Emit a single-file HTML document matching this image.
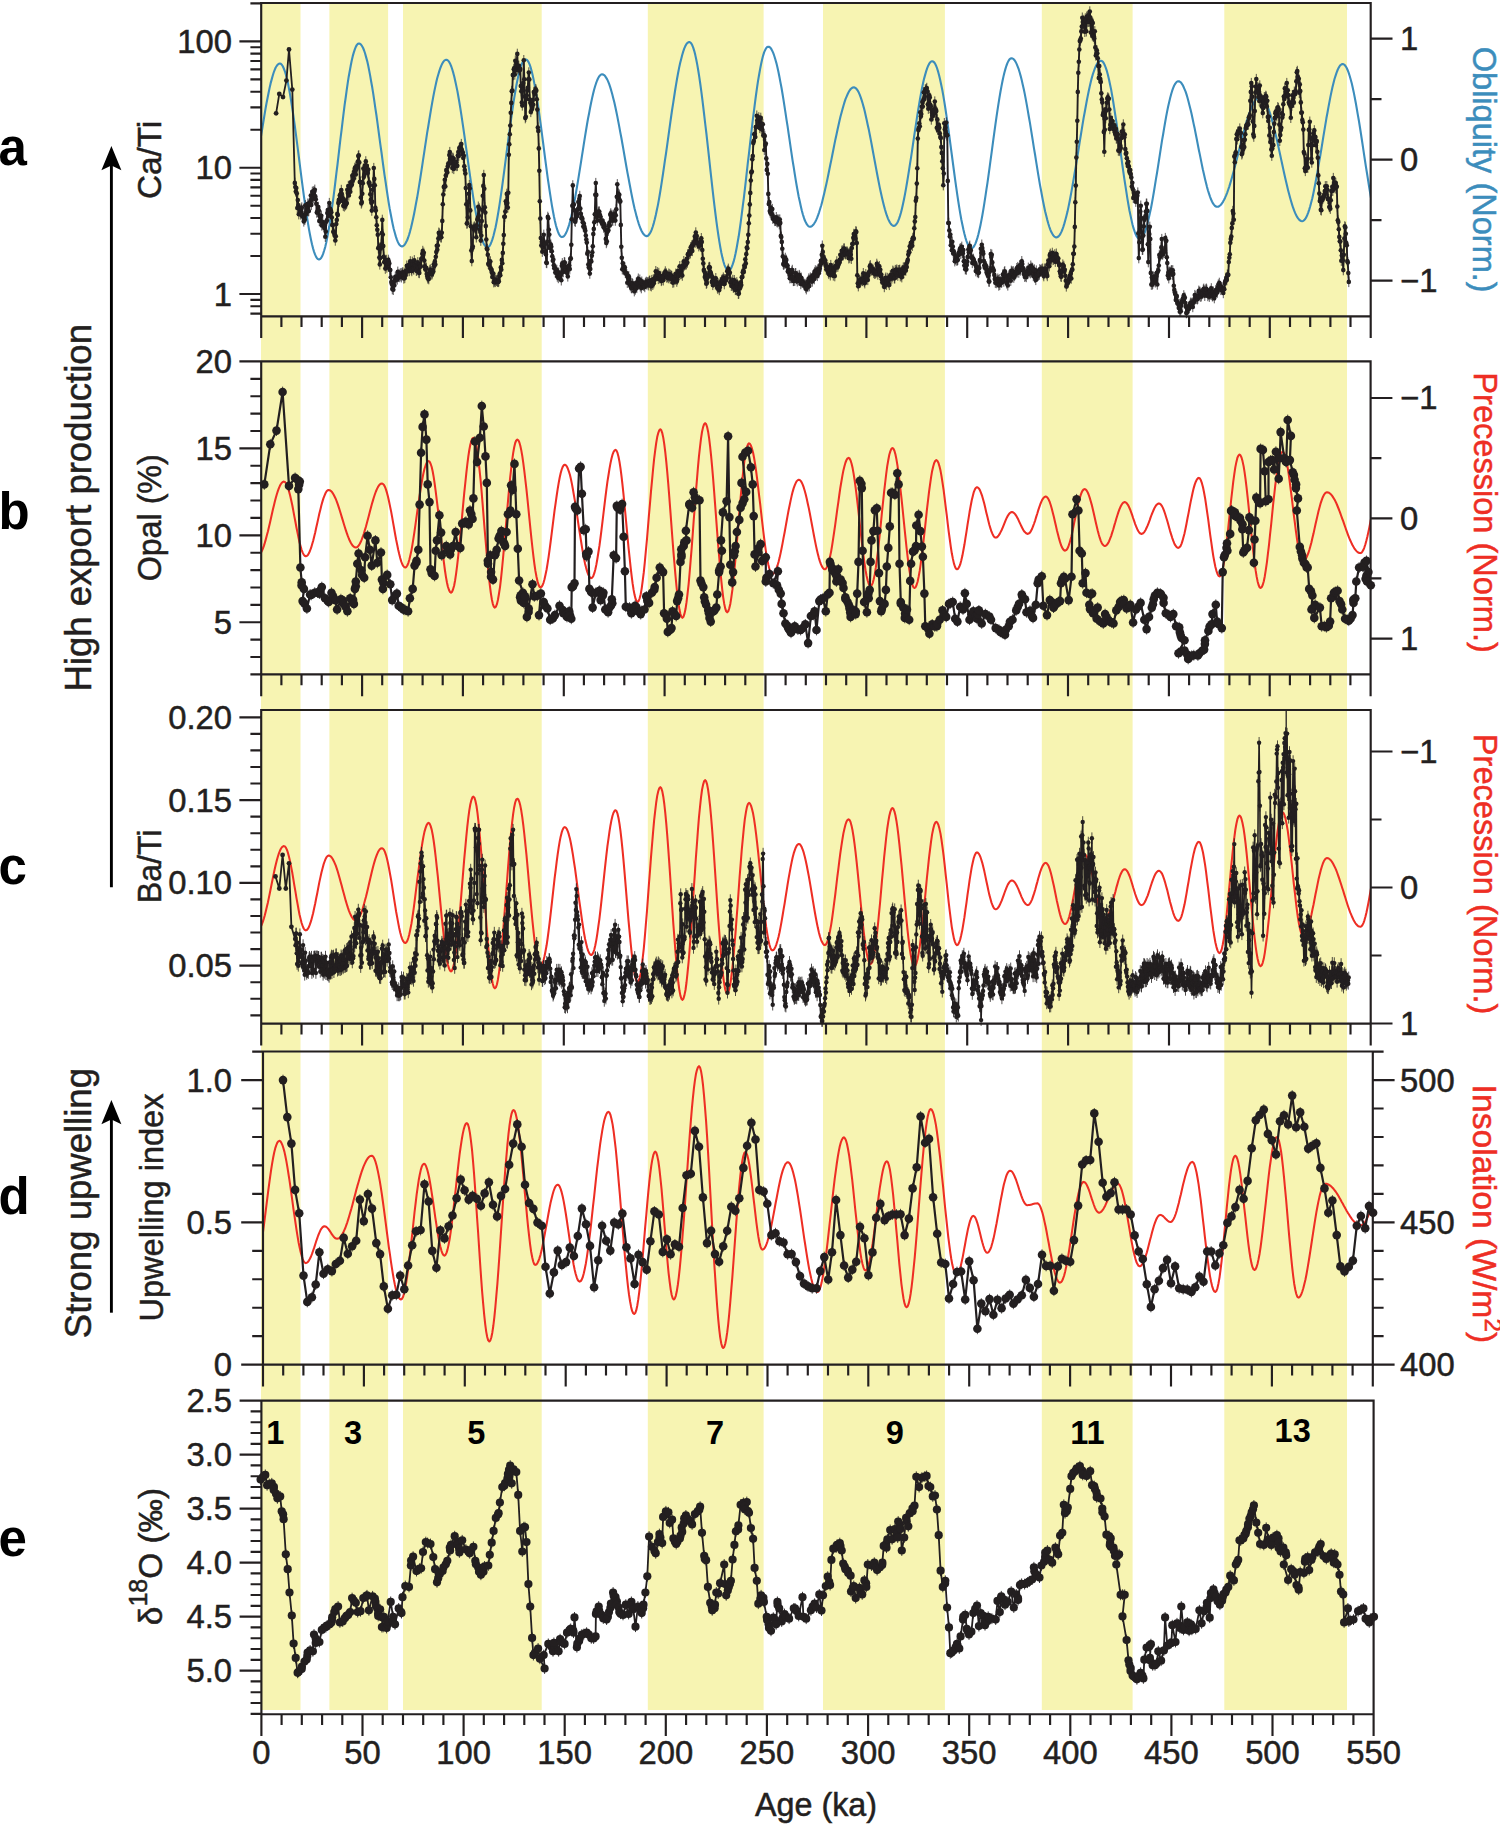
<!DOCTYPE html>
<html lang="en"><head><meta charset="utf-8"><title>Figure</title>
<style>html,body{margin:0;padding:0;background:#fff}body{width:1500px;height:1824px;overflow:hidden}</style></head>
<body>
<svg width="1500" height="1824" viewBox="0 0 1500 1824" style="display:block;font-family:'Liberation Sans',Arial,Helvetica,sans-serif">
<defs>
<clipPath id="cpa"><rect x="261.2" y="2.0" width="1109.5" height="315.3"/></clipPath>
<clipPath id="cpb"><rect x="261.2" y="360.4" width="1109.3999999999999" height="315.0"/></clipPath>
<clipPath id="cpc"><rect x="261.2" y="709.0" width="1109.5" height="315.6"/></clipPath>
<clipPath id="cpd"><rect x="263.0" y="1050.5" width="1109.8" height="315.0999999999999"/></clipPath>
<clipPath id="cpe"><rect x="261.4" y="1399.6" width="1112.1999999999998" height="315.60000000000014"/></clipPath>
<marker id="mBig" markerWidth="12" markerHeight="16" refX="6" refY="8" markerUnits="userSpaceOnUse" overflow="visible"><path d="M6 2.6V13.4" stroke="#231f20" stroke-width="0.8" fill="none"/><circle cx="6" cy="8" r="4.3" fill="#231f20"/></marker>
<marker id="mE" markerWidth="12" markerHeight="16" refX="6" refY="8" markerUnits="userSpaceOnUse" overflow="visible"><path d="M6 2.6V13.4" stroke="#231f20" stroke-width="0.9" fill="none"/><circle cx="6" cy="8" r="4.1" fill="#231f20"/></marker>
<marker id="mSm" markerWidth="8" markerHeight="14" refX="4" refY="7" markerUnits="userSpaceOnUse" overflow="visible"><path d="M4 1.8V12.2" stroke="#231f20" stroke-width="0.75" fill="none"/><circle cx="4" cy="7" r="2.3" fill="#231f20"/></marker>
<marker id="mSc" markerWidth="8" markerHeight="20" refX="4" refY="10" markerUnits="userSpaceOnUse" overflow="visible"><path d="M4 4.2V15.8" stroke="#231f20" stroke-width="0.8" fill="none"/><circle cx="4" cy="10" r="2.2" fill="#231f20"/></marker>
<marker id="mH" markerWidth="8" markerHeight="8" refX="4" refY="4" markerUnits="userSpaceOnUse" overflow="visible"><circle cx="4" cy="4" r="2.4" fill="#231f20"/></marker>
</defs>
<rect width="1500" height="1824" fill="#fff"/>
<rect x="261.0" y="3" width="39.5" height="1707" fill="#f7f4b2"/>
<rect x="329.4" y="3" width="58.7" height="1707" fill="#f7f4b2"/>
<rect x="403.0" y="3" width="138.7" height="1707" fill="#f7f4b2"/>
<rect x="647.8" y="3" width="115.8" height="1707" fill="#f7f4b2"/>
<rect x="823.0" y="3" width="121.9" height="1707" fill="#f7f4b2"/>
<rect x="1041.8" y="3" width="90.8" height="1707" fill="#f7f4b2"/>
<rect x="1224.3" y="3" width="122.7" height="1707" fill="#f7f4b2"/>
<polyline clip-path="url(#cpa)" points="258.4,153.3 259.4,146.7 260.4,140.2 261.4,133.7 262.5,127.3 263.5,121.0 264.5,114.9 265.5,108.9 266.5,103.2 267.6,97.8 268.6,92.7 269.6,87.9 270.6,83.4 271.7,79.4 272.7,75.7 273.7,72.5 274.7,69.8 275.7,67.5 276.8,65.8 277.8,64.5 278.8,63.7 279.8,63.5 280.8,63.8 281.8,64.7 282.8,66.3 283.8,68.5 284.9,71.3 285.9,74.7 286.9,78.6 287.9,83.1 288.9,88.1 289.9,93.6 290.9,99.5 291.9,105.8 292.9,112.5 293.9,119.5 294.9,126.7 295.9,134.2 296.9,141.9 297.9,149.7 298.9,157.5 299.9,165.4 300.9,173.3 301.9,181.1 302.9,188.7 303.9,196.2 305.0,203.5 306.0,210.5 307.0,217.1 308.0,223.4 309.0,229.4 310.0,234.8 311.0,239.8 312.0,244.3 313.0,248.2 314.0,251.6 315.0,254.4 316.0,256.6 317.0,258.2 318.0,259.1 319.0,259.5 320.1,259.1 321.1,258.1 322.1,256.3 323.1,253.9 324.1,250.8 325.2,247.1 326.2,242.7 327.2,237.8 328.2,232.3 329.3,226.3 330.3,219.8 331.3,212.8 332.3,205.5 333.4,197.8 334.4,189.8 335.4,181.5 336.4,173.1 337.5,164.5 338.5,155.8 339.5,147.1 340.5,138.5 341.6,129.9 342.6,121.4 343.6,113.2 344.6,105.2 345.7,97.5 346.7,90.1 347.7,83.2 348.7,76.7 349.8,70.7 350.8,65.2 351.8,60.2 352.8,55.9 353.9,52.1 354.9,49.1 355.9,46.6 356.9,44.9 357.9,43.8 359.0,43.5 360.0,43.8 361.0,44.6 362.0,46.0 363.1,48.0 364.1,50.5 365.1,53.5 366.1,57.1 367.2,61.1 368.2,65.6 369.2,70.6 370.2,75.9 371.2,81.7 372.3,87.8 373.3,94.2 374.3,100.9 375.3,107.9 376.4,115.0 377.4,122.4 378.4,129.8 379.4,137.4 380.4,144.9 381.5,152.5 382.5,160.1 383.5,167.5 384.5,174.9 385.6,182.0 386.6,189.0 387.6,195.7 388.6,202.1 389.6,208.2 390.7,214.0 391.7,219.3 392.7,224.3 393.7,228.8 394.8,232.8 395.8,236.4 396.8,239.4 397.8,241.9 398.8,243.9 399.9,245.3 400.9,246.1 401.9,246.4 402.9,246.2 403.9,245.5 404.9,244.3 405.9,242.6 407.0,240.5 408.0,238.0 409.0,235.0 410.0,231.6 411.0,227.8 412.0,223.6 413.0,219.1 414.0,214.2 415.0,209.0 416.0,203.5 417.1,197.8 418.1,191.8 419.1,185.7 420.1,179.4 421.1,172.9 422.1,166.3 423.1,159.7 424.1,153.1 425.1,146.4 426.1,139.8 427.1,133.2 428.2,126.8 429.2,120.5 430.2,114.3 431.2,108.3 432.2,102.6 433.2,97.1 434.2,91.9 435.2,87.1 436.2,82.5 437.2,78.3 438.3,74.5 439.3,71.1 440.3,68.2 441.3,65.6 442.3,63.5 443.3,61.9 444.3,60.7 445.3,60.0 446.3,59.7 447.3,60.0 448.3,60.8 449.3,62.2 450.3,64.1 451.3,66.5 452.3,69.5 453.3,72.9 454.3,76.8 455.3,81.2 456.3,85.9 457.4,91.1 458.4,96.7 459.4,102.5 460.4,108.7 461.4,115.2 462.4,121.8 463.4,128.7 464.4,135.7 465.4,142.8 466.4,149.9 467.4,157.1 468.4,164.3 469.4,171.4 470.4,178.4 471.4,185.2 472.4,191.9 473.4,198.3 474.4,204.5 475.4,210.4 476.4,215.9 477.4,221.1 478.4,225.9 479.4,230.3 480.4,234.2 481.4,237.6 482.4,240.5 483.4,243.0 484.4,244.9 485.4,246.2 486.4,247.1 487.4,247.3 488.4,247.0 489.4,246.1 490.4,244.5 491.4,242.2 492.4,239.4 493.4,236.0 494.4,232.0 495.5,227.5 496.5,222.5 497.5,217.0 498.5,211.1 499.5,204.8 500.5,198.1 501.5,191.1 502.5,183.9 503.5,176.4 504.5,168.8 505.5,161.1 506.5,153.3 507.5,145.6 508.5,137.9 509.6,130.3 510.6,122.8 511.6,115.6 512.6,108.6 513.6,101.9 514.6,95.6 515.6,89.7 516.6,84.2 517.6,79.2 518.6,74.7 519.6,70.7 520.6,67.3 521.6,64.5 522.6,62.2 523.7,60.6 524.7,59.7 525.7,59.4 526.7,59.7 527.7,60.7 528.7,62.4 529.7,64.7 530.7,67.7 531.7,71.3 532.7,75.4 533.7,80.1 534.7,85.4 535.7,91.1 536.8,97.2 537.8,103.8 538.8,110.7 539.8,117.8 540.8,125.2 541.8,132.8 542.8,140.5 543.8,148.2 544.8,156.0 545.8,163.6 546.8,171.2 547.8,178.6 548.9,185.8 549.9,192.6 550.9,199.2 551.9,205.3 552.9,211.0 553.9,216.3 554.9,221.0 555.9,225.2 556.9,228.7 557.9,231.7 558.9,234.0 559.9,235.7 561.0,236.7 562.0,237.1 563.0,236.8 564.0,236.1 565.0,234.8 566.0,233.1 567.0,230.9 568.0,228.2 569.0,225.1 570.0,221.5 571.0,217.6 572.0,213.2 573.0,208.5 574.0,203.5 575.0,198.2 576.0,192.6 577.0,186.8 578.0,180.8 579.0,174.7 580.0,168.4 581.0,162.1 582.0,155.7 583.0,149.3 584.0,142.9 585.0,136.7 586.0,130.5 587.0,124.5 588.0,118.7 589.1,113.2 590.1,107.8 591.1,102.8 592.1,98.1 593.1,93.8 594.1,89.8 595.1,86.3 596.1,83.2 597.1,80.5 598.1,78.3 599.1,76.5 600.1,75.3 601.1,74.5 602.1,74.3 603.1,74.5 604.1,75.1 605.1,76.1 606.1,77.6 607.2,79.4 608.2,81.6 609.2,84.2 610.2,87.1 611.2,90.4 612.2,94.1 613.2,98.0 614.3,102.2 615.3,106.7 616.3,111.5 617.3,116.4 618.3,121.6 619.3,126.9 620.3,132.4 621.4,138.0 622.4,143.7 623.4,149.4 624.4,155.2 625.4,161.0 626.4,166.7 627.4,172.4 628.5,178.0 629.5,183.5 630.5,188.8 631.5,194.0 632.5,199.0 633.5,203.7 634.5,208.2 635.6,212.4 636.6,216.4 637.6,220.0 638.6,223.3 639.6,226.2 640.6,228.8 641.6,231.0 642.7,232.9 643.7,234.3 644.7,235.3 645.7,235.9 646.7,236.1 647.7,235.9 648.7,235.0 649.7,233.7 650.8,231.8 651.8,229.4 652.8,226.5 653.8,223.1 654.8,219.3 655.8,215.0 656.8,210.2 657.9,205.1 658.9,199.6 659.9,193.7 660.9,187.6 661.9,181.2 662.9,174.5 663.9,167.7 664.9,160.7 666.0,153.5 667.0,146.3 668.0,139.1 669.0,131.8 670.0,124.6 671.0,117.5 672.0,110.5 673.1,103.6 674.1,97.0 675.1,90.5 676.1,84.4 677.1,78.5 678.1,73.0 679.1,67.9 680.1,63.2 681.2,58.9 682.2,55.0 683.2,51.6 684.2,48.7 685.2,46.3 686.2,44.4 687.2,43.1 688.3,42.3 689.3,42.0 690.3,42.4 691.3,43.5 692.3,45.3 693.3,47.9 694.3,51.1 695.3,55.1 696.3,59.7 697.3,64.9 698.3,70.8 699.3,77.1 700.3,84.0 701.3,91.4 702.3,99.2 703.3,107.3 704.3,115.8 705.3,124.5 706.4,133.5 707.4,142.6 708.4,151.7 709.4,160.9 710.4,170.1 711.4,179.2 712.4,188.1 713.4,196.9 714.4,205.3 715.4,213.5 716.4,221.3 717.4,228.6 718.4,235.5 719.4,241.9 720.4,247.7 721.4,253.0 722.4,257.6 723.4,261.5 724.4,264.8 725.5,267.3 726.5,269.2 727.5,270.3 728.5,270.7 729.5,270.3 730.5,269.2 731.5,267.4 732.5,264.9 733.6,261.7 734.6,257.8 735.6,253.3 736.6,248.2 737.6,242.5 738.7,236.3 739.7,229.5 740.7,222.3 741.7,214.7 742.7,206.7 743.8,198.4 744.8,189.8 745.8,181.1 746.8,172.2 747.8,163.2 748.9,154.2 749.9,145.2 750.9,136.3 751.9,127.5 752.9,119.0 754.0,110.7 755.0,102.7 756.0,95.0 757.0,87.8 758.0,81.1 759.1,74.8 760.1,69.1 761.1,64.0 762.1,59.5 763.1,55.6 764.1,52.4 765.2,49.9 766.2,48.1 767.2,47.0 768.2,46.7 769.2,46.9 770.3,47.7 771.3,49.0 772.3,50.9 773.3,53.2 774.3,56.0 775.3,59.3 776.4,63.1 777.4,67.2 778.4,71.8 779.4,76.8 780.4,82.1 781.5,87.8 782.5,93.7 783.5,99.9 784.5,106.3 785.5,112.9 786.5,119.6 787.6,126.4 788.6,133.3 789.6,140.2 790.6,147.1 791.6,153.9 792.6,160.6 793.7,167.2 794.7,173.6 795.7,179.8 796.7,185.7 797.7,191.3 798.7,196.7 799.8,201.6 800.8,206.2 801.8,210.4 802.8,214.2 803.8,217.4 804.8,220.3 805.9,222.6 806.9,224.4 807.9,225.7 808.9,226.5 809.9,226.8 811.0,226.6 812.0,226.1 813.0,225.1 814.0,223.8 815.0,222.2 816.1,220.2 817.1,217.9 818.1,215.2 819.1,212.3 820.1,209.0 821.2,205.5 822.2,201.7 823.2,197.6 824.2,193.4 825.2,189.0 826.3,184.3 827.3,179.6 828.3,174.7 829.3,169.7 830.3,164.7 831.4,159.6 832.4,154.5 833.4,149.5 834.4,144.4 835.4,139.4 836.5,134.6 837.5,129.8 838.5,125.2 839.5,120.8 840.5,116.5 841.6,112.5 842.6,108.7 843.6,105.2 844.6,101.9 845.6,98.9 846.7,96.3 847.7,94.0 848.7,92.0 849.7,90.3 850.7,89.0 851.8,88.1 852.8,87.5 853.8,87.4 854.8,87.6 855.8,88.2 856.8,89.3 857.8,90.7 858.8,92.6 859.8,94.9 860.8,97.6 861.8,100.6 862.8,104.0 863.8,107.6 864.8,111.6 865.8,115.9 866.8,120.4 867.8,125.2 868.9,130.1 869.9,135.2 870.9,140.4 871.9,145.8 872.9,151.2 873.9,156.6 874.9,162.0 875.9,167.4 876.9,172.8 877.9,178.0 878.9,183.1 879.9,188.1 880.9,192.8 881.9,197.3 882.9,201.6 883.9,205.6 884.9,209.3 885.9,212.6 886.9,215.7 887.9,218.3 888.9,220.6 889.9,222.5 890.9,224.0 891.9,225.0 892.9,225.7 893.9,225.9 894.9,225.6 895.9,224.7 897.0,223.3 898.0,221.4 899.0,218.9 900.0,215.9 901.0,212.5 902.0,208.5 903.0,204.1 904.0,199.3 905.0,194.1 906.0,188.6 907.0,182.7 908.0,176.6 909.0,170.3 910.0,163.8 911.1,157.1 912.1,150.3 913.1,143.5 914.1,136.7 915.1,130.0 916.1,123.3 917.1,116.8 918.1,110.5 919.1,104.4 920.1,98.5 921.1,93.0 922.1,87.8 923.1,83.0 924.1,78.6 925.2,74.6 926.2,71.1 927.2,68.2 928.2,65.7 929.2,63.7 930.2,62.3 931.2,61.5 932.2,61.2 933.2,61.5 934.2,62.4 935.2,63.9 936.2,66.0 937.2,68.7 938.2,71.9 939.2,75.7 940.2,80.0 941.2,84.7 942.3,90.0 943.3,95.6 944.3,101.6 945.3,108.0 946.3,114.7 947.3,121.6 948.3,128.7 949.3,136.0 950.3,143.5 951.3,151.0 952.3,158.5 953.3,166.0 954.3,173.5 955.3,180.8 956.3,187.9 957.3,194.8 958.3,201.5 959.3,207.9 960.3,213.9 961.3,219.5 962.4,224.7 963.4,229.5 964.4,233.8 965.4,237.6 966.4,240.8 967.4,243.5 968.4,245.5 969.4,247.1 970.4,248.0 971.4,248.3 972.4,248.0 973.4,247.1 974.4,245.6 975.4,243.6 976.4,241.0 977.4,237.9 978.4,234.3 979.4,230.1 980.4,225.5 981.4,220.4 982.4,215.0 983.4,209.1 984.4,202.9 985.4,196.4 986.4,189.6 987.5,182.6 988.5,175.4 989.5,168.1 990.5,160.7 991.5,153.3 992.5,145.8 993.5,138.4 994.5,131.1 995.5,123.9 996.5,116.9 997.5,110.1 998.5,103.6 999.5,97.4 1000.5,91.5 1001.5,86.1 1002.5,81.0 1003.5,76.4 1004.5,72.2 1005.5,68.6 1006.5,65.5 1007.5,62.9 1008.5,60.9 1009.5,59.4 1010.5,58.5 1011.5,58.2 1012.6,58.5 1013.6,59.2 1014.6,60.3 1015.6,61.9 1016.6,63.9 1017.6,66.3 1018.7,69.2 1019.7,72.5 1020.7,76.1 1021.7,80.1 1022.7,84.5 1023.8,89.2 1024.8,94.1 1025.8,99.4 1026.8,104.9 1027.8,110.6 1028.8,116.5 1029.9,122.6 1030.9,128.8 1031.9,135.1 1032.9,141.4 1033.9,147.8 1035.0,154.2 1036.0,160.6 1037.0,166.9 1038.0,173.1 1039.0,179.2 1040.0,185.1 1041.1,190.8 1042.1,196.3 1043.1,201.5 1044.1,206.5 1045.1,211.2 1046.2,215.6 1047.2,219.6 1048.2,223.2 1049.2,226.5 1050.2,229.3 1051.2,231.8 1052.3,233.8 1053.3,235.4 1054.3,236.5 1055.3,237.2 1056.3,237.4 1057.3,237.2 1058.4,236.5 1059.4,235.4 1060.4,233.9 1061.4,231.9 1062.4,229.5 1063.4,226.6 1064.4,223.4 1065.4,219.8 1066.4,215.9 1067.5,211.6 1068.5,206.9 1069.5,202.0 1070.5,196.8 1071.5,191.4 1072.5,185.8 1073.5,179.9 1074.5,174.0 1075.6,167.8 1076.6,161.6 1077.6,155.4 1078.6,149.1 1079.6,142.7 1080.6,136.5 1081.6,130.3 1082.6,124.2 1083.6,118.2 1084.7,112.3 1085.7,106.7 1086.7,101.3 1087.7,96.1 1088.7,91.2 1089.7,86.6 1090.7,82.3 1091.7,78.3 1092.7,74.7 1093.8,71.5 1094.8,68.7 1095.8,66.2 1096.8,64.2 1097.8,62.7 1098.8,61.6 1099.8,60.9 1100.8,60.7 1101.9,61.0 1102.9,61.9 1103.9,63.4 1104.9,65.5 1105.9,68.2 1107.0,71.4 1108.0,75.2 1109.0,79.5 1110.0,84.2 1111.1,89.4 1112.1,95.1 1113.1,101.0 1114.1,107.4 1115.1,114.0 1116.2,120.9 1117.2,127.9 1118.2,135.1 1119.2,142.4 1120.3,149.8 1121.3,157.2 1122.3,164.5 1123.3,171.7 1124.3,178.7 1125.4,185.6 1126.4,192.2 1127.4,198.6 1128.4,204.5 1129.4,210.2 1130.5,215.4 1131.5,220.1 1132.5,224.4 1133.5,228.2 1134.6,231.4 1135.6,234.1 1136.6,236.2 1137.6,237.7 1138.6,238.6 1139.7,238.9 1140.7,238.7 1141.7,237.9 1142.7,236.5 1143.7,234.7 1144.8,232.3 1145.8,229.4 1146.8,226.1 1147.8,222.3 1148.8,218.1 1149.8,213.5 1150.9,208.5 1151.9,203.2 1152.9,197.6 1153.9,191.7 1154.9,185.7 1155.9,179.4 1157.0,173.0 1158.0,166.6 1159.0,160.1 1160.0,153.6 1161.0,147.1 1162.0,140.7 1163.1,134.5 1164.1,128.4 1165.1,122.5 1166.1,116.9 1167.1,111.6 1168.1,106.7 1169.2,102.0 1170.2,97.8 1171.2,94.0 1172.2,90.7 1173.2,87.8 1174.2,85.5 1175.3,83.6 1176.3,82.3 1177.3,81.5 1178.3,81.2 1179.3,81.4 1180.4,82.1 1181.4,83.1 1182.4,84.6 1183.4,86.5 1184.4,88.8 1185.5,91.4 1186.5,94.4 1187.5,97.8 1188.5,101.5 1189.5,105.4 1190.6,109.7 1191.6,114.1 1192.6,118.8 1193.6,123.6 1194.7,128.6 1195.7,133.7 1196.7,138.8 1197.7,144.0 1198.7,149.2 1199.8,154.4 1200.8,159.4 1201.8,164.4 1202.8,169.2 1203.9,173.9 1204.9,178.4 1205.9,182.6 1206.9,186.6 1207.9,190.2 1209.0,193.6 1210.0,196.6 1211.0,199.3 1212.0,201.5 1213.0,203.4 1214.1,204.9 1215.1,206.0 1216.1,206.6 1217.1,206.8 1218.1,206.7 1219.1,206.2 1220.1,205.5 1221.1,204.5 1222.1,203.2 1223.1,201.6 1224.1,199.8 1225.1,197.7 1226.1,195.4 1227.1,192.8 1228.1,190.0 1229.1,187.1 1230.1,183.9 1231.1,180.5 1232.1,177.0 1233.1,173.4 1234.1,169.7 1235.1,165.8 1236.1,161.9 1237.1,157.9 1238.1,154.0 1239.1,149.9 1240.1,145.9 1241.1,142.0 1242.1,138.1 1243.1,134.2 1244.1,130.5 1245.1,126.9 1246.1,123.4 1247.1,120.0 1248.1,116.8 1249.1,113.9 1250.1,111.1 1251.1,108.5 1252.1,106.2 1253.1,104.1 1254.1,102.3 1255.1,100.7 1256.1,99.4 1257.1,98.4 1258.1,97.7 1259.1,97.2 1260.1,97.1 1261.1,97.2 1262.1,97.8 1263.1,98.6 1264.1,99.8 1265.1,101.4 1266.1,103.2 1267.1,105.4 1268.1,107.9 1269.1,110.6 1270.1,113.6 1271.1,116.9 1272.1,120.4 1273.1,124.2 1274.1,128.1 1275.1,132.2 1276.1,136.5 1277.1,140.8 1278.1,145.3 1279.1,149.9 1280.1,154.5 1281.1,159.1 1282.1,163.8 1283.1,168.4 1284.1,172.9 1285.1,177.4 1286.1,181.8 1287.1,186.1 1288.1,190.2 1289.1,194.1 1290.1,197.8 1291.1,201.3 1292.1,204.6 1293.1,207.7 1294.1,210.4 1295.1,212.9 1296.1,215.1 1297.1,216.9 1298.1,218.4 1299.1,219.6 1300.1,220.5 1301.1,221.0 1302.1,221.2 1303.1,221.0 1304.2,220.2 1305.2,219.0 1306.2,217.4 1307.2,215.2 1308.2,212.6 1309.2,209.6 1310.2,206.2 1311.2,202.4 1312.3,198.2 1313.3,193.7 1314.3,188.8 1315.3,183.7 1316.3,178.3 1317.3,172.7 1318.3,166.9 1319.3,161.0 1320.4,154.9 1321.4,148.8 1322.4,142.6 1323.4,136.4 1324.4,130.3 1325.4,124.3 1326.4,118.3 1327.5,112.5 1328.5,106.9 1329.5,101.6 1330.5,96.4 1331.5,91.6 1332.5,87.0 1333.5,82.9 1334.5,79.0 1335.6,75.6 1336.6,72.6 1337.6,70.0 1338.6,67.9 1339.6,66.2 1340.6,65.0 1341.6,64.3 1342.6,64.0 1343.7,64.3 1344.7,65.0 1345.7,66.3 1346.7,68.0 1347.7,70.2 1348.7,72.9 1349.7,76.0 1350.7,79.5 1351.8,83.5 1352.8,87.9 1353.8,92.6 1354.8,97.7 1355.8,103.0 1356.8,108.7 1357.8,114.6 1358.9,120.7 1359.9,127.0 1360.9,133.5 1361.9,140.0 1362.9,146.7 1363.9,153.3 1364.9,160.0 1365.9,166.7 1367.0,173.2 1368.0,179.7 1369.0,186.0 1370.0,192.1 1371.0,198.0 1372.0,203.7 1373.0,209.0" fill="none" stroke="#3c8dbc" stroke-width="2.1" stroke-linejoin="round"/>
<polyline clip-path="url(#cpb)" points="258.8,555.1 259.8,554.3 260.8,552.9 261.8,551.1 262.8,548.8 263.8,546.1 264.8,542.9 265.8,539.4 266.8,535.6 267.9,531.5 268.9,527.3 269.9,522.9 270.9,518.5 271.9,514.0 272.9,509.6 273.9,505.4 274.9,501.3 275.9,497.5 276.9,494.0 277.9,490.9 278.9,488.1 279.9,485.8 280.9,484.0 281.9,482.7 282.9,481.9 283.9,481.6 285.0,482.0 286.0,483.3 287.1,485.3 288.1,488.1 289.1,491.6 290.2,495.7 291.2,500.3 292.3,505.3 293.3,510.6 294.3,516.1 295.4,521.7 296.4,527.2 297.5,532.6 298.5,537.6 299.5,542.2 300.6,546.3 301.6,549.8 302.7,552.6 303.7,554.6 304.7,555.8 305.8,556.3 306.8,555.9 307.9,554.9 308.9,553.3 309.9,551.0 311.0,548.2 312.0,544.8 313.1,541.0 314.1,536.9 315.2,532.5 316.2,527.8 317.3,523.1 318.3,518.4 319.3,513.8 320.4,509.4 321.4,505.2 322.5,501.4 323.5,498.1 324.6,495.3 325.6,493.0 326.6,491.3 327.7,490.3 328.7,490.0 329.7,490.2 330.7,490.8 331.7,491.7 332.7,493.1 333.7,494.7 334.7,496.7 335.8,499.0 336.8,501.6 337.8,504.4 338.8,507.4 339.8,510.5 340.8,513.8 341.8,517.1 342.8,520.4 343.8,523.7 344.8,527.0 345.8,530.1 346.8,533.1 347.8,535.9 348.8,538.5 349.8,540.8 350.8,542.8 351.8,544.4 352.8,545.8 353.8,546.7 354.8,547.3 355.8,547.5 356.8,547.3 357.8,546.6 358.8,545.4 359.8,543.8 360.8,541.8 361.8,539.4 362.8,536.7 363.8,533.7 364.8,530.4 365.9,526.8 366.9,523.1 367.9,519.3 368.9,515.5 369.9,511.6 370.9,507.8 371.9,504.1 372.9,500.6 373.9,497.3 374.9,494.3 375.9,491.5 376.9,489.1 377.9,487.1 378.9,485.5 379.9,484.4 380.9,483.7 381.9,483.5 382.9,483.9 384.0,485.0 385.0,486.9 386.0,489.6 387.0,492.9 388.0,496.8 389.0,501.2 390.0,506.1 391.1,511.4 392.1,516.9 393.1,522.6 394.1,528.3 395.1,534.0 396.1,539.5 397.2,544.8 398.2,549.7 399.2,554.1 400.2,558.0 401.2,561.4 402.2,564.0 403.2,565.9 404.3,567.1 405.3,567.5 406.3,567.0 407.3,565.5 408.3,563.1 409.3,559.7 410.3,555.5 411.4,550.6 412.4,544.9 413.4,538.7 414.4,532.1 415.4,525.1 416.4,517.9 417.4,510.6 418.5,503.4 419.5,496.5 420.5,489.8 421.5,483.6 422.5,478.0 423.5,473.0 424.5,468.8 425.6,465.5 426.6,463.0 427.6,461.6 428.6,461.1 429.6,461.7 430.6,463.7 431.7,467.0 432.7,471.5 433.7,477.1 434.7,483.8 435.7,491.3 436.7,499.5 437.8,508.3 438.8,517.5 439.8,526.9 440.8,536.2 441.8,545.4 442.9,554.2 443.9,562.4 444.9,570.0 445.9,576.6 446.9,582.2 447.9,586.7 449.0,590.0 450.0,592.0 451.0,592.7 452.0,591.9 453.0,589.5 454.1,585.7 455.1,580.4 456.1,573.7 457.1,565.9 458.1,557.1 459.1,547.4 460.2,537.0 461.2,526.2 462.2,515.2 463.2,504.2 464.2,493.4 465.3,483.0 466.3,473.3 467.3,464.5 468.3,456.7 469.3,450.0 470.3,444.7 471.4,440.9 472.4,438.5 473.4,437.7 474.4,438.7 475.4,441.5 476.5,446.1 477.5,452.5 478.5,460.4 479.5,469.7 480.6,480.2 481.6,491.6 482.6,503.8 483.6,516.3 484.6,529.0 485.7,541.6 486.7,553.7 487.7,565.1 488.7,575.6 489.8,584.9 490.8,592.8 491.8,599.2 492.8,603.8 493.8,606.7 494.9,607.6 495.9,606.7 496.9,604.2 497.9,600.0 498.9,594.3 500.0,587.1 501.0,578.6 502.0,569.0 503.0,558.5 504.0,547.3 505.0,535.6 506.1,523.6 507.1,511.6 508.1,499.9 509.1,488.7 510.1,478.2 511.2,468.6 512.2,460.1 513.2,452.9 514.2,447.2 515.2,443.0 516.2,440.5 517.3,439.6 518.3,440.3 519.3,442.3 520.3,445.7 521.3,450.4 522.3,456.2 523.3,463.1 524.3,470.9 525.3,479.5 526.4,488.8 527.4,498.5 528.4,508.5 529.4,518.6 530.4,528.6 531.4,538.3 532.4,547.5 533.4,556.1 534.4,564.0 535.4,570.9 536.5,576.7 537.5,581.3 538.5,584.7 539.5,586.8 540.5,587.4 541.5,586.9 542.5,585.4 543.5,582.8 544.5,579.2 545.5,574.8 546.6,569.5 547.6,563.4 548.6,556.8 549.6,549.6 550.6,542.0 551.6,534.1 552.6,526.1 553.6,518.1 554.6,510.2 555.7,502.7 556.7,495.5 557.7,488.8 558.7,482.8 559.7,477.5 560.7,473.0 561.7,469.5 562.7,466.9 563.7,465.3 564.8,464.8 565.8,465.2 566.8,466.4 567.8,468.5 568.8,471.3 569.9,474.8 570.9,479.0 571.9,483.9 572.9,489.3 573.9,495.1 575.0,501.4 576.0,507.9 577.0,514.6 578.0,521.5 579.0,528.3 580.1,535.0 581.1,541.5 582.1,547.8 583.1,553.6 584.1,559.0 585.1,563.9 586.2,568.1 587.2,571.6 588.2,574.4 589.2,576.5 590.2,577.7 591.3,578.1 592.3,577.6 593.3,575.9 594.3,573.2 595.3,569.5 596.3,564.9 597.3,559.3 598.3,553.0 599.4,546.0 600.4,538.5 601.4,530.6 602.4,522.4 603.4,514.0 604.4,505.6 605.4,497.4 606.4,489.4 607.4,481.9 608.5,475.0 609.5,468.6 610.5,463.1 611.5,458.5 612.5,454.7 613.5,452.1 614.5,450.4 615.5,449.9 616.5,450.6 617.5,452.9 618.5,456.7 619.5,461.9 620.5,468.4 621.5,476.1 622.5,484.8 623.5,494.3 624.5,504.5 625.5,515.1 626.5,525.9 627.5,536.8 628.5,547.4 629.6,557.5 630.6,567.1 631.6,575.7 632.6,583.4 633.6,589.9 634.6,595.1 635.6,598.9 636.6,601.2 637.6,602.0 638.6,601.1 639.6,598.5 640.7,594.2 641.7,588.3 642.7,580.9 643.8,572.2 644.8,562.3 645.8,551.5 646.9,540.0 647.9,528.0 648.9,515.7 650.0,503.4 651.0,491.3 652.1,479.8 653.1,469.0 654.1,459.1 655.2,450.4 656.2,443.0 657.2,437.1 658.3,432.8 659.3,430.2 660.3,429.3 661.3,430.3 662.3,433.2 663.3,437.9 664.3,444.3 665.3,452.4 666.3,461.9 667.3,472.6 668.3,484.4 669.3,497.0 670.3,510.2 671.3,523.6 672.3,537.0 673.3,550.2 674.4,562.8 675.4,574.6 676.4,585.3 677.4,594.8 678.4,602.9 679.4,609.3 680.4,614.0 681.4,616.9 682.4,617.9 683.4,616.9 684.4,613.9 685.5,609.1 686.5,602.4 687.5,594.1 688.6,584.3 689.6,573.1 690.6,561.0 691.7,547.9 692.7,534.4 693.7,520.5 694.8,506.7 695.8,493.1 696.9,480.1 697.9,467.9 698.9,456.8 700.0,447.0 701.0,438.6 702.0,432.0 703.1,427.1 704.1,424.2 705.1,423.2 706.1,424.1 707.1,427.0 708.1,431.7 709.1,438.2 710.1,446.3 711.1,455.8 712.1,466.6 713.1,478.4 714.1,491.1 715.1,504.3 716.1,517.7 717.1,531.2 718.1,544.4 719.2,557.0 720.2,568.8 721.2,579.6 722.2,589.2 723.2,597.3 724.2,603.7 725.2,608.4 726.2,611.3 727.2,612.3 728.2,611.3 729.2,608.5 730.3,603.9 731.3,597.6 732.4,589.7 733.4,580.5 734.4,570.0 735.5,558.7 736.5,546.6 737.6,534.1 738.6,521.5 739.6,509.0 740.7,496.9 741.7,485.6 742.8,475.1 743.8,465.9 744.8,458.0 745.9,451.7 746.9,447.1 748.0,444.3 749.0,443.3 750.0,443.9 751.0,445.8 752.0,448.7 753.1,452.8 754.1,458.0 755.1,464.1 756.1,471.0 757.1,478.6 758.1,486.8 759.1,495.4 760.2,504.2 761.2,513.1 762.2,522.0 763.2,530.5 764.2,538.7 765.2,546.3 766.2,553.3 767.3,559.3 768.3,564.5 769.3,568.6 770.3,571.6 771.3,573.4 772.3,574.0 773.4,573.7 774.4,572.6 775.4,570.9 776.4,568.6 777.4,565.7 778.5,562.1 779.5,558.1 780.5,553.6 781.5,548.8 782.5,543.6 783.5,538.1 784.6,532.5 785.6,526.9 786.6,521.2 787.6,515.6 788.6,510.2 789.7,505.0 790.7,500.1 791.7,495.6 792.7,491.6 793.7,488.1 794.8,485.1 795.8,482.8 796.8,481.1 797.8,480.1 798.8,479.7 799.8,480.1 800.8,481.0 801.8,482.6 802.8,484.9 803.8,487.7 804.8,491.0 805.8,494.8 806.8,499.1 807.8,503.7 808.9,508.6 809.9,513.8 810.9,519.1 811.9,524.5 812.9,529.9 813.9,535.3 814.9,540.4 815.9,545.4 816.9,550.0 817.9,554.2 818.9,558.1 819.9,561.4 820.9,564.2 821.9,566.4 822.9,568.0 823.9,569.0 824.9,569.3 825.9,568.8 826.9,567.3 828.0,564.7 829.0,561.2 830.0,556.8 831.1,551.6 832.1,545.7 833.1,539.2 834.1,532.3 835.2,524.9 836.2,517.4 837.2,509.8 838.3,502.3 839.3,495.0 840.3,488.0 841.4,481.5 842.4,475.6 843.4,470.4 844.5,466.0 845.5,462.5 846.5,460.0 847.5,458.4 848.6,457.9 849.6,458.5 850.6,460.5 851.6,463.7 852.6,468.1 853.6,473.6 854.6,480.0 855.6,487.3 856.6,495.4 857.6,503.9 858.6,512.9 859.6,522.0 860.6,531.1 861.6,540.1 862.6,548.6 863.6,556.7 864.6,564.0 865.6,570.5 866.6,576.0 867.6,580.3 868.6,583.5 869.6,585.5 870.6,586.1 871.6,585.4 872.7,583.1 873.7,579.3 874.8,574.1 875.8,567.7 876.8,560.1 877.9,551.6 878.9,542.3 880.0,532.4 881.0,522.2 882.0,511.9 883.1,501.7 884.1,491.8 885.2,482.5 886.2,474.0 887.2,466.4 888.3,460.0 889.3,454.8 890.4,451.1 891.4,448.8 892.4,448.0 893.4,448.7 894.4,450.8 895.4,454.3 896.4,459.1 897.4,465.1 898.4,472.2 899.4,480.2 900.4,488.9 901.5,498.3 902.5,508.0 903.5,518.0 904.5,528.0 905.5,537.7 906.5,547.1 907.5,555.8 908.5,563.8 909.5,570.9 910.5,576.9 911.5,581.7 912.5,585.2 913.5,587.3 914.5,588.0 915.5,587.3 916.5,585.2 917.6,581.7 918.6,576.9 919.7,570.9 920.7,563.9 921.7,556.0 922.8,547.4 923.8,538.3 924.9,528.8 925.9,519.3 926.9,509.8 928.0,500.7 929.0,492.1 930.1,484.2 931.1,477.2 932.1,471.2 933.2,466.5 934.2,463.0 935.3,460.8 936.3,460.1 937.3,460.8 938.4,462.8 939.4,466.1 940.5,470.6 941.5,476.1 942.5,482.6 943.6,489.9 944.6,497.9 945.6,506.2 946.7,514.7 947.7,523.3 948.7,531.6 949.8,539.5 950.8,546.8 951.8,553.3 952.9,558.9 953.9,563.4 955.0,566.7 956.0,568.7 957.0,569.3 958.1,568.8 959.1,567.1 960.2,564.4 961.2,560.7 962.3,556.1 963.3,550.7 964.4,544.8 965.4,538.3 966.5,531.7 967.5,524.9 968.6,518.2 969.6,511.8 970.7,505.8 971.7,500.5 972.8,495.9 973.8,492.1 974.9,489.4 975.9,487.8 977.0,487.2 978.0,487.6 979.1,488.7 980.1,490.6 981.1,493.1 982.2,496.2 983.2,499.8 984.3,503.8 985.3,508.0 986.3,512.4 987.4,516.8 988.4,521.0 989.4,525.0 990.5,528.6 991.5,531.7 992.6,534.2 993.6,536.1 994.6,537.2 995.7,537.6 996.7,537.4 997.7,536.6 998.7,535.4 999.7,533.9 1000.7,531.9 1001.8,529.7 1002.8,527.3 1003.8,524.8 1004.8,522.3 1005.8,519.9 1006.8,517.7 1007.8,515.8 1008.9,514.2 1009.9,513.0 1010.9,512.3 1011.9,512.0 1013.0,512.3 1014.0,513.0 1015.1,514.1 1016.1,515.6 1017.2,517.5 1018.3,519.6 1019.3,521.8 1020.4,524.1 1021.4,526.3 1022.5,528.4 1023.5,530.3 1024.6,531.8 1025.7,532.9 1026.7,533.6 1027.8,533.9 1028.8,533.5 1029.9,532.6 1030.9,531.1 1032.0,529.0 1033.0,526.4 1034.1,523.5 1035.2,520.3 1036.2,516.9 1037.3,513.5 1038.3,510.1 1039.4,506.9 1040.4,504.0 1041.5,501.4 1042.5,499.3 1043.6,497.8 1044.6,496.9 1045.7,496.5 1046.7,496.9 1047.7,498.0 1048.8,499.8 1049.8,502.2 1050.8,505.3 1051.8,508.8 1052.8,512.7 1053.9,517.0 1054.9,521.4 1055.9,525.8 1056.9,530.2 1058.0,534.5 1059.0,538.4 1060.0,541.9 1061.0,545.0 1062.0,547.4 1063.1,549.2 1064.1,550.3 1065.1,550.7 1066.1,550.2 1067.2,549.0 1068.2,547.0 1069.2,544.2 1070.2,540.7 1071.3,536.7 1072.3,532.2 1073.3,527.4 1074.3,522.4 1075.4,517.3 1076.4,512.3 1077.4,507.5 1078.4,503.0 1079.5,499.0 1080.5,495.6 1081.5,492.8 1082.5,490.7 1083.6,489.5 1084.6,489.1 1085.6,489.4 1086.6,490.5 1087.6,492.2 1088.6,494.5 1089.6,497.4 1090.6,500.8 1091.7,504.6 1092.7,508.7 1093.7,513.1 1094.7,517.5 1095.7,522.0 1096.7,526.3 1097.7,530.5 1098.7,534.3 1099.7,537.7 1100.7,540.6 1101.7,542.9 1102.7,544.6 1103.8,545.6 1104.8,546.0 1105.8,545.7 1106.9,544.8 1107.9,543.4 1109.0,541.4 1110.0,538.9 1111.1,536.1 1112.1,532.9 1113.2,529.5 1114.2,525.9 1115.3,522.3 1116.3,518.7 1117.4,515.3 1118.4,512.1 1119.5,509.2 1120.5,506.8 1121.6,504.8 1122.6,503.3 1123.7,502.4 1124.7,502.1 1125.8,502.4 1126.8,503.3 1127.9,504.8 1128.9,506.8 1130.0,509.2 1131.0,511.9 1132.1,514.9 1133.1,518.0 1134.2,521.1 1135.2,524.1 1136.3,526.8 1137.3,529.2 1138.4,531.2 1139.4,532.7 1140.5,533.6 1141.5,533.9 1142.6,533.6 1143.6,532.8 1144.6,531.6 1145.6,529.9 1146.6,527.8 1147.7,525.4 1148.7,522.8 1149.7,520.1 1150.7,517.2 1151.7,514.5 1152.8,511.9 1153.8,509.5 1154.8,507.4 1155.8,505.7 1156.9,504.5 1157.9,503.7 1158.9,503.4 1159.9,503.7 1160.9,504.6 1162.0,506.1 1163.0,508.1 1164.0,510.6 1165.0,513.5 1166.0,516.7 1167.1,520.2 1168.1,523.8 1169.1,527.5 1170.1,531.1 1171.2,534.6 1172.2,537.8 1173.2,540.7 1174.2,543.2 1175.2,545.2 1176.3,546.7 1177.3,547.6 1178.3,547.9 1179.3,547.4 1180.4,546.2 1181.4,544.1 1182.4,541.2 1183.4,537.6 1184.5,533.4 1185.5,528.8 1186.5,523.7 1187.5,518.3 1188.6,512.9 1189.6,507.4 1190.6,502.1 1191.7,497.0 1192.7,492.3 1193.7,488.1 1194.7,484.6 1195.8,481.7 1196.8,479.6 1197.8,478.3 1198.8,477.9 1199.9,478.5 1200.9,480.3 1201.9,483.2 1203.0,487.3 1204.0,492.3 1205.1,498.2 1206.1,504.8 1207.1,511.9 1208.2,519.4 1209.2,527.1 1210.2,534.9 1211.3,542.4 1212.3,549.5 1213.3,556.1 1214.4,562.0 1215.4,567.0 1216.5,571.1 1217.5,574.0 1218.5,575.8 1219.6,576.4 1220.6,575.6 1221.7,573.1 1222.7,569.1 1223.8,563.6 1224.8,556.8 1225.9,548.8 1226.9,540.0 1228.0,530.4 1229.0,520.5 1230.1,510.4 1231.1,500.5 1232.2,491.0 1233.2,482.1 1234.3,474.2 1235.3,467.4 1236.4,461.9 1237.4,457.8 1238.5,455.4 1239.5,454.5 1240.5,455.3 1241.5,457.5 1242.5,461.1 1243.6,466.1 1244.6,472.3 1245.6,479.7 1246.6,487.9 1247.6,496.9 1248.6,506.4 1249.6,516.3 1250.6,526.3 1251.6,536.1 1252.6,545.6 1253.6,554.6 1254.6,562.9 1255.6,570.2 1256.6,576.4 1257.6,581.4 1258.6,585.0 1259.6,587.3 1260.6,588.0 1261.7,587.2 1262.7,585.0 1263.8,581.3 1264.8,576.2 1265.8,569.8 1266.9,562.3 1267.9,553.9 1269.0,544.8 1270.0,535.0 1271.1,525.0 1272.1,514.8 1273.1,504.7 1274.2,495.0 1275.2,485.8 1276.3,477.4 1277.3,469.9 1278.4,463.6 1279.4,458.5 1280.4,454.8 1281.5,452.5 1282.5,451.7 1283.6,452.4 1284.6,454.4 1285.6,457.7 1286.6,462.2 1287.7,467.7 1288.7,474.2 1289.7,481.5 1290.7,489.5 1291.8,497.8 1292.8,506.3 1293.8,514.9 1294.9,523.2 1295.9,531.1 1296.9,538.4 1297.9,544.9 1299.0,550.5 1300.0,555.0 1301.0,558.3 1302.0,560.3 1303.1,560.9 1304.1,560.6 1305.1,559.7 1306.2,558.1 1307.2,555.9 1308.3,553.2 1309.3,550.0 1310.3,546.4 1311.4,542.4 1312.4,538.1 1313.5,533.6 1314.5,528.9 1315.5,524.2 1316.6,519.6 1317.6,515.1 1318.6,510.8 1319.7,506.8 1320.7,503.1 1321.8,499.9 1322.8,497.2 1323.8,495.1 1324.9,493.5 1325.9,492.6 1327.0,492.2 1328.0,492.4 1329.0,492.8 1330.0,493.5 1331.0,494.4 1332.0,495.6 1333.0,497.1 1334.0,498.7 1335.1,500.6 1336.1,502.7 1337.1,505.0 1338.1,507.5 1339.1,510.0 1340.1,512.7 1341.1,515.5 1342.1,518.3 1343.2,521.2 1344.2,524.1 1345.2,527.0 1346.2,529.8 1347.2,532.6 1348.2,535.3 1349.2,537.9 1350.2,540.3 1351.3,542.6 1352.3,544.7 1353.3,546.6 1354.3,548.3 1355.3,549.7 1356.3,550.9 1357.3,551.9 1358.3,552.5 1359.4,553.0 1360.4,553.1 1361.4,552.7 1362.4,551.6 1363.4,549.8 1364.4,547.3 1365.4,544.2 1366.4,540.6 1367.4,536.5 1368.4,531.9 1369.4,527.1 1370.4,522.0 1371.4,516.9 1372.4,511.7 1373.4,506.7" fill="none" stroke="#ee2e24" stroke-width="2.05" stroke-linejoin="round"/>
<polyline clip-path="url(#cpc)" points="258.8,929.0 259.8,928.1 260.8,926.6 261.8,924.5 262.8,921.9 263.8,918.8 264.8,915.3 265.8,911.3 266.8,907.0 267.9,902.4 268.9,897.6 269.9,892.7 270.9,887.7 271.9,882.7 272.9,877.7 273.9,872.9 274.9,868.3 275.9,864.0 276.9,860.1 277.9,856.5 278.9,853.4 279.9,850.8 280.9,848.8 281.9,847.3 282.9,846.4 283.9,846.1 285.0,846.5 286.0,847.9 287.1,850.2 288.1,853.4 289.1,857.3 290.2,861.9 291.2,867.1 292.3,872.8 293.3,878.8 294.3,885.1 295.4,891.4 296.4,897.6 297.5,903.6 298.5,909.3 299.5,914.5 300.6,919.1 301.6,923.0 302.7,926.2 303.7,928.5 304.7,929.9 305.8,930.4 306.8,930.0 307.9,928.8 308.9,927.0 309.9,924.4 311.0,921.2 312.0,917.4 313.1,913.2 314.1,908.5 315.2,903.5 316.2,898.3 317.3,893.0 318.3,887.6 319.3,882.4 320.4,877.4 321.4,872.7 322.5,868.5 323.5,864.7 324.6,861.5 325.6,858.9 326.6,857.1 327.7,855.9 328.7,855.6 329.7,855.8 330.7,856.4 331.7,857.5 332.7,859.0 333.7,860.9 334.7,863.1 335.8,865.7 336.8,868.6 337.8,871.8 338.8,875.2 339.8,878.7 340.8,882.4 341.8,886.1 342.8,889.9 343.8,893.6 344.8,897.3 345.8,900.9 346.8,904.2 347.8,907.4 348.8,910.3 349.8,912.9 350.8,915.1 351.8,917.0 352.8,918.5 353.8,919.6 354.8,920.2 355.8,920.5 356.8,920.2 357.8,919.4 358.8,918.1 359.8,916.3 360.8,914.1 361.8,911.4 362.8,908.3 363.8,904.8 364.8,901.1 365.9,897.1 366.9,893.0 367.9,888.7 368.9,884.3 369.9,880.0 370.9,875.7 371.9,871.5 372.9,867.5 373.9,863.8 374.9,860.4 375.9,857.3 376.9,854.6 377.9,852.3 378.9,850.5 379.9,849.2 380.9,848.4 381.9,848.2 382.9,848.6 384.0,849.9 385.0,852.1 386.0,855.1 387.0,858.8 388.0,863.2 389.0,868.2 390.0,873.8 391.1,879.7 392.1,885.9 393.1,892.4 394.1,898.8 395.1,905.2 396.1,911.5 397.2,917.4 398.2,922.9 399.2,928.0 400.2,932.4 401.2,936.1 402.2,939.1 403.2,941.2 404.3,942.6 405.3,943.0 406.3,942.4 407.3,940.8 408.3,938.0 409.3,934.3 410.3,929.5 411.4,923.9 412.4,917.6 413.4,910.6 414.4,903.1 415.4,895.2 416.4,887.0 417.4,878.8 418.5,870.7 419.5,862.8 420.5,855.3 421.5,848.3 422.5,842.0 423.5,836.4 424.5,831.6 425.6,827.9 426.6,825.1 427.6,823.5 428.6,822.9 429.6,823.6 430.6,825.9 431.7,829.6 432.7,834.7 433.7,841.0 434.7,848.5 435.7,857.0 436.7,866.3 437.8,876.2 438.8,886.6 439.8,897.2 440.8,907.7 441.8,918.1 442.9,928.0 443.9,937.3 444.9,945.8 445.9,953.3 446.9,959.7 447.9,964.7 449.0,968.4 450.0,970.7 451.0,971.4 452.0,970.6 453.0,967.9 454.1,963.5 455.1,957.6 456.1,950.1 457.1,941.3 458.1,931.3 459.1,920.3 460.2,908.6 461.2,896.4 462.2,884.0 463.2,871.6 464.2,859.4 465.3,847.7 466.3,836.7 467.3,826.7 468.3,817.9 469.3,810.4 470.3,804.5 471.4,800.1 472.4,797.4 473.4,796.6 474.4,797.6 475.4,800.8 476.5,806.0 477.5,813.2 478.5,822.1 479.5,832.7 480.6,844.5 481.6,857.4 482.6,871.1 483.6,885.3 484.6,899.6 485.7,913.8 486.7,927.5 487.7,940.4 488.7,952.2 489.8,962.7 490.8,971.6 491.8,978.8 492.8,984.0 493.8,987.2 494.9,988.3 495.9,987.3 496.9,984.5 497.9,979.7 498.9,973.3 500.0,965.1 501.0,955.6 502.0,944.7 503.0,932.9 504.0,920.2 505.0,907.0 506.1,893.5 507.1,880.0 508.1,866.8 509.1,854.1 510.1,842.2 511.2,831.4 512.2,821.8 513.2,813.7 514.2,807.2 515.2,802.5 516.2,799.6 517.3,798.7 518.3,799.4 519.3,801.8 520.3,805.6 521.3,810.8 522.3,817.4 523.3,825.1 524.3,834.0 525.3,843.7 526.4,854.2 527.4,865.1 528.4,876.4 529.4,887.8 530.4,899.1 531.4,910.0 532.4,920.5 533.4,930.2 534.4,939.1 535.4,946.8 536.5,953.4 537.5,958.6 538.5,962.5 539.5,964.8 540.5,965.5 541.5,965.0 542.5,963.2 543.5,960.3 544.5,956.3 545.5,951.2 546.6,945.3 547.6,938.5 548.6,930.9 549.6,922.8 550.6,914.2 551.6,905.4 552.6,896.3 553.6,887.3 554.6,878.4 555.7,869.8 556.7,861.7 557.7,854.2 558.7,847.4 559.7,841.4 560.7,836.4 561.7,832.4 562.7,829.5 563.7,827.7 564.8,827.1 565.8,827.6 566.8,829.0 567.8,831.3 568.8,834.4 569.9,838.4 570.9,843.2 571.9,848.7 572.9,854.7 573.9,861.3 575.0,868.4 576.0,875.8 577.0,883.4 578.0,891.1 579.0,898.8 580.1,906.4 581.1,913.7 582.1,920.8 583.1,927.4 584.1,933.5 585.1,938.9 586.2,943.7 587.2,947.7 588.2,950.9 589.2,953.2 590.2,954.5 591.3,955.0 592.3,954.4 593.3,952.5 594.3,949.5 595.3,945.3 596.3,940.1 597.3,933.8 598.3,926.7 599.4,918.8 600.4,910.3 601.4,901.4 602.4,892.1 603.4,882.6 604.4,873.2 605.4,863.9 606.4,854.9 607.4,846.4 608.5,838.6 609.5,831.4 610.5,825.2 611.5,819.9 612.5,815.8 613.5,812.7 614.5,810.9 615.5,810.2 616.5,811.1 617.5,813.7 618.5,818.0 619.5,823.9 620.5,831.2 621.5,839.9 622.5,849.7 623.5,860.4 624.5,871.9 625.5,883.9 626.5,896.1 627.5,908.3 628.5,920.3 629.6,931.8 630.6,942.5 631.6,952.3 632.6,961.0 633.6,968.4 634.6,974.2 635.6,978.5 636.6,981.1 637.6,982.0 638.6,981.0 639.6,978.0 640.7,973.2 641.7,966.5 642.7,958.2 643.8,948.3 644.8,937.2 645.8,925.0 646.9,912.0 647.9,898.4 648.9,884.5 650.0,870.7 651.0,857.1 652.1,844.0 653.1,831.8 654.1,820.7 655.2,810.9 656.2,802.5 657.2,795.9 658.3,791.0 659.3,788.1 660.3,787.1 661.3,788.2 662.3,791.4 663.3,796.7 664.3,804.0 665.3,813.1 666.3,823.8 667.3,836.0 668.3,849.3 669.3,863.5 670.3,878.3 671.3,893.5 672.3,908.6 673.3,923.5 674.4,937.7 675.4,951.0 676.4,963.2 677.4,973.9 678.4,983.0 679.4,990.3 680.4,995.6 681.4,998.8 682.4,999.9 683.4,998.8 684.4,995.4 685.5,990.0 686.5,982.5 687.5,973.1 688.6,962.0 689.6,949.4 690.6,935.7 691.7,921.0 692.7,905.6 693.7,890.0 694.8,874.4 695.8,859.0 696.9,844.4 697.9,830.6 698.9,818.0 700.0,807.0 701.0,797.6 702.0,790.0 703.1,784.6 704.1,781.2 705.1,780.1 706.1,781.2 707.1,784.4 708.1,789.8 709.1,797.1 710.1,806.2 711.1,817.0 712.1,829.1 713.1,842.5 714.1,856.8 715.1,871.7 716.1,886.8 717.1,902.0 718.1,916.9 719.2,931.2 720.2,944.5 721.2,956.7 722.2,967.5 723.2,976.6 724.2,983.9 725.2,989.3 726.2,992.5 727.2,993.6 728.2,992.5 729.2,989.3 730.3,984.1 731.3,977.0 732.4,968.1 733.4,957.7 734.4,945.9 735.5,933.1 736.5,919.4 737.6,905.3 738.6,891.1 739.6,877.0 740.7,863.4 741.7,850.5 742.8,838.8 743.8,828.3 744.8,819.4 745.9,812.3 746.9,807.1 748.0,803.9 749.0,802.9 750.0,803.6 751.0,805.6 752.0,809.0 753.1,813.6 754.1,819.4 755.1,826.3 756.1,834.1 757.1,842.7 758.1,851.9 759.1,861.6 760.2,871.6 761.2,881.7 762.2,891.6 763.2,901.3 764.2,910.6 765.2,919.2 766.2,927.0 767.3,933.8 768.3,939.6 769.3,944.3 770.3,947.6 771.3,949.7 772.3,950.4 773.4,950.0 774.4,948.8 775.4,946.9 776.4,944.3 777.4,941.0 778.5,937.0 779.5,932.5 780.5,927.4 781.5,921.9 782.5,916.0 783.5,909.9 784.6,903.6 785.6,897.2 786.6,890.8 787.6,884.4 788.6,878.3 789.7,872.4 790.7,866.9 791.7,861.9 792.7,857.3 793.7,853.4 794.8,850.1 795.8,847.4 796.8,845.5 797.8,844.4 798.8,844.0 799.8,844.3 800.8,845.4 801.8,847.3 802.8,849.8 803.8,852.9 804.8,856.7 805.8,861.0 806.8,865.8 807.8,871.0 808.9,876.6 809.9,882.4 810.9,888.4 811.9,894.5 812.9,900.6 813.9,906.6 814.9,912.5 815.9,918.0 816.9,923.3 817.9,928.1 818.9,932.4 819.9,936.2 820.9,939.3 821.9,941.8 822.9,943.6 823.9,944.7 824.9,945.1 825.9,944.5 826.9,942.8 828.0,939.9 829.0,936.0 830.0,931.0 831.1,925.1 832.1,918.5 833.1,911.1 834.1,903.3 835.2,895.0 836.2,886.5 837.2,877.9 838.3,869.4 839.3,861.1 840.3,853.3 841.4,845.9 842.4,839.3 843.4,833.4 844.5,828.5 845.5,824.5 846.5,821.6 847.5,819.9 848.6,819.3 849.6,820.0 850.6,822.2 851.6,825.9 852.6,830.8 853.6,837.0 854.6,844.3 855.6,852.6 856.6,861.6 857.6,871.3 858.6,881.4 859.6,891.7 860.6,902.0 861.6,912.1 862.6,921.8 863.6,930.8 864.6,939.1 865.6,946.4 866.6,952.6 867.6,957.5 868.6,961.1 869.6,963.3 870.6,964.1 871.6,963.2 872.7,960.6 873.7,956.4 874.8,950.5 875.8,943.3 876.8,934.7 877.9,925.1 878.9,914.6 880.0,903.5 881.0,891.9 882.0,880.3 883.1,868.8 884.1,857.6 885.2,847.1 886.2,837.5 887.2,829.0 888.3,821.7 889.3,815.9 890.4,811.6 891.4,809.0 892.4,808.1 893.4,808.9 894.4,811.3 895.4,815.3 896.4,820.7 897.4,827.4 898.4,835.4 899.4,844.4 900.4,854.3 901.5,864.9 902.5,875.9 903.5,887.2 904.5,898.4 905.5,909.4 906.5,920.0 907.5,929.9 908.5,938.9 909.5,946.9 910.5,953.6 911.5,959.0 912.5,963.0 913.5,965.4 914.5,966.2 915.5,965.4 916.5,963.0 917.6,959.0 918.6,953.6 919.7,946.9 920.7,939.0 921.7,930.1 922.8,920.4 923.8,910.1 924.9,899.4 925.9,888.6 926.9,878.0 928.0,867.6 929.0,857.9 930.1,849.0 931.1,841.1 932.1,834.4 933.2,829.0 934.2,825.0 935.3,822.6 936.3,821.8 937.3,822.6 938.4,824.9 939.4,828.6 940.5,833.6 941.5,839.9 942.5,847.2 943.6,855.5 944.6,864.4 945.6,873.8 946.7,883.5 947.7,893.1 948.7,902.5 949.8,911.5 950.8,919.7 951.8,927.1 952.9,933.3 953.9,938.4 955.0,942.1 956.0,944.3 957.0,945.1 958.1,944.5 959.1,942.6 960.2,939.5 961.2,935.3 962.3,930.1 963.3,924.1 964.4,917.4 965.4,910.1 966.5,902.6 967.5,894.9 968.6,887.4 969.6,880.1 970.7,873.4 971.7,867.4 972.8,862.2 973.8,858.0 974.9,854.9 975.9,853.0 977.0,852.4 978.0,852.8 979.1,854.1 980.1,856.2 981.1,859.0 982.2,862.6 983.2,866.6 984.3,871.1 985.3,875.9 986.3,880.8 987.4,885.8 988.4,890.6 989.4,895.1 990.5,899.1 991.5,902.6 992.6,905.5 993.6,907.6 994.6,908.9 995.7,909.3 996.7,909.0 997.7,908.2 998.7,906.9 999.7,905.1 1000.7,902.9 1001.8,900.4 1002.8,897.7 1003.8,894.9 1004.8,892.0 1005.8,889.3 1006.8,886.8 1007.8,884.6 1008.9,882.9 1009.9,881.5 1010.9,880.7 1011.9,880.4 1013.0,880.7 1014.0,881.5 1015.1,882.8 1016.1,884.5 1017.2,886.6 1018.3,888.9 1019.3,891.5 1020.4,894.0 1021.4,896.6 1022.5,898.9 1023.5,901.0 1024.6,902.7 1025.7,904.0 1026.7,904.8 1027.8,905.1 1028.8,904.7 1029.9,903.6 1030.9,901.9 1032.0,899.6 1033.0,896.7 1034.1,893.4 1035.2,889.8 1036.2,885.9 1037.3,882.1 1038.3,878.2 1039.4,874.6 1040.4,871.3 1041.5,868.4 1042.5,866.1 1043.6,864.4 1044.6,863.3 1045.7,862.9 1046.7,863.3 1047.7,864.6 1048.8,866.6 1049.8,869.4 1050.8,872.8 1051.8,876.8 1052.8,881.2 1053.9,886.0 1054.9,891.0 1055.9,896.0 1056.9,901.0 1058.0,905.8 1059.0,910.2 1060.0,914.2 1061.0,917.6 1062.0,920.4 1063.1,922.4 1064.1,923.6 1065.1,924.0 1066.1,923.6 1067.2,922.2 1068.2,919.8 1069.2,916.7 1070.2,912.8 1071.3,908.3 1072.3,903.2 1073.3,897.8 1074.3,892.1 1075.4,886.4 1076.4,880.7 1077.4,875.3 1078.4,870.3 1079.5,865.7 1080.5,861.8 1081.5,858.7 1082.5,856.4 1083.6,855.0 1084.6,854.5 1085.6,854.9 1086.6,856.1 1087.6,858.0 1088.6,860.6 1089.6,863.9 1090.6,867.7 1091.7,872.0 1092.7,876.7 1093.7,881.6 1094.7,886.6 1095.7,891.7 1096.7,896.6 1097.7,901.2 1098.7,905.5 1099.7,909.4 1100.7,912.6 1101.7,915.3 1102.7,917.2 1103.8,918.4 1104.8,918.8 1105.8,918.4 1106.9,917.4 1107.9,915.8 1109.0,913.5 1110.0,910.8 1111.1,907.6 1112.1,904.0 1113.2,900.1 1114.2,896.1 1115.3,892.0 1116.3,887.9 1117.4,884.1 1118.4,880.5 1119.5,877.2 1120.5,874.5 1121.6,872.2 1122.6,870.6 1123.7,869.6 1124.7,869.3 1125.8,869.6 1126.8,870.6 1127.9,872.3 1128.9,874.5 1130.0,877.2 1131.0,880.3 1132.1,883.7 1133.1,887.2 1134.2,890.7 1135.2,894.0 1136.3,897.1 1137.3,899.8 1138.4,902.1 1139.4,903.7 1140.5,904.7 1141.5,905.1 1142.6,904.8 1143.6,903.9 1144.6,902.5 1145.6,900.6 1146.6,898.2 1147.7,895.6 1148.7,892.6 1149.7,889.5 1150.7,886.3 1151.7,883.2 1152.8,880.2 1153.8,877.5 1154.8,875.2 1155.8,873.3 1156.9,871.9 1157.9,871.0 1158.9,870.7 1159.9,871.1 1160.9,872.1 1162.0,873.7 1163.0,876.0 1164.0,878.8 1165.0,882.1 1166.0,885.7 1167.1,889.6 1168.1,893.7 1169.1,897.9 1170.1,902.0 1171.2,905.9 1172.2,909.5 1173.2,912.8 1174.2,915.6 1175.2,917.9 1176.3,919.5 1177.3,920.5 1178.3,920.9 1179.3,920.4 1180.4,918.9 1181.4,916.6 1182.4,913.3 1183.4,909.3 1184.5,904.6 1185.5,899.3 1186.5,893.6 1187.5,887.5 1188.6,881.4 1189.6,875.2 1190.6,869.2 1191.7,863.4 1192.7,858.1 1193.7,853.4 1194.7,849.4 1195.8,846.2 1196.8,843.8 1197.8,842.3 1198.8,841.9 1199.9,842.5 1200.9,844.6 1201.9,847.9 1203.0,852.5 1204.0,858.2 1205.1,864.8 1206.1,872.2 1207.1,880.3 1208.2,888.8 1209.2,897.5 1210.2,906.2 1211.3,914.7 1212.3,922.7 1213.3,930.2 1214.4,936.8 1215.4,942.5 1216.5,947.1 1217.5,950.4 1218.5,952.4 1219.6,953.1 1220.6,952.2 1221.7,949.4 1222.7,944.8 1223.8,938.6 1224.8,930.9 1225.9,921.9 1226.9,912.0 1228.0,901.2 1229.0,890.0 1230.1,878.6 1231.1,867.4 1232.2,856.7 1233.2,846.7 1234.3,837.7 1235.3,830.0 1236.4,823.8 1237.4,819.2 1238.5,816.5 1239.5,815.5 1240.5,816.4 1241.5,818.9 1242.5,823.0 1243.6,828.6 1244.6,835.6 1245.6,843.9 1246.6,853.2 1247.6,863.3 1248.6,874.1 1249.6,885.2 1250.6,896.5 1251.6,907.6 1252.6,918.4 1253.6,928.5 1254.6,937.8 1255.6,946.1 1256.6,953.1 1257.6,958.7 1258.6,962.8 1259.6,965.3 1260.6,966.2 1261.7,965.3 1262.7,962.8 1263.8,958.6 1264.8,952.8 1265.8,945.6 1266.9,937.2 1267.9,927.7 1269.0,917.4 1270.0,906.4 1271.1,895.0 1272.1,883.5 1273.1,872.2 1274.2,861.2 1275.2,850.8 1276.3,841.3 1277.3,832.9 1278.4,825.7 1279.4,820.0 1280.4,815.8 1281.5,813.2 1282.5,812.4 1283.6,813.1 1284.6,815.4 1285.6,819.1 1286.6,824.1 1287.7,830.4 1288.7,837.8 1289.7,846.0 1290.7,854.9 1291.8,864.3 1292.8,874.0 1293.8,883.6 1294.9,893.0 1295.9,902.0 1296.9,910.2 1297.9,917.6 1299.0,923.9 1300.0,928.9 1301.0,932.6 1302.0,934.9 1303.1,935.6 1304.1,935.3 1305.1,934.2 1306.2,932.4 1307.2,930.0 1308.3,926.9 1309.3,923.3 1310.3,919.2 1311.4,914.7 1312.4,909.8 1313.5,904.7 1314.5,899.5 1315.5,894.2 1316.6,889.0 1317.6,883.9 1318.6,879.0 1319.7,874.5 1320.7,870.4 1321.8,866.8 1322.8,863.7 1323.8,861.3 1324.9,859.5 1325.9,858.4 1327.0,858.1 1328.0,858.2 1329.0,858.7 1330.0,859.5 1331.0,860.5 1332.0,861.9 1333.0,863.5 1334.0,865.4 1335.1,867.6 1336.1,869.9 1337.1,872.5 1338.1,875.3 1339.1,878.2 1340.1,881.2 1341.1,884.3 1342.1,887.5 1343.2,890.8 1344.2,894.1 1345.2,897.3 1346.2,900.5 1347.2,903.7 1348.2,906.7 1349.2,909.6 1350.2,912.4 1351.3,914.9 1352.3,917.3 1353.3,919.4 1354.3,921.3 1355.3,923.0 1356.3,924.3 1357.3,925.4 1358.3,926.2 1359.4,926.6 1360.4,926.8 1361.4,926.4 1362.4,925.1 1363.4,923.1 1364.4,920.3 1365.4,916.8 1366.4,912.7 1367.4,908.0 1368.4,902.9 1369.4,897.4 1370.4,891.7 1371.4,885.9 1372.4,880.1 1373.4,874.4" fill="none" stroke="#ee2e24" stroke-width="2.05" stroke-linejoin="round"/>
<polyline clip-path="url(#cpd)" points="260.2,1251.0 261.2,1244.7 262.2,1237.9 263.2,1230.6 264.2,1222.9 265.2,1215.1 266.2,1207.1 267.2,1199.1 268.2,1191.2 269.2,1183.6 270.2,1176.3 271.2,1169.4 272.2,1163.1 273.2,1157.5 274.2,1152.5 275.2,1148.4 276.3,1145.1 277.3,1142.7 278.3,1141.3 279.3,1140.8 280.3,1141.2 281.3,1142.6 282.3,1144.8 283.3,1147.8 284.4,1151.6 285.4,1156.2 286.4,1161.4 287.4,1167.2 288.4,1173.5 289.5,1180.3 290.5,1187.3 291.5,1194.6 292.5,1201.9 293.5,1209.3 294.6,1216.6 295.6,1223.6 296.6,1230.3 297.6,1236.7 298.6,1242.5 299.7,1247.7 300.7,1252.2 301.7,1256.1 302.7,1259.1 303.7,1261.3 304.8,1262.6 305.8,1263.1 306.8,1262.8 307.8,1262.0 308.9,1260.6 309.9,1258.8 311.0,1256.5 312.0,1253.9 313.0,1251.0 314.1,1247.9 315.1,1244.7 316.1,1241.5 317.2,1238.4 318.2,1235.5 319.3,1232.9 320.3,1230.6 321.3,1228.8 322.4,1227.4 323.4,1226.6 324.4,1226.3 325.5,1226.5 326.6,1227.1 327.6,1228.1 328.7,1229.4 329.7,1230.9 330.8,1232.5 331.8,1234.2 332.9,1235.7 334.0,1237.0 335.0,1238.0 336.1,1238.6 337.1,1238.8 338.1,1238.6 339.2,1238.1 340.2,1237.2 341.2,1236.0 342.2,1234.4 343.2,1232.6 344.2,1230.4 345.3,1228.0 346.3,1225.2 347.3,1222.3 348.3,1219.1 349.3,1215.8 350.3,1212.3 351.4,1208.6 352.4,1204.9 353.4,1201.1 354.4,1197.3 355.4,1193.4 356.4,1189.6 357.4,1185.9 358.5,1182.3 359.5,1178.8 360.5,1175.4 361.5,1172.2 362.5,1169.3 363.5,1166.6 364.6,1164.1 365.6,1162.0 366.6,1160.1 367.6,1158.5 368.6,1157.3 369.6,1156.4 370.7,1155.9 371.7,1155.7 372.7,1156.2 373.7,1157.4 374.7,1159.5 375.7,1162.4 376.7,1166.0 377.7,1170.4 378.7,1175.4 379.8,1181.1 380.8,1187.3 381.8,1193.9 382.8,1201.0 383.8,1208.4 384.8,1216.0 385.8,1223.7 386.8,1231.5 387.8,1239.2 388.8,1246.8 389.9,1254.2 390.9,1261.3 391.9,1267.9 392.9,1274.1 393.9,1279.8 394.9,1284.8 395.9,1289.2 396.9,1292.8 397.9,1295.7 399.0,1297.8 400.0,1299.0 401.0,1299.5 402.0,1298.8 403.1,1296.7 404.1,1293.3 405.1,1288.7 406.2,1282.9 407.2,1276.0 408.3,1268.3 409.3,1259.8 410.4,1250.7 411.4,1241.3 412.5,1231.6 413.5,1222.0 414.5,1212.5 415.6,1203.4 416.6,1194.9 417.7,1187.2 418.7,1180.3 419.8,1174.5 420.8,1169.9 421.8,1166.5 422.9,1164.5 423.9,1163.8 425.0,1164.3 426.0,1166.0 427.0,1168.8 428.0,1172.5 429.1,1177.2 430.1,1182.7 431.1,1188.8 432.1,1195.5 433.2,1202.5 434.2,1209.7 435.2,1216.9 436.3,1223.9 437.3,1230.5 438.3,1236.7 439.3,1242.2 440.4,1246.8 441.4,1250.6 442.4,1253.4 443.4,1255.0 444.5,1255.6 445.5,1254.9 446.5,1252.9 447.5,1249.6 448.5,1245.1 449.6,1239.4 450.6,1232.7 451.6,1225.2 452.6,1216.9 453.6,1208.0 454.6,1198.8 455.7,1189.3 456.7,1179.9 457.7,1170.7 458.7,1161.8 459.7,1153.5 460.8,1145.9 461.8,1139.3 462.8,1133.6 463.8,1129.1 464.8,1125.8 465.8,1123.7 466.9,1123.1 467.9,1124.2 468.9,1127.5 469.9,1132.9 470.9,1140.4 472.0,1149.7 473.0,1160.8 474.0,1173.2 475.0,1186.9 476.0,1201.5 477.0,1216.7 478.1,1232.3 479.1,1247.8 480.1,1263.0 481.1,1277.6 482.1,1291.3 483.2,1303.8 484.2,1314.8 485.2,1324.1 486.2,1331.6 487.2,1337.0 488.2,1340.4 489.3,1341.5 490.3,1340.5 491.3,1337.5 492.3,1332.7 493.3,1326.0 494.3,1317.6 495.3,1307.6 496.3,1296.2 497.4,1283.6 498.4,1270.0 499.4,1255.7 500.4,1240.8 501.4,1225.7 502.4,1210.6 503.4,1195.8 504.4,1181.4 505.4,1167.9 506.5,1155.3 507.5,1143.9 508.5,1133.9 509.5,1125.5 510.5,1118.8 511.5,1113.9 512.5,1111.0 513.5,1110.0 514.6,1110.9 515.6,1113.4 516.6,1117.7 517.7,1123.5 518.7,1130.7 519.7,1139.2 520.8,1148.7 521.8,1159.2 522.8,1170.2 523.9,1181.7 524.9,1193.3 526.0,1204.7 527.0,1215.8 528.0,1226.2 529.1,1235.8 530.1,1244.3 531.1,1251.5 532.2,1257.3 533.2,1261.5 534.2,1264.1 535.3,1264.9 536.3,1264.5 537.3,1263.3 538.3,1261.3 539.3,1258.6 540.4,1255.1 541.4,1251.1 542.4,1246.5 543.4,1241.5 544.4,1236.1 545.4,1230.5 546.5,1224.8 547.5,1219.1 548.5,1213.5 549.5,1208.1 550.5,1203.1 551.6,1198.5 552.6,1194.5 553.6,1191.0 554.6,1188.3 555.6,1186.3 556.6,1185.1 557.7,1184.7 558.7,1185.2 559.7,1186.6 560.7,1189.1 561.7,1192.4 562.7,1196.5 563.7,1201.4 564.7,1207.0 565.7,1213.0 566.7,1219.5 567.7,1226.3 568.7,1233.2 569.7,1240.1 570.7,1246.9 571.7,1253.4 572.7,1259.4 573.7,1265.0 574.7,1269.9 575.7,1274.0 576.7,1277.3 577.7,1279.8 578.7,1281.2 579.7,1281.7 580.7,1281.2 581.7,1279.6 582.8,1277.0 583.8,1273.3 584.8,1268.7 585.9,1263.2 586.9,1256.9 587.9,1249.8 588.9,1242.0 590.0,1233.7 591.0,1224.9 592.0,1215.7 593.0,1206.3 594.1,1196.8 595.1,1187.3 596.1,1177.9 597.1,1168.7 598.2,1159.9 599.2,1151.6 600.2,1143.8 601.3,1136.7 602.3,1130.4 603.3,1124.9 604.3,1120.3 605.4,1116.6 606.4,1114.0 607.4,1112.4 608.4,1111.9 609.5,1112.7 610.5,1115.0 611.5,1119.0 612.6,1124.4 613.6,1131.2 614.6,1139.3 615.7,1148.5 616.7,1158.8 617.7,1169.9 618.7,1181.7 619.8,1194.0 620.8,1206.6 621.8,1219.3 622.9,1231.9 623.9,1244.2 624.9,1256.0 626.0,1267.1 627.0,1277.4 628.0,1286.6 629.0,1294.7 630.1,1301.5 631.1,1306.9 632.1,1310.9 633.2,1313.2 634.2,1314.0 635.2,1313.1 636.2,1310.4 637.2,1306.0 638.2,1299.9 639.2,1292.4 640.2,1283.5 641.2,1273.4 642.2,1262.5 643.2,1250.9 644.2,1238.9 645.2,1226.8 646.3,1214.8 647.3,1203.2 648.3,1192.2 649.3,1182.2 650.3,1173.3 651.3,1165.7 652.3,1159.7 653.3,1155.2 654.3,1152.5 655.3,1151.6 656.3,1152.7 657.3,1156.1 658.4,1161.5 659.4,1168.9 660.4,1178.0 661.5,1188.6 662.5,1200.3 663.5,1212.7 664.5,1225.5 665.6,1238.4 666.6,1250.8 667.6,1262.5 668.6,1273.1 669.7,1282.2 670.7,1289.6 671.7,1295.0 672.7,1298.3 673.8,1299.5 674.8,1298.5 675.8,1295.8 676.8,1291.3 677.8,1285.0 678.8,1277.2 679.8,1267.8 680.8,1257.2 681.8,1245.3 682.8,1232.5 683.9,1218.9 684.9,1204.7 685.9,1190.1 686.9,1175.5 687.9,1160.9 688.9,1146.7 689.9,1133.1 690.9,1120.3 691.9,1108.4 692.9,1097.8 693.9,1088.4 694.9,1080.6 695.9,1074.3 697.0,1069.8 698.0,1067.1 699.0,1066.1 700.0,1067.3 701.0,1070.9 702.0,1076.9 703.0,1085.0 704.0,1095.3 705.0,1107.4 706.1,1121.3 707.1,1136.6 708.1,1153.1 709.1,1170.6 710.1,1188.7 711.1,1207.1 712.1,1225.5 713.1,1243.5 714.1,1261.0 715.2,1277.5 716.2,1292.9 717.2,1306.7 718.2,1318.9 719.2,1329.1 720.2,1337.3 721.2,1343.2 722.2,1346.8 723.2,1348.0 724.2,1347.0 725.2,1344.0 726.2,1339.1 727.2,1332.4 728.2,1324.1 729.2,1314.2 730.2,1303.0 731.2,1290.7 732.3,1277.6 733.3,1263.9 734.3,1250.0 735.3,1236.1 736.3,1222.4 737.3,1209.3 738.3,1197.0 739.3,1185.8 740.3,1175.9 741.3,1167.6 742.3,1160.9 743.3,1156.0 744.3,1153.0 745.3,1152.0 746.3,1152.8 747.3,1155.3 748.3,1159.3 749.3,1164.7 750.3,1171.4 751.3,1179.1 752.3,1187.5 753.3,1196.3 754.4,1205.3 755.4,1214.2 756.4,1222.6 757.4,1230.2 758.4,1236.9 759.4,1242.3 760.4,1246.3 761.4,1248.8 762.4,1249.6 763.5,1249.3 764.5,1248.3 765.5,1246.6 766.5,1244.2 767.5,1241.3 768.5,1237.8 769.5,1233.8 770.6,1229.4 771.6,1224.5 772.6,1219.4 773.6,1214.1 774.6,1208.7 775.6,1203.2 776.7,1197.8 777.7,1192.4 778.7,1187.3 779.7,1182.5 780.7,1178.1 781.7,1174.1 782.7,1170.6 783.8,1167.7 784.8,1165.3 785.8,1163.6 786.8,1162.6 787.8,1162.3 788.8,1162.6 789.9,1163.8 790.9,1165.7 791.9,1168.3 792.9,1171.6 793.9,1175.5 795.0,1180.0 796.0,1185.1 797.0,1190.7 798.0,1196.7 799.0,1203.1 800.1,1209.8 801.1,1216.6 802.1,1223.6 803.1,1230.6 804.1,1237.6 805.2,1244.5 806.2,1251.1 807.2,1257.5 808.2,1263.5 809.2,1269.1 810.3,1274.2 811.3,1278.8 812.3,1282.7 813.3,1286.0 814.3,1288.6 815.4,1290.5 816.4,1291.6 817.4,1292.0 818.4,1291.4 819.4,1289.8 820.5,1287.0 821.5,1283.1 822.5,1278.3 823.5,1272.6 824.5,1266.0 825.6,1258.6 826.6,1250.6 827.6,1242.1 828.6,1233.2 829.6,1224.0 830.7,1214.7 831.7,1205.4 832.7,1196.2 833.7,1187.3 834.7,1178.8 835.8,1170.8 836.8,1163.5 837.8,1156.9 838.8,1151.1 839.8,1146.3 840.8,1142.5 841.9,1139.7 842.9,1138.0 843.9,1137.4 844.9,1138.2 846.0,1140.4 847.0,1144.0 848.0,1149.0 849.1,1155.2 850.1,1162.5 851.1,1170.7 852.2,1179.7 853.2,1189.2 854.2,1199.0 855.2,1209.0 856.3,1218.8 857.3,1228.3 858.3,1237.3 859.4,1245.5 860.4,1252.8 861.4,1259.0 862.5,1263.9 863.5,1267.6 864.5,1269.8 865.6,1270.5 866.6,1269.9 867.6,1268.1 868.6,1265.1 869.6,1261.0 870.6,1256.0 871.6,1250.0 872.7,1243.2 873.7,1235.9 874.7,1228.1 875.7,1220.0 876.7,1211.9 877.7,1203.8 878.7,1196.0 879.7,1188.6 880.8,1181.9 881.8,1175.9 882.8,1170.8 883.8,1166.7 884.8,1163.8 885.8,1161.9 886.8,1161.3 887.9,1162.3 888.9,1165.3 890.0,1170.1 891.0,1176.7 892.0,1184.9 893.1,1194.4 894.1,1205.0 895.2,1216.4 896.2,1228.3 897.3,1240.3 898.3,1252.2 899.3,1263.6 900.4,1274.2 901.4,1283.8 902.5,1291.9 903.5,1298.5 904.5,1303.4 905.6,1306.3 906.6,1307.3 907.6,1306.5 908.6,1303.9 909.6,1299.8 910.6,1294.0 911.6,1286.8 912.6,1278.3 913.6,1268.5 914.7,1257.7 915.7,1246.1 916.7,1233.8 917.7,1221.1 918.7,1208.2 919.7,1195.2 920.7,1182.5 921.7,1170.3 922.7,1158.6 923.7,1147.8 924.7,1138.1 925.7,1129.5 926.7,1122.3 927.7,1116.6 928.7,1112.4 929.7,1109.9 930.7,1109.1 931.7,1109.7 932.8,1111.7 933.8,1114.9 934.8,1119.3 935.9,1124.9 936.9,1131.5 937.9,1139.1 938.9,1147.5 940.0,1156.7 941.0,1166.3 942.0,1176.4 943.1,1186.7 944.1,1197.2 945.1,1207.5 946.2,1217.6 947.2,1227.2 948.2,1236.4 949.3,1244.8 950.3,1252.4 951.3,1259.0 952.3,1264.6 953.4,1269.0 954.4,1272.2 955.4,1274.2 956.5,1274.8 957.5,1274.3 958.6,1272.6 959.6,1269.9 960.7,1266.2 961.7,1261.7 962.8,1256.6 963.8,1251.1 964.9,1245.3 965.9,1239.6 967.0,1234.0 968.0,1228.9 969.1,1224.5 970.1,1220.8 971.2,1218.1 972.2,1216.4 973.3,1215.8 974.3,1216.3 975.3,1217.7 976.3,1219.9 977.3,1222.8 978.3,1226.3 979.3,1230.2 980.3,1234.3 981.3,1238.4 982.3,1242.3 983.3,1245.8 984.3,1248.8 985.3,1251.0 986.3,1252.3 987.3,1252.8 988.3,1252.4 989.3,1251.1 990.4,1249.1 991.4,1246.3 992.4,1242.8 993.5,1238.6 994.5,1233.9 995.5,1228.8 996.6,1223.3 997.6,1217.6 998.7,1211.7 999.7,1205.9 1000.7,1200.2 1001.8,1194.7 1002.8,1189.5 1003.8,1184.8 1004.9,1180.7 1005.9,1177.2 1006.9,1174.4 1008.0,1172.3 1009.0,1171.1 1010.0,1170.7 1011.1,1171.0 1012.1,1171.8 1013.1,1173.3 1014.1,1175.2 1015.1,1177.5 1016.2,1180.2 1017.2,1183.2 1018.2,1186.3 1019.2,1189.5 1020.3,1192.7 1021.3,1195.6 1022.3,1198.3 1023.3,1200.7 1024.3,1202.6 1025.4,1204.0 1026.4,1204.9 1027.4,1205.2 1028.5,1205.1 1029.6,1205.0 1030.7,1204.7 1031.8,1204.4 1032.9,1204.1 1034.0,1203.8 1035.1,1203.6 1036.2,1203.4 1037.3,1203.3 1038.3,1203.7 1039.4,1204.9 1040.4,1206.9 1041.4,1209.6 1042.5,1213.0 1043.5,1217.0 1044.5,1221.6 1045.6,1226.5 1046.6,1231.8 1047.6,1237.4 1048.7,1243.0 1049.7,1248.6 1050.8,1254.2 1051.8,1259.5 1052.8,1264.4 1053.9,1269.0 1054.9,1273.0 1055.9,1276.4 1057.0,1279.1 1058.0,1281.1 1059.0,1282.3 1060.1,1282.7 1061.1,1282.2 1062.1,1280.8 1063.1,1278.5 1064.2,1275.3 1065.2,1271.4 1066.2,1266.7 1067.2,1261.3 1068.3,1255.5 1069.3,1249.1 1070.3,1242.5 1071.4,1235.7 1072.4,1228.8 1073.4,1222.0 1074.4,1215.4 1075.5,1209.1 1076.5,1203.2 1077.5,1197.9 1078.5,1193.2 1079.6,1189.2 1080.6,1186.0 1081.6,1183.7 1082.6,1182.3 1083.7,1181.9 1084.7,1182.2 1085.7,1183.2 1086.7,1184.8 1087.7,1187.0 1088.8,1189.6 1089.8,1192.5 1090.8,1195.7 1091.8,1198.9 1092.9,1202.0 1093.9,1205.0 1094.9,1207.6 1095.9,1209.7 1096.9,1211.3 1098.0,1212.3 1099.0,1212.7 1100.0,1212.4 1101.1,1211.8 1102.1,1210.7 1103.2,1209.3 1104.2,1207.5 1105.3,1205.4 1106.3,1203.1 1107.4,1200.7 1108.4,1198.2 1109.4,1195.7 1110.5,1193.3 1111.5,1191.0 1112.6,1188.9 1113.6,1187.1 1114.7,1185.7 1115.7,1184.6 1116.8,1184.0 1117.8,1183.7 1118.9,1184.2 1119.9,1185.6 1120.9,1187.8 1122.0,1190.9 1123.0,1194.7 1124.1,1199.3 1125.1,1204.4 1126.1,1209.9 1127.2,1215.8 1128.2,1221.9 1129.3,1228.1 1130.3,1234.2 1131.3,1240.1 1132.4,1245.6 1133.4,1250.7 1134.5,1255.2 1135.5,1259.1 1136.5,1262.2 1137.6,1264.4 1138.6,1265.8 1139.7,1266.2 1140.7,1265.9 1141.7,1265.0 1142.7,1263.4 1143.8,1261.3 1144.8,1258.7 1145.8,1255.7 1146.9,1252.2 1147.9,1248.5 1148.9,1244.6 1149.9,1240.6 1151.0,1236.6 1152.0,1232.6 1153.0,1228.9 1154.0,1225.5 1155.1,1222.4 1156.1,1219.8 1157.1,1217.7 1158.1,1216.2 1159.2,1215.2 1160.2,1214.9 1161.2,1215.1 1162.3,1215.6 1163.3,1216.4 1164.3,1217.4 1165.3,1218.5 1166.4,1219.5 1167.4,1220.5 1168.4,1221.3 1169.4,1221.8 1170.5,1222.0 1171.5,1221.7 1172.5,1220.7 1173.6,1219.0 1174.6,1216.8 1175.7,1214.0 1176.7,1210.7 1177.7,1207.0 1178.8,1202.9 1179.8,1198.6 1180.9,1194.2 1181.9,1189.7 1182.9,1185.3 1184.0,1181.0 1185.0,1176.9 1186.1,1173.2 1187.1,1169.9 1188.1,1167.1 1189.2,1164.9 1190.2,1163.2 1191.3,1162.2 1192.3,1161.9 1193.4,1162.6 1194.4,1164.5 1195.4,1167.8 1196.5,1172.2 1197.5,1177.8 1198.6,1184.3 1199.6,1191.8 1200.7,1199.9 1201.7,1208.6 1202.7,1217.7 1203.8,1226.9 1204.8,1236.2 1205.9,1245.3 1206.9,1254.0 1208.0,1262.1 1209.0,1269.5 1210.0,1276.1 1211.1,1281.7 1212.1,1286.1 1213.2,1289.4 1214.2,1291.3 1215.3,1292.0 1216.3,1291.1 1217.4,1288.3 1218.4,1283.8 1219.5,1277.6 1220.5,1270.0 1221.6,1261.1 1222.6,1251.2 1223.7,1240.6 1224.7,1229.5 1225.8,1218.2 1226.8,1207.1 1227.9,1196.5 1228.9,1186.6 1230.0,1177.7 1231.0,1170.1 1232.1,1163.9 1233.1,1159.4 1234.2,1156.7 1235.2,1155.7 1236.3,1156.5 1237.3,1158.8 1238.3,1162.6 1239.3,1167.8 1240.3,1174.2 1241.3,1181.6 1242.3,1189.9 1243.3,1198.8 1244.3,1208.1 1245.4,1217.6 1246.4,1226.9 1247.4,1235.8 1248.4,1244.1 1249.4,1251.5 1250.4,1257.9 1251.4,1263.1 1252.4,1266.9 1253.5,1269.2 1254.5,1270.0 1255.5,1269.3 1256.5,1267.3 1257.5,1264.0 1258.5,1259.4 1259.6,1253.7 1260.6,1247.0 1261.6,1239.4 1262.6,1231.1 1263.6,1222.2 1264.6,1213.0 1265.7,1203.5 1266.7,1194.1 1267.7,1184.8 1268.7,1175.9 1269.7,1167.6 1270.8,1160.0 1271.8,1153.3 1272.8,1147.6 1273.8,1143.1 1274.8,1139.8 1275.8,1137.7 1276.9,1137.1 1277.9,1138.0 1278.9,1140.6 1279.9,1145.0 1281.0,1151.0 1282.0,1158.5 1283.0,1167.3 1284.0,1177.2 1285.0,1188.0 1286.1,1199.5 1287.1,1211.3 1288.1,1223.3 1289.1,1235.2 1290.2,1246.7 1291.2,1257.5 1292.2,1267.4 1293.2,1276.2 1294.2,1283.7 1295.3,1289.7 1296.3,1294.0 1297.3,1296.7 1298.3,1297.6 1299.3,1297.2 1300.3,1296.1 1301.3,1294.2 1302.3,1291.5 1303.3,1288.2 1304.3,1284.3 1305.4,1279.7 1306.4,1274.7 1307.4,1269.1 1308.4,1263.2 1309.4,1257.0 1310.4,1250.6 1311.4,1244.0 1312.4,1237.4 1313.4,1230.8 1314.4,1224.3 1315.4,1218.1 1316.4,1212.2 1317.4,1206.7 1318.4,1201.6 1319.4,1197.1 1320.4,1193.1 1321.4,1189.8 1322.4,1187.2 1323.4,1185.3 1324.4,1184.1 1325.4,1183.7 1326.4,1183.8 1327.4,1184.1 1328.4,1184.5 1329.5,1185.1 1330.5,1185.8 1331.5,1186.7 1332.5,1187.7 1333.5,1188.8 1334.5,1190.1 1335.6,1191.5 1336.6,1193.0 1337.6,1194.6 1338.6,1196.3 1339.6,1198.1 1340.6,1199.8 1341.6,1201.7 1342.7,1203.5 1343.7,1205.4 1344.7,1207.2 1345.7,1209.1 1346.7,1210.9 1347.7,1212.6 1348.8,1214.3 1349.8,1215.9 1350.8,1217.4 1351.8,1218.8 1352.8,1220.1 1353.8,1221.2 1354.8,1222.2 1355.9,1223.1 1356.9,1223.9 1357.9,1224.4 1358.9,1224.8 1359.9,1225.1 1360.9,1225.2 1362.0,1225.0 1363.0,1224.4 1364.0,1223.4 1365.0,1222.1 1366.0,1220.4 1367.1,1218.4 1368.1,1216.2 1369.1,1213.8 1370.1,1211.2 1371.2,1208.6 1372.2,1205.9 1373.2,1203.3 1374.2,1200.7 1375.2,1198.3" fill="none" stroke="#ee2e24" stroke-width="2.05" stroke-linejoin="round"/>
<polyline clip-path="url(#cpa)" points="276.1,113.3 279.3,93.9 283.0,97.1 286.4,80.6 289.0,49.5 292.3,89.6 294.8,182.9" fill="none" stroke="#231f20" stroke-width="1.8" stroke-linejoin="round" marker-start="url(#mH)" marker-mid="url(#mH)"/>
<polyline points="294.8,182.9 295.3,187.0 295.8,191.5 296.3,188.0 296.8,193.4 297.3,208.0 297.8,200.1 298.3,205.7 298.8,214.2 299.3,208.3 299.8,208.4 300.3,211.2 300.8,214.5 301.3,208.9 301.8,207.5 302.3,216.4 302.8,214.9 303.3,216.2 303.8,221.4 304.3,217.7 304.8,219.8 305.3,205.3 305.8,214.2 306.3,212.3 306.8,208.7 307.3,210.7 307.8,203.7 308.3,211.2 308.8,211.0 309.3,203.3 309.8,203.7 310.3,201.4 310.8,195.6 311.3,204.9 311.8,199.2 312.3,191.9 312.8,197.5 313.3,191.4 313.8,198.2 314.3,191.8 314.8,189.8 315.3,196.4 315.8,199.2 316.3,203.8 316.8,212.6 317.3,211.9 317.8,210.1 318.3,207.0 318.8,210.2 319.3,220.9 319.8,215.9 320.3,221.3 320.8,216.1 321.3,215.8 321.8,225.4 322.3,222.5 322.8,222.3 323.3,225.0 323.8,225.5 324.3,227.9 324.8,227.0 325.3,236.7 325.8,231.5 326.3,221.8 326.8,220.4 327.3,213.0 327.8,210.0 328.3,213.3 328.8,215.7 329.3,203.1 329.8,212.9 330.3,209.1 330.8,210.5 331.3,212.2 331.8,217.5 332.3,224.9 332.8,225.2 333.3,231.8 333.8,232.1 334.3,233.8 334.8,235.8 335.3,240.5 335.8,236.2 336.3,224.0 336.8,220.0 337.3,213.9 337.8,215.0 338.3,202.9 338.8,199.9 339.3,201.7 339.8,195.4 340.3,198.0 340.8,193.6 341.3,190.0 341.8,193.9 342.3,197.3 342.8,201.1 343.3,205.7 343.8,199.5 344.3,206.4 344.8,202.4 345.3,205.2 345.8,204.5 346.3,203.7 346.8,203.1 347.3,189.8 347.8,192.9 348.3,186.0 348.8,195.4 349.3,186.6 349.8,187.3 350.3,191.7 350.8,182.3 351.3,185.4 351.8,184.6 352.3,175.7 352.8,180.7 353.3,174.6 353.8,178.4 354.3,171.2 354.8,168.4 355.3,167.3 355.8,174.4 356.3,169.5 356.8,166.0 357.3,167.4 357.8,161.6 358.3,156.0 358.8,155.4 359.3,162.4 359.8,182.1 360.3,181.7 360.8,197.5 361.3,203.4 361.8,202.1 362.3,193.7 362.8,183.2 363.3,168.6 363.8,177.0 364.3,174.9 364.8,165.7 365.3,168.7 365.8,161.4 366.3,166.4 366.8,165.9 367.3,171.7 367.8,173.1 368.3,169.6 368.8,182.8 369.3,182.6 369.8,185.1 370.3,194.3 370.8,199.8 371.3,202.8 371.8,210.6 372.3,201.7 372.8,189.8 373.3,185.7 373.8,168.1 374.3,178.9 374.8,185.2 375.3,207.7 375.8,210.4 376.3,217.2 376.8,225.3 377.3,229.8 377.8,234.7 378.3,248.3 378.8,247.3 379.3,257.6 379.8,264.4 380.3,257.9 380.8,248.5 381.3,244.6 381.8,233.0 382.3,219.9 382.8,234.5 383.3,246.1 383.8,256.9 384.3,262.3 384.8,261.3 385.3,268.6 385.8,260.9 386.3,260.0 386.8,267.5 387.3,264.5 387.8,263.8 388.3,259.9 388.8,261.9 389.3,263.4 389.8,269.8 390.3,270.0 390.8,277.3 391.3,282.1 391.8,284.0 392.3,289.1 392.8,286.0 393.3,289.8 393.8,281.5 394.3,285.5 394.8,280.0 395.3,276.8 395.8,279.7 396.3,278.1 396.8,276.7 397.3,279.4 397.8,271.8 398.3,276.8 398.8,274.6 399.3,277.0 399.8,274.8 400.3,273.4 400.8,276.1 401.3,277.3 401.8,273.1 402.3,273.8 402.8,272.3 403.3,274.9 403.8,278.4 404.3,272.8 404.8,277.9 405.3,275.0 405.8,271.1 406.3,271.0 406.8,265.7 407.3,271.5 407.8,271.0 408.3,266.8 408.8,265.0 409.3,271.0 409.8,264.9 410.3,261.4 410.8,264.7 411.3,269.5 411.8,271.0 412.3,261.8 412.8,264.3 413.3,268.4 413.8,269.5 414.3,260.3 414.8,264.6 415.3,266.1 415.8,268.0 416.3,270.6 416.8,270.5 417.3,266.1 417.8,262.3 418.3,267.8 418.8,272.6 419.3,273.0 419.8,264.2 420.3,266.6 420.8,266.4 421.3,259.1 421.8,258.2 422.3,253.8 422.8,251.0 423.3,255.1 423.8,252.8 424.3,260.5 424.8,266.3 425.3,269.4 425.8,268.4 426.3,267.7 426.8,274.1 427.3,276.6 427.8,278.4 428.3,277.9 428.8,279.1 429.3,274.1 429.8,270.4 430.3,269.5 430.8,273.5 431.3,271.1 431.8,274.5 432.3,273.3 432.8,270.4 433.3,271.5 433.8,264.2 434.3,266.0 434.8,261.5 435.3,264.4 435.8,256.8 436.3,252.0 436.8,245.8 437.3,249.8 437.8,245.5 438.3,238.6 438.8,232.7 439.3,233.5 439.8,236.1 440.3,234.8 440.8,237.2 441.3,237.3 441.8,232.8 442.3,220.9 442.8,204.2 443.3,194.5 443.8,186.9 444.3,186.5 444.8,179.8 445.3,186.4 445.8,175.4 446.3,170.0 446.8,171.6 447.3,172.6 447.8,166.5 448.3,163.5 448.8,164.2 449.3,155.1 449.8,152.1 450.3,158.3 450.8,157.6 451.3,162.8 451.8,158.2 452.3,168.0 452.8,157.7 453.3,158.7 453.8,168.9 454.3,163.3 454.8,162.4 455.3,162.5 455.8,164.9 456.3,162.3 456.8,166.0 457.3,165.7 457.8,155.5 458.3,152.1 458.8,155.9 459.3,148.1 459.8,149.7 460.3,146.9 460.8,147.9 461.3,144.1 461.8,149.9 462.3,153.9 462.8,152.6 463.3,158.0 463.8,155.8 464.3,166.2 464.8,170.0 465.3,173.4 465.8,188.1 466.3,204.2 466.8,223.5 467.3,223.2 467.8,217.4 468.3,201.7 468.8,193.7 469.3,185.1 469.8,188.3 470.3,210.4 470.8,226.3 471.3,250.5 471.8,261.1 472.3,248.2 472.8,246.5 473.3,227.7 473.8,229.4 474.3,226.5 474.8,227.7 475.3,227.6 475.8,228.5 476.3,237.3 476.8,225.7 477.3,219.7 477.8,217.9 478.3,206.7 478.8,215.7 479.3,208.5 479.8,229.6 480.3,232.1 480.8,240.6 481.3,235.6 481.8,221.0 482.3,210.1 482.8,195.8 483.3,185.9 483.8,175.0 484.3,188.7 484.8,207.3 485.3,212.6 485.8,226.1 486.3,239.5 486.8,248.6 487.3,249.2 487.8,254.7 488.3,263.8 488.8,264.8 489.3,263.9 489.8,261.3 490.3,261.6 490.8,268.4 491.3,270.0 491.8,272.4 492.3,277.0 492.8,273.8 493.3,273.6 493.8,282.2 494.3,281.4 494.8,280.0 495.3,281.9 495.8,279.8 496.3,280.7 496.8,280.5 497.3,281.3 497.8,281.8 498.3,281.9 498.8,281.2 499.3,275.8 499.8,273.5 500.3,275.3 500.8,267.4 501.3,269.7 501.8,259.9 502.3,263.2 502.8,252.9 503.3,243.7 503.8,235.1 504.3,216.8 504.8,216.8 505.3,211.6 505.8,201.3 506.3,203.7 506.8,193.9 507.3,203.0 507.8,207.6 508.3,192.7 508.8,154.8 509.3,144.3 509.8,134.2 510.3,125.5 510.8,112.7 511.3,102.9 511.8,91.3 512.3,90.6 512.8,75.0 513.3,74.9 513.8,69.3 514.3,68.0 514.8,74.5 515.3,60.8 515.8,70.5 516.3,61.8 516.8,66.3 517.3,53.9 517.8,69.1 518.3,67.9 518.8,65.8 519.3,69.9 519.8,70.3 520.3,69.0 520.8,86.0 521.3,91.2 521.8,102.6 522.3,105.4 522.8,89.7 523.3,83.0 523.8,60.2 524.3,79.3 524.8,96.6 525.3,118.1 525.8,116.8 526.3,98.9 526.8,95.5 527.3,90.6 527.8,87.8 528.3,79.3 528.8,72.5 529.3,79.4 529.8,99.5 530.3,102.8 530.8,111.9 531.3,104.8 531.8,109.5 532.3,107.7 532.8,100.1 533.3,104.7 533.8,92.0 534.3,93.7 534.8,92.0 535.3,91.2 535.8,89.2 536.3,90.8 536.8,99.2 537.3,109.6 537.8,127.5 538.3,130.9 538.8,148.4 539.3,170.8 539.8,201.3 540.3,218.6 540.8,238.1 541.3,245.4 541.8,241.7 542.3,251.7 542.8,247.6 543.3,241.4 543.8,234.8 544.3,244.0 544.8,244.3 545.3,251.5 545.8,254.2 546.3,262.6 546.8,263.0 547.3,241.7 547.8,216.9 548.3,218.2 548.8,229.8 549.3,234.6 549.8,247.9 550.3,245.2 550.8,244.6 551.3,246.8 551.8,251.2 552.3,256.3 552.8,260.8 553.3,259.4 553.8,265.3 554.3,268.3 554.8,267.8 555.3,272.6 555.8,269.5 556.3,272.8 556.8,270.0 557.3,276.5 557.8,272.6 558.3,278.0 558.8,272.7 559.3,275.3 559.8,276.0 560.3,275.6 560.8,274.7 561.3,280.3 561.8,265.8 562.3,263.3 562.8,268.0 563.3,272.0 563.8,267.3 564.3,262.3 564.8,262.7 565.3,266.6 565.8,267.5 566.3,270.3 566.8,272.8 567.3,271.8 567.8,276.4 568.3,266.6 568.8,266.1 569.3,265.4 569.8,269.1 570.3,258.9 570.8,258.4 571.3,244.7 571.8,219.2 572.3,205.8 572.8,185.4 573.3,204.9 573.8,204.4 574.3,210.2 574.8,220.9 575.3,221.7 575.8,218.0 576.3,213.4 576.8,214.1 577.3,216.0 577.8,209.4 578.3,202.0 578.8,207.5 579.3,199.0 579.8,196.0 580.3,208.6 580.8,213.8 581.3,218.1 581.8,217.6 582.3,218.7 582.8,222.3 583.3,226.6 583.8,223.5 584.3,226.5 584.8,228.8 585.3,230.7 585.8,235.6 586.3,239.5 586.8,242.6 587.3,253.8 587.8,251.9 588.3,264.6 588.8,267.6 589.3,267.5 589.8,273.6 590.3,269.0 590.8,260.9 591.3,261.4 591.8,255.8 592.3,252.3 592.8,246.2 593.3,234.1 593.8,228.9 594.3,222.2 594.8,214.3 595.3,194.8 595.8,183.1 596.3,194.9 596.8,217.0 597.3,220.6 597.8,214.8 598.3,212.6 598.8,211.6 599.3,211.7 599.8,214.7 600.3,216.4 600.8,220.7 601.3,221.6 601.8,223.0 602.3,221.1 602.8,223.5 603.3,223.4 603.8,227.6 604.3,224.3 604.8,226.8 605.3,229.8 605.8,238.9 606.3,243.0 606.8,241.3 607.3,231.9 607.8,230.4 608.3,230.6 608.8,225.5 609.3,223.1 609.8,225.5 610.3,214.8 610.8,213.4 611.3,217.8 611.8,215.0 612.3,219.7 612.8,220.8 613.3,214.9 613.8,215.9 614.3,216.0 614.8,214.0 615.3,220.6 615.8,215.3 616.3,209.2 616.8,196.8 617.3,184.3 617.8,197.7 618.3,193.6 618.8,198.5 619.3,194.7 619.8,200.2 620.3,201.6 620.8,224.9 621.3,246.8 621.8,257.8 622.3,269.2 622.8,263.2 623.3,269.6 623.8,266.5 624.3,270.5 624.8,267.2 625.3,272.8 625.8,273.0 626.3,273.3 626.8,274.4 627.3,282.7 627.8,276.7 628.3,277.0 628.8,276.3 629.3,279.0 629.8,284.2 630.3,286.1 630.8,282.5 631.3,287.9 631.8,288.1 632.3,283.4 632.8,284.2 633.3,288.0 633.8,286.0 634.3,291.2 634.8,286.3 635.3,289.5 635.8,286.9 636.3,282.8 636.8,287.9 637.3,283.7 637.8,281.0 638.3,278.7 638.8,283.4 639.3,284.0 639.8,279.7 640.3,286.4 640.8,282.8 641.3,288.1 641.8,281.7 642.3,284.3 642.8,284.0 643.3,285.6 643.8,284.7 644.3,285.4 644.8,287.0 645.3,283.5 645.8,282.8 646.3,281.9 646.8,284.4 647.3,282.3 647.8,283.1 648.3,285.2 648.8,282.1 649.3,281.0 649.8,280.8 650.3,285.5 650.8,283.5 651.3,286.2 651.8,280.1 652.3,282.5 652.8,284.8 653.3,279.4 653.8,283.2 654.3,280.4 654.8,278.4 655.3,277.4 655.8,271.2 656.3,275.7 656.8,276.0 657.3,272.3 657.8,274.4 658.3,278.9 658.8,273.0 659.3,276.4 659.8,278.3 660.3,278.0 660.8,276.0 661.3,280.9 661.8,279.9 662.3,277.4 662.8,276.4 663.3,280.3 663.8,277.0 664.3,275.1 664.8,273.6 665.3,271.5 665.8,274.4 666.3,273.5 666.8,277.6 667.3,276.8 667.8,275.6 668.3,278.1 668.8,273.7 669.3,277.1 669.8,274.4 670.3,278.8 670.8,275.2 671.3,276.1 671.8,276.1 672.3,278.9 672.8,282.6 673.3,278.0 673.8,282.2 674.3,277.0 674.8,277.4 675.3,279.5 675.8,273.7 676.3,275.4 676.8,281.6 677.3,279.6 677.8,271.0 678.3,276.1 678.8,275.0 679.3,272.0 679.8,266.2 680.3,274.1 680.8,270.5 681.3,273.9 681.8,267.5 682.3,275.6 682.8,265.9 683.3,267.3 683.8,261.2 684.3,265.4 684.8,264.6 685.3,263.1 685.8,264.5 686.3,264.1 686.8,258.8 687.3,262.6 687.8,254.4 688.3,254.1 688.8,254.3 689.3,252.0 689.8,253.9 690.3,253.0 690.8,247.2 691.3,250.5 691.8,245.5 692.3,250.9 692.8,245.5 693.3,243.7 693.8,243.2 694.3,241.5 694.8,236.4 695.3,242.5 695.8,232.5 696.3,238.1 696.8,236.1 697.3,243.7 697.8,242.9 698.3,243.3 698.8,246.2 699.3,244.2 699.8,244.5 700.3,245.0 700.8,241.3 701.3,238.2 701.8,241.9 702.3,250.0 702.8,258.8 703.3,263.4 703.8,270.1 704.3,271.2 704.8,276.9 705.3,273.3 705.8,279.6 706.3,283.7 706.8,282.9 707.3,278.0 707.8,276.1 708.3,276.6 708.8,267.7 709.3,267.0 709.8,267.5 710.3,271.9 710.8,273.0 711.3,274.7 711.8,281.9 712.3,277.0 712.8,284.9 713.3,282.8 713.8,280.7 714.3,281.8 714.8,281.6 715.3,284.3 715.8,278.2 716.3,281.5 716.8,283.9 717.3,287.3 717.8,288.7 718.3,287.5 718.8,283.8 719.3,290.0 719.8,287.3 720.3,282.2 720.8,283.9 721.3,282.0 721.8,280.3 722.3,279.3 722.8,280.7 723.3,277.6 723.8,279.1 724.3,284.1 724.8,279.2 725.3,279.8 725.8,279.4 726.3,280.0 726.8,277.9 727.3,271.3 727.8,270.5 728.3,268.8 728.8,271.0 729.3,273.8 729.8,272.6 730.3,282.6 730.8,281.9 731.3,285.8 731.8,281.9 732.3,285.7 732.8,280.0 733.3,287.5 733.8,287.3 734.3,280.2 734.8,282.7 735.3,289.9 735.8,289.6 736.3,286.7 736.8,282.4 737.3,284.4 737.8,287.4 738.3,293.8 738.8,293.5 739.3,287.6 739.8,288.2 740.3,287.2 740.8,282.4 741.3,285.1 741.8,277.3 742.3,277.1 742.8,272.2 743.3,270.6 743.8,272.0 744.3,265.5 744.8,266.9 745.3,259.3 745.8,263.4 746.3,254.1 746.8,247.5 747.3,248.2 747.8,242.1 748.3,234.7 748.8,223.2 749.3,215.6 749.8,204.4 750.3,192.9 750.8,180.5 751.3,172.4 751.8,171.6 752.3,159.2 752.8,156.1 753.3,142.9 753.8,141.1 754.3,134.2 754.8,133.7 755.3,137.1 755.8,127.1 756.3,127.2 756.8,115.7 757.3,120.6 757.8,120.5 758.3,121.4 758.8,117.4 759.3,125.1 759.8,127.9 760.3,125.5 760.8,117.9 761.3,128.7 761.8,123.7 762.3,129.8 762.8,124.2 763.3,135.6 763.8,134.7 764.3,150.0 764.8,136.0 765.3,145.0 765.8,143.6 766.3,158.4 766.8,169.9 767.3,163.9 767.8,173.8 768.3,193.9 768.8,204.1 769.3,202.1 769.8,211.0 770.3,212.8 770.8,207.7 771.3,210.2 771.8,214.5 772.3,209.1 772.8,218.7 773.3,217.5 773.8,217.6 774.3,219.0 774.8,220.9 775.3,220.8 775.8,220.4 776.3,217.2 776.8,221.5 777.3,222.3 777.8,219.4 778.3,221.6 778.8,219.9 779.3,224.2 779.8,219.6 780.3,222.9 780.8,235.9 781.3,237.0 781.8,241.9 782.3,248.8 782.8,256.4 783.3,264.1 783.8,264.8 784.3,262.6 784.8,263.7 785.3,257.9 785.8,263.4 786.3,259.9 786.8,265.9 787.3,265.3 787.8,271.4 788.3,270.7 788.8,272.4 789.3,270.0 789.8,278.2 790.3,275.6 790.8,277.8 791.3,278.1 791.8,271.5 792.3,270.0 792.8,277.2 793.3,280.9 793.8,280.8 794.3,277.8 794.8,280.7 795.3,273.3 795.8,273.3 796.3,278.9 796.8,279.1 797.3,281.3 797.8,275.8 798.3,277.7 798.8,280.3 799.3,275.1 799.8,276.6 800.3,279.9 800.8,284.0 801.3,277.8 801.8,282.2 802.3,281.3 802.8,282.8 803.3,282.8 803.8,284.3 804.3,285.3 804.8,283.9 805.3,284.7 805.8,287.7 806.3,289.2 806.8,285.2 807.3,282.2 807.8,286.9 808.3,280.5 808.8,278.6 809.3,286.1 809.8,279.8 810.3,277.6 810.8,279.1 811.3,278.5 811.8,279.2 812.3,281.5 812.8,275.6 813.3,275.5 813.8,275.1 814.3,279.1 814.8,272.2 815.3,270.5 815.8,272.8 816.3,274.2 816.8,271.0 817.3,275.9 817.8,269.6 818.3,268.9 818.8,273.2 819.3,271.0 819.8,268.8 820.3,265.4 820.8,260.9 821.3,263.3 821.8,254.7 822.3,245.7 822.8,251.9 823.3,257.0 823.8,260.9 824.3,259.1 824.8,262.7 825.3,260.5 825.8,265.9 826.3,269.6 826.8,268.0 827.3,267.9 827.8,267.1 828.3,272.3 828.8,273.9 829.3,268.4 829.8,270.9 830.3,275.3 830.8,265.1 831.3,269.3 831.8,268.4 832.3,272.9 832.8,272.9 833.3,275.4 833.8,267.7 834.3,269.3 834.8,276.1 835.3,266.3 835.8,266.4 836.3,267.2 836.8,261.5 837.3,264.8 837.8,266.7 838.3,264.9 838.8,263.8 839.3,262.2 839.8,259.7 840.3,254.7 840.8,259.0 841.3,258.3 841.8,250.8 842.3,252.1 842.8,250.5 843.3,255.2 843.8,248.7 844.3,248.6 844.8,253.4 845.3,253.6 845.8,254.3 846.3,252.6 846.8,251.6 847.3,251.9 847.8,253.2 848.3,253.9 848.8,258.3 849.3,252.8 849.8,257.6 850.3,251.4 850.8,254.8 851.3,258.8 851.8,248.1 852.3,244.0 852.8,243.8 853.3,237.7 853.8,234.0 854.3,235.7 854.8,237.7 855.3,238.4 855.8,231.4 856.3,231.9 856.8,243.1 857.3,275.2 857.8,283.3 858.3,286.2 858.8,280.9 859.3,280.6 859.8,280.7 860.3,282.5 860.8,281.1 861.3,279.1 861.8,280.1 862.3,280.9 862.8,280.4 863.3,273.2 863.8,279.0 864.3,281.7 864.8,283.2 865.3,278.9 865.8,274.3 866.3,278.2 866.8,277.6 867.3,276.1 867.8,279.9 868.3,275.6 868.8,273.1 869.3,271.5 869.8,266.5 870.3,265.3 870.8,267.9 871.3,270.4 871.8,269.7 872.3,270.2 872.8,268.9 873.3,270.4 873.8,272.9 874.3,271.7 874.8,273.8 875.3,273.2 875.8,271.4 876.3,272.4 876.8,263.9 877.3,265.8 877.8,274.5 878.3,268.9 878.8,267.2 879.3,266.2 879.8,271.7 880.3,269.8 880.8,276.3 881.3,274.6 881.8,279.3 882.3,282.5 882.8,281.5 883.3,281.0 883.8,282.8 884.3,287.0 884.8,281.3 885.3,279.0 885.8,277.7 886.3,284.8 886.8,282.0 887.3,278.0 887.8,281.0 888.3,283.0 888.8,279.7 889.3,284.9 889.8,277.9 890.3,275.4 890.8,276.1 891.3,275.6 891.8,278.5 892.3,276.4 892.8,270.8 893.3,275.2 893.8,271.8 894.3,278.2 894.8,278.3 895.3,270.1 895.8,272.5 896.3,270.7 896.8,269.6 897.3,273.7 897.8,275.6 898.3,270.2 898.8,272.8 899.3,270.2 899.8,269.8 900.3,276.2 900.8,272.1 901.3,275.3 901.8,277.2 902.3,270.1 902.8,271.5 903.3,267.6 903.8,273.2 904.3,267.8 904.8,269.9 905.3,269.7 905.8,270.6 906.3,263.9 906.8,267.1 907.3,261.9 907.8,259.9 908.3,254.5 908.8,251.6 909.3,252.3 909.8,246.2 910.3,247.6 910.8,243.0 911.3,244.5 911.8,241.8 912.3,245.8 912.8,238.4 913.3,237.5 913.8,238.7 914.3,228.3 914.8,221.4 915.3,217.0 915.8,200.8 916.3,197.9 916.8,183.6 917.3,168.2 917.8,138.6 918.3,129.9 918.8,128.0 919.3,123.2 919.8,126.3 920.3,112.2 920.8,116.4 921.3,114.1 921.8,106.5 922.3,102.0 922.8,106.6 923.3,100.1 923.8,92.2 924.3,99.0 924.8,96.7 925.3,89.4 925.8,90.5 926.3,89.1 926.8,88.0 927.3,91.4 927.8,104.3 928.3,108.7 928.8,106.2 929.3,95.4 929.8,97.6 930.3,104.7 930.8,106.2 931.3,119.5 931.8,112.4 932.3,115.6 932.8,116.1 933.3,109.5 933.8,113.0 934.3,111.2 934.8,101.6 935.3,112.6 935.8,109.4 936.3,111.0 936.8,127.7 937.3,119.4 937.8,129.9 938.3,128.4 938.8,124.9 939.3,127.7 939.8,133.4 940.3,137.0 940.8,138.1 941.3,147.1 941.8,153.1 942.3,161.2 942.8,168.2 943.3,185.2 943.8,173.5 944.3,123.2 944.8,129.4 945.3,127.7 945.8,133.4 946.3,122.5 946.8,135.3 947.3,135.2 947.8,180.9 948.3,223.0 948.8,223.0 949.3,230.4 949.8,236.5 950.3,234.5 950.8,245.2 951.3,242.1 951.8,250.2 952.3,241.7 952.8,246.6 953.3,253.2 953.8,251.2 954.3,254.3 954.8,261.2 955.3,259.5 955.8,258.6 956.3,257.3 956.8,260.5 957.3,260.3 957.8,259.8 958.3,255.2 958.8,252.9 959.3,252.1 959.8,249.4 960.3,248.4 960.8,253.8 961.3,248.6 961.8,246.8 962.3,252.7 962.8,253.2 963.3,250.1 963.8,261.3 964.3,265.6 964.8,261.0 965.3,269.2 965.8,268.6 966.3,269.6 966.8,265.1 967.3,261.8 967.8,256.9 968.3,249.6 968.8,252.6 969.3,247.0 969.8,245.8 970.3,249.5 970.8,250.5 971.3,257.5 971.8,257.2 972.3,262.9 972.8,259.3 973.3,258.9 973.8,260.7 974.3,261.9 974.8,263.8 975.3,263.5 975.8,271.1 976.3,266.5 976.8,266.6 977.3,272.1 977.8,271.6 978.3,273.0 978.8,272.4 979.3,268.1 979.8,260.1 980.3,261.6 980.8,248.8 981.3,252.9 981.8,244.7 982.3,248.1 982.8,251.3 983.3,253.7 983.8,261.0 984.3,265.4 984.8,267.8 985.3,264.6 985.8,267.1 986.3,266.3 986.8,273.1 987.3,270.3 987.8,275.4 988.3,275.6 988.8,281.4 989.3,281.6 989.8,271.6 990.3,268.6 990.8,254.1 991.3,256.9 991.8,254.7 992.3,262.4 992.8,268.4 993.3,269.4 993.8,270.7 994.3,274.9 994.8,278.9 995.3,282.7 995.8,280.5 996.3,283.0 996.8,281.4 997.3,280.7 997.8,278.7 998.3,280.2 998.8,285.5 999.3,279.4 999.8,284.8 1000.3,281.9 1000.8,281.4 1001.3,282.6 1001.8,282.2 1002.3,279.7 1002.8,274.5 1003.3,279.0 1003.8,281.5 1004.3,272.3 1004.8,271.3 1005.3,275.7 1005.8,275.8 1006.3,275.7 1006.8,283.4 1007.3,277.7 1007.8,285.4 1008.3,279.4 1008.8,275.6 1009.3,278.1 1009.8,274.6 1010.3,276.3 1010.8,280.7 1011.3,270.9 1011.8,271.9 1012.3,271.7 1012.8,273.3 1013.3,271.4 1013.8,277.6 1014.3,275.6 1014.8,275.1 1015.3,273.0 1015.8,273.9 1016.3,272.5 1016.8,268.2 1017.3,272.3 1017.8,267.1 1018.3,269.8 1018.8,272.6 1019.3,268.2 1019.8,265.3 1020.3,270.5 1020.8,265.9 1021.3,264.1 1021.8,261.2 1022.3,264.0 1022.8,269.6 1023.3,268.4 1023.8,274.0 1024.3,271.8 1024.8,276.8 1025.3,276.0 1025.8,273.0 1026.3,277.0 1026.8,274.2 1027.3,270.8 1027.8,274.0 1028.3,267.8 1028.8,271.4 1029.3,270.5 1029.8,272.1 1030.3,273.2 1030.8,265.7 1031.3,270.9 1031.8,267.7 1032.3,268.1 1032.8,268.7 1033.3,276.0 1033.8,270.3 1034.3,269.5 1034.8,277.6 1035.3,277.6 1035.8,279.9 1036.3,270.6 1036.8,274.7 1037.3,276.1 1037.8,275.5 1038.3,275.4 1038.8,274.6 1039.3,274.5 1039.8,269.3 1040.3,270.5 1040.8,270.1 1041.3,271.4 1041.8,269.5 1042.3,268.7 1042.8,271.7 1043.3,274.4 1043.8,276.1 1044.3,268.7 1044.8,273.5 1045.3,269.7 1045.8,268.6 1046.3,272.4 1046.8,274.2 1047.3,276.0 1047.8,264.4 1048.3,260.5 1048.8,262.9 1049.3,266.2 1049.8,255.1 1050.3,253.8 1050.8,258.0 1051.3,258.6 1051.8,260.2 1052.3,252.9 1052.8,257.2 1053.3,259.8 1053.8,255.9 1054.3,258.8 1054.8,254.4 1055.3,261.7 1055.8,256.5 1056.3,253.7 1056.8,257.3 1057.3,257.6 1057.8,261.7 1058.3,258.6 1058.8,263.6 1059.3,265.3 1059.8,271.3 1060.3,273.5 1060.8,276.2 1061.3,276.8 1061.8,271.4 1062.3,270.8 1062.8,264.6 1063.3,268.1 1063.8,266.0 1064.3,271.8 1064.8,269.7 1065.3,275.8 1065.8,280.8 1066.3,286.4 1066.8,283.9 1067.3,281.5 1067.8,283.0 1068.3,282.2 1068.8,280.3 1069.3,278.2 1069.8,275.8 1070.3,277.8 1070.8,273.1 1071.3,278.5 1071.8,270.3 1072.3,269.4 1072.8,264.3 1073.3,253.8 1073.8,253.8 1074.3,246.6 1074.8,226.9 1075.3,202.2 1075.8,185.6 1076.3,157.6 1076.8,141.8 1077.3,120.8 1077.8,91.9 1078.3,72.7 1078.8,61.8 1079.3,49.5 1079.8,41.1 1080.3,40.4 1080.8,38.6 1081.3,31.4 1081.8,26.6 1082.3,17.7 1082.8,22.0 1083.3,26.5 1083.8,20.0 1084.3,22.7 1084.8,31.8 1085.3,18.5 1085.8,20.2 1086.3,31.3 1086.8,16.8 1087.3,16.8 1087.8,21.7 1088.3,15.4 1088.8,21.8 1089.3,21.5 1089.8,11.5 1090.3,17.9 1090.8,32.6 1091.3,20.5 1091.8,21.4 1092.3,35.4 1092.8,23.0 1093.3,36.8 1093.8,36.2 1094.3,38.4 1094.8,31.3 1095.3,47.4 1095.8,55.5 1096.3,53.9 1096.8,50.2 1097.3,53.3 1097.8,58.2 1098.3,66.0 1098.8,77.9 1099.3,66.0 1099.8,74.6 1100.3,79.1 1100.8,81.9 1101.3,93.3 1101.8,99.5 1102.3,102.4 1102.8,115.0 1103.3,113.1 1103.8,131.9 1104.3,151.7 1104.8,129.8 1105.3,109.4 1105.8,118.2 1106.3,110.6 1106.8,102.7 1107.3,98.8 1107.8,97.4 1108.3,98.6 1108.8,98.8 1109.3,109.5 1109.8,129.0 1110.3,124.9 1110.8,117.9 1111.3,124.1 1111.8,125.5 1112.3,121.0 1112.8,126.0 1113.3,125.7 1113.8,129.6 1114.3,125.2 1114.8,132.2 1115.3,134.6 1115.8,128.5 1116.3,138.5 1116.8,138.1 1117.3,133.9 1117.8,134.6 1118.3,150.5 1118.8,139.3 1119.3,150.9 1119.8,149.4 1120.3,145.5 1120.8,148.1 1121.3,137.9 1121.8,131.5 1122.3,134.7 1122.8,132.1 1123.3,124.5 1123.8,134.0 1124.3,137.2 1124.8,134.5 1125.3,149.1 1125.8,153.8 1126.3,152.9 1126.8,158.3 1127.3,163.2 1127.8,165.9 1128.3,161.7 1128.8,166.3 1129.3,171.0 1129.8,172.7 1130.3,170.1 1130.8,174.0 1131.3,177.4 1131.8,186.6 1132.3,182.7 1132.8,189.0 1133.3,197.9 1133.8,192.8 1134.3,195.4 1134.8,195.7 1135.3,194.3 1135.8,201.7 1136.3,197.8 1136.8,199.0 1137.3,195.7 1137.8,192.6 1138.3,233.3 1138.8,258.1 1139.3,242.3 1139.8,231.1 1140.3,211.6 1140.8,205.7 1141.3,218.1 1141.8,237.4 1142.3,249.8 1142.8,249.6 1143.3,235.6 1143.8,226.2 1144.3,219.7 1144.8,218.5 1145.3,216.4 1145.8,211.6 1146.3,203.8 1146.8,203.8 1147.3,210.9 1147.8,244.2 1148.3,262.1 1148.8,244.2 1149.3,234.1 1149.8,226.8 1150.3,239.0 1150.8,272.9 1151.3,284.6 1151.8,277.6 1152.3,284.5 1152.8,283.6 1153.3,276.6 1153.8,281.6 1154.3,277.1 1154.8,279.1 1155.3,282.3 1155.8,279.8 1156.3,276.6 1156.8,272.9 1157.3,284.5 1157.8,271.8 1158.3,270.3 1158.8,265.5 1159.3,255.0 1159.8,257.6 1160.3,256.1 1160.8,253.3 1161.3,247.4 1161.8,239.1 1162.3,254.3 1162.8,254.2 1163.3,251.0 1163.8,252.7 1164.3,251.2 1164.8,250.5 1165.3,238.1 1165.8,240.7 1166.3,240.7 1166.8,257.2 1167.3,263.0 1167.8,275.6 1168.3,272.7 1168.8,278.2 1169.3,271.8 1169.8,272.5 1170.3,272.7 1170.8,271.8 1171.3,270.4 1171.8,270.5 1172.3,274.8 1172.8,270.4 1173.3,273.9 1173.8,285.8 1174.3,289.9 1174.8,292.5 1175.3,294.3 1175.8,299.9 1176.3,297.2 1176.8,296.1 1177.3,302.1 1177.8,303.5 1178.3,304.1 1178.8,307.9 1179.3,304.1 1179.8,311.7 1180.3,309.1 1180.8,311.2 1181.3,305.7 1181.8,301.7 1182.3,300.3 1182.8,298.7 1183.3,298.2 1183.8,295.4 1184.3,298.6 1184.8,297.5 1185.3,303.0 1185.8,306.8 1186.3,313.1 1186.8,312.6 1187.3,309.3 1187.8,309.4 1188.3,306.6 1188.8,309.1 1189.3,307.9 1189.8,305.8 1190.3,303.9 1190.8,302.7 1191.3,303.5 1191.8,304.0 1192.3,302.8 1192.8,307.0 1193.3,302.1 1193.8,302.4 1194.3,300.2 1194.8,295.1 1195.3,298.2 1195.8,296.0 1196.3,298.8 1196.8,297.0 1197.3,299.3 1197.8,298.7 1198.3,295.9 1198.8,290.8 1199.3,292.3 1199.8,291.7 1200.3,296.6 1200.8,292.8 1201.3,296.3 1201.8,294.2 1202.3,293.3 1202.8,293.6 1203.3,289.8 1203.8,288.8 1204.3,290.6 1204.8,295.8 1205.3,291.8 1205.8,289.6 1206.3,288.7 1206.8,289.8 1207.3,293.1 1207.8,296.0 1208.3,293.2 1208.8,294.7 1209.3,296.7 1209.8,292.2 1210.3,290.9 1210.8,294.6 1211.3,288.4 1211.8,294.7 1212.3,296.2 1212.8,296.0 1213.3,291.7 1213.8,295.2 1214.3,298.1 1214.8,294.4 1215.3,295.3 1215.8,290.1 1216.3,291.3 1216.8,290.5 1217.3,292.6 1217.8,287.6 1218.3,284.6 1218.8,287.5 1219.3,282.9 1219.8,286.3 1220.3,286.2 1220.8,289.9 1221.3,287.3 1221.8,288.0 1222.3,289.5 1222.8,289.9 1223.3,293.0 1223.8,288.8 1224.3,289.2 1224.8,282.9 1225.3,281.2 1225.8,280.4 1226.3,277.8 1226.8,280.1 1227.3,274.6 1227.8,275.2 1228.3,274.7 1228.8,262.0 1229.3,257.8 1229.8,254.3 1230.3,242.7 1230.8,238.9 1231.3,236.6 1231.8,227.9 1232.3,223.4 1232.8,211.1 1233.3,213.5 1233.8,219.8 1234.3,156.4 1234.8,162.2 1235.3,154.6 1235.8,152.3 1236.3,139.0 1236.8,134.3 1237.3,139.3 1237.8,131.9 1238.3,131.6 1238.8,132.2 1239.3,132.9 1239.8,128.6 1240.3,132.4 1240.8,133.1 1241.3,146.9 1241.8,154.3 1242.3,153.1 1242.8,144.8 1243.3,148.9 1243.8,140.0 1244.3,147.0 1244.8,139.8 1245.3,134.3 1245.8,127.9 1246.3,125.5 1246.8,124.9 1247.3,124.8 1247.8,124.2 1248.3,124.5 1248.8,117.5 1249.3,117.7 1249.8,115.4 1250.3,100.8 1250.8,91.9 1251.3,83.1 1251.8,86.2 1252.3,96.7 1252.8,121.4 1253.3,134.3 1253.8,136.6 1254.3,125.9 1254.8,111.1 1255.3,92.5 1255.8,86.6 1256.3,79.1 1256.8,90.1 1257.3,87.5 1257.8,92.4 1258.3,97.0 1258.8,87.7 1259.3,101.0 1259.8,85.5 1260.3,97.3 1260.8,96.2 1261.3,98.5 1261.8,106.6 1262.3,104.8 1262.8,113.1 1263.3,108.0 1263.8,101.6 1264.3,97.2 1264.8,103.3 1265.3,97.3 1265.8,95.9 1266.3,96.8 1266.8,106.4 1267.3,100.7 1267.8,117.0 1268.3,121.0 1268.8,116.5 1269.3,135.5 1269.8,127.7 1270.3,142.1 1270.8,138.7 1271.3,149.4 1271.8,155.7 1272.3,148.4 1272.8,145.2 1273.3,145.1 1273.8,132.0 1274.3,123.8 1274.8,117.9 1275.3,113.3 1275.8,111.5 1276.3,114.4 1276.8,116.2 1277.3,111.0 1277.8,107.2 1278.3,108.2 1278.8,110.1 1279.3,124.6 1279.8,140.8 1280.3,135.1 1280.8,130.1 1281.3,127.8 1281.8,113.4 1282.3,117.4 1282.8,114.7 1283.3,104.2 1283.8,96.5 1284.3,99.0 1284.8,88.4 1285.3,95.5 1285.8,91.4 1286.3,91.6 1286.8,83.1 1287.3,96.5 1287.8,90.2 1288.3,95.0 1288.8,102.5 1289.3,104.1 1289.8,103.1 1290.3,105.3 1290.8,117.8 1291.3,106.1 1291.8,105.8 1292.3,95.2 1292.8,100.4 1293.3,101.5 1293.8,102.8 1294.3,91.7 1294.8,92.7 1295.3,94.0 1295.8,91.2 1296.3,81.3 1296.8,72.2 1297.3,71.0 1297.8,76.8 1298.3,81.8 1298.8,78.8 1299.3,92.8 1299.8,84.4 1300.3,91.1 1300.8,102.4 1301.3,112.7 1301.8,112.6 1302.3,120.1 1302.8,122.3 1303.3,129.6 1303.8,152.1 1304.3,153.5 1304.8,168.2 1305.3,170.9 1305.8,166.9 1306.3,159.3 1306.8,159.5 1307.3,167.0 1307.8,167.8 1308.3,145.1 1308.8,129.8 1309.3,129.5 1309.8,121.7 1310.3,137.2 1310.8,145.0 1311.3,158.7 1311.8,162.5 1312.3,145.3 1312.8,138.9 1313.3,133.2 1313.8,136.3 1314.3,130.4 1314.8,140.9 1315.3,136.9 1315.8,145.2 1316.3,142.5 1316.8,141.1 1317.3,151.8 1317.8,157.8 1318.3,175.4 1318.8,183.2 1319.3,193.6 1319.8,201.1 1320.3,198.6 1320.8,209.7 1321.3,210.3 1321.8,200.3 1322.3,198.2 1322.8,198.8 1323.3,197.1 1323.8,197.0 1324.3,195.2 1324.8,191.0 1325.3,186.3 1325.8,191.9 1326.3,192.5 1326.8,186.2 1327.3,189.8 1327.8,199.1 1328.3,198.8 1328.8,198.9 1329.3,207.0 1329.8,206.8 1330.3,208.7 1330.8,200.2 1331.3,191.0 1331.8,190.6 1332.3,186.7 1332.8,190.8 1333.3,178.1 1333.8,185.6 1334.3,183.8 1334.8,182.5 1335.3,188.3 1335.8,183.0 1336.3,186.0 1336.8,186.7 1337.3,206.6 1337.8,220.2 1338.3,222.1 1338.8,229.2 1339.3,236.9 1339.8,241.2 1340.3,241.6 1340.8,250.3 1341.3,260.7 1341.8,255.5 1342.3,255.1 1342.8,260.6 1343.3,270.1 1343.8,254.7 1344.3,238.5 1344.8,226.4 1345.3,227.4 1345.8,233.8 1346.3,243.0 1346.8,245.3 1347.3,261.0 1347.8,262.4 1348.3,273.1 1348.8,281.9" fill="none" stroke="#231f20" stroke-width="1.9" stroke-linejoin="round" marker-start="url(#mSm)" marker-mid="url(#mSm)" marker-end="url(#mSm)"/>
<polyline points="275.5,876.4 279.3,888.5 282.6,854.9 285.8,888.5 289.0,863.3 291.4,926.8 295.1,938.9" fill="none" stroke="#231f20" stroke-width="1.8" stroke-linejoin="round" marker-start="url(#mH)" marker-mid="url(#mH)"/>
<polyline points="295.1,938.9 295.5,945.3 295.9,933.6 296.3,933.4 296.7,953.2 297.1,964.0 297.5,942.6 297.9,948.3 298.3,965.8 298.7,961.5 299.1,957.3 299.5,949.7 299.9,934.3 300.3,951.8 300.7,949.5 301.1,950.0 301.5,956.1 301.9,963.7 302.3,962.5 302.7,966.5 303.1,945.1 303.5,966.6 303.9,962.5 304.3,970.3 304.7,974.8 305.1,952.8 305.5,970.0 305.9,960.7 306.3,972.0 306.7,973.9 307.1,971.6 307.5,972.2 307.9,971.6 308.3,973.1 308.7,966.0 309.1,958.1 309.5,956.8 309.9,959.8 310.3,966.0 310.7,958.4 311.1,965.3 311.5,956.7 311.9,973.0 312.3,960.3 312.7,969.8 313.1,969.5 313.5,971.7 313.9,956.9 314.3,956.4 314.7,957.2 315.1,956.4 315.5,958.8 315.9,973.0 316.3,956.5 316.7,963.7 317.1,956.2 317.5,962.0 317.9,956.8 318.3,956.9 318.7,957.0 319.1,966.8 319.5,961.1 319.9,962.1 320.3,971.8 320.7,962.9 321.1,957.6 321.5,957.6 321.9,969.4 322.3,965.4 322.7,959.6 323.1,974.8 323.5,960.5 323.9,972.5 324.3,961.4 324.7,972.8 325.1,967.7 325.5,956.6 325.9,974.2 326.3,962.7 326.7,965.8 327.1,974.4 327.5,974.7 327.9,969.5 328.3,975.5 328.7,972.4 329.1,976.9 329.5,962.7 329.9,974.1 330.3,962.0 330.7,973.6 331.1,957.3 331.5,955.5 331.9,973.3 332.3,970.3 332.7,955.9 333.1,957.1 333.5,955.5 333.9,972.2 334.3,968.7 334.7,968.3 335.1,966.7 335.5,965.6 335.9,954.4 336.3,954.2 336.7,957.7 337.1,965.0 337.5,970.7 337.9,963.1 338.3,958.0 338.7,969.6 339.1,970.0 339.5,965.5 339.9,967.8 340.3,960.6 340.7,970.1 341.1,955.3 341.5,969.1 341.9,956.5 342.3,966.8 342.7,963.8 343.1,968.4 343.5,959.5 343.9,967.1 344.3,953.5 344.7,950.5 345.1,967.2 345.5,964.7 345.9,966.2 346.3,966.3 346.7,949.0 347.1,965.7 347.5,948.2 347.9,951.1 348.3,947.6 348.7,958.0 349.1,946.5 349.5,946.8 349.9,959.0 350.3,942.3 350.7,949.4 351.1,959.0 351.5,936.5 351.9,959.1 352.3,962.5 352.7,957.5 353.1,958.2 353.5,956.1 353.9,934.8 354.3,928.0 354.7,946.4 355.1,916.8 355.5,932.6 355.9,930.2 356.3,943.2 356.7,918.3 357.1,918.4 357.5,933.8 357.9,915.7 358.3,909.6 358.7,915.4 359.1,913.2 359.5,937.9 359.9,925.0 360.3,955.4 360.7,967.1 361.1,947.7 361.5,954.9 361.9,962.8 362.3,925.8 362.7,942.2 363.1,941.4 363.5,932.2 363.9,920.2 364.3,909.9 364.7,916.5 365.1,923.0 365.5,939.5 365.9,911.4 366.3,938.4 366.7,937.9 367.1,927.0 367.5,950.4 367.9,941.9 368.3,958.9 368.7,956.3 369.1,939.9 369.5,963.4 369.9,964.1 370.3,959.4 370.7,963.7 371.1,942.8 371.5,951.1 371.9,954.3 372.3,963.1 372.7,949.2 373.1,953.0 373.5,936.1 373.9,937.8 374.3,951.9 374.7,943.7 375.1,952.7 375.5,970.8 375.9,957.8 376.3,952.3 376.7,971.4 377.1,969.5 377.5,972.4 377.9,951.8 378.3,974.0 378.7,958.1 379.1,970.9 379.5,977.4 379.9,978.3 380.3,962.1 380.7,978.1 381.1,963.0 381.5,972.5 381.9,948.6 382.3,948.8 382.7,945.5 383.1,957.4 383.5,972.1 383.9,954.2 384.3,971.2 384.7,958.1 385.1,971.9 385.5,960.0 385.9,949.5 386.3,951.3 386.7,957.1 387.1,960.9 387.5,953.8 387.9,949.5 388.3,956.9 388.7,944.4 389.1,958.8 389.5,953.0 389.9,971.2 390.3,967.5 390.7,971.6 391.1,970.4 391.5,972.6 391.9,982.2 392.3,984.2 392.7,966.2 393.1,977.2 393.5,985.5 393.9,983.4 394.3,971.4 394.7,983.2 395.1,985.1 395.5,989.6 395.9,986.8 396.3,988.5 396.7,987.7 397.1,995.4 397.5,990.2 397.9,990.5 398.3,995.3 398.7,988.1 399.1,995.6 399.5,991.8 399.9,995.0 400.3,989.1 400.7,994.4 401.1,987.9 401.5,977.1 401.9,981.0 402.3,983.1 402.7,980.2 403.1,985.5 403.5,977.5 403.9,985.3 404.3,993.7 404.7,991.3 405.1,993.7 405.5,985.9 405.9,983.9 406.3,982.4 406.7,978.8 407.1,988.1 407.5,989.2 407.9,979.1 408.3,992.4 408.7,978.6 409.1,975.6 409.5,982.4 409.9,967.6 410.3,976.4 410.7,977.9 411.1,975.4 411.5,967.4 411.9,979.3 412.3,974.0 412.7,978.1 413.1,970.7 413.5,980.9 413.9,958.7 414.3,961.5 414.7,972.8 415.1,953.1 415.5,965.8 415.9,959.5 416.3,935.2 416.7,954.4 417.1,935.0 417.5,930.8 417.9,916.4 418.3,915.3 418.7,926.6 419.1,918.6 419.5,881.8 419.9,901.9 420.3,871.4 420.7,863.5 421.1,858.4 421.5,852.6 421.9,856.1 422.3,897.2 422.7,893.8 423.1,866.3 423.5,879.1 423.9,887.7 424.3,920.8 424.7,899.2 425.1,910.5 425.5,936.3 425.9,936.0 426.3,918.2 426.7,928.2 427.1,955.2 427.5,970.5 427.9,958.3 428.3,981.8 428.7,977.9 429.1,981.5 429.5,960.6 429.9,980.4 430.3,956.6 430.7,983.4 431.1,968.0 431.5,981.4 431.9,984.5 432.3,987.4 432.7,983.2 433.1,971.5 433.5,949.6 433.9,959.3 434.3,941.3 434.7,935.8 435.1,943.5 435.5,937.9 435.9,924.0 436.3,924.2 436.7,915.9 437.1,917.7 437.5,940.6 437.9,950.7 438.3,946.5 438.7,960.8 439.1,955.6 439.5,958.9 439.9,963.8 440.3,951.5 440.7,957.4 441.1,949.3 441.5,944.4 441.9,941.7 442.3,949.6 442.7,943.6 443.1,960.8 443.5,957.9 443.9,957.3 444.3,943.8 444.7,965.5 445.1,947.9 445.5,923.7 445.9,943.2 446.3,915.6 446.7,915.5 447.1,956.6 447.5,934.3 447.9,949.9 448.3,957.8 448.7,933.6 449.1,949.1 449.5,937.5 449.9,913.8 450.3,922.9 450.7,935.2 451.1,944.7 451.5,923.1 451.9,939.6 452.3,923.4 452.7,915.3 453.1,933.6 453.5,942.5 453.9,959.9 454.3,952.6 454.7,968.0 455.1,946.5 455.5,935.6 455.9,929.2 456.3,916.8 456.7,917.4 457.1,924.0 457.5,957.1 457.9,942.8 458.3,934.4 458.7,927.7 459.1,943.7 459.5,942.0 459.9,945.2 460.3,912.9 460.7,912.0 461.1,913.2 461.5,912.1 461.9,916.1 462.3,955.0 462.7,938.9 463.1,954.0 463.5,959.5 463.9,962.9 464.3,962.8 464.7,942.4 465.1,921.6 465.5,929.1 465.9,904.6 466.3,911.2 466.7,935.3 467.1,919.0 467.5,912.5 467.9,936.2 468.3,932.1 468.7,910.6 469.1,901.0 469.5,907.0 469.9,883.8 470.3,887.8 470.7,869.6 471.1,907.7 471.5,878.7 471.9,913.0 472.3,907.0 472.7,919.1 473.1,919.4 473.5,910.5 473.9,900.5 474.3,882.9 474.7,828.7 475.1,830.5 475.5,828.8 475.9,847.4 476.3,849.5 476.7,894.1 477.1,873.5 477.5,903.2 477.9,838.0 478.3,829.8 478.7,843.8 479.1,829.7 479.5,865.6 479.9,869.8 480.3,917.5 480.7,940.3 481.1,932.5 481.5,933.2 481.9,869.6 482.3,859.6 482.7,888.5 483.1,894.0 483.5,902.3 483.9,907.1 484.3,885.4 484.7,876.0 485.1,865.5 485.5,898.7 485.9,899.7 486.3,947.0 486.7,938.9 487.1,945.2 487.5,952.8 487.9,968.1 488.3,956.5 488.7,966.9 489.1,977.4 489.5,967.9 489.9,978.2 490.3,970.4 490.7,960.9 491.1,970.3 491.5,977.0 491.9,967.1 492.3,953.9 492.7,942.9 493.1,952.7 493.5,939.4 493.9,948.6 494.3,932.6 494.7,963.0 495.1,962.2 495.5,960.3 495.9,960.0 496.3,959.9 496.7,939.4 497.1,945.8 497.5,944.3 497.9,935.7 498.3,935.5 498.7,946.6 499.1,932.9 499.5,936.5 499.9,945.6 500.3,965.3 500.7,946.3 501.1,956.7 501.5,962.1 501.9,946.0 502.3,954.2 502.7,966.0 503.1,948.2 503.5,950.3 503.9,930.5 504.3,950.2 504.7,920.5 505.1,918.3 505.5,939.4 505.9,930.2 506.3,942.4 506.7,904.9 507.1,897.8 507.5,942.8 507.9,937.1 508.3,907.6 508.7,888.5 509.1,915.5 509.5,899.5 509.9,885.2 510.3,848.7 510.7,838.2 511.1,844.0 511.5,838.8 511.9,864.6 512.3,835.0 512.7,861.1 513.1,829.7 513.5,864.7 513.9,895.9 514.3,864.0 514.7,918.3 515.1,918.3 515.5,924.1 515.9,917.6 516.3,903.3 516.7,955.2 517.1,956.5 517.5,914.7 517.9,942.2 518.3,932.9 518.7,964.5 519.1,940.3 519.5,951.2 519.9,968.2 520.3,957.5 520.7,953.4 521.1,961.0 521.5,944.0 521.9,913.6 522.3,923.1 522.7,917.1 523.1,928.5 523.5,951.8 523.9,950.3 524.3,969.6 524.7,980.0 525.1,975.3 525.5,965.4 525.9,980.4 526.3,973.8 526.7,970.9 527.1,968.4 527.5,974.2 527.9,964.2 528.3,961.1 528.7,959.5 529.1,954.8 529.5,972.0 529.9,956.7 530.3,957.9 530.7,972.2 531.1,974.9 531.5,984.4 531.9,967.9 532.3,980.0 532.7,982.7 533.1,980.7 533.5,969.1 533.9,965.8 534.3,973.7 534.7,954.3 535.1,959.4 535.5,947.0 535.9,952.2 536.3,945.6 536.7,942.8 537.1,952.8 537.5,956.5 537.9,967.4 538.3,962.7 538.7,959.0 539.1,979.8 539.5,964.5 539.9,967.3 540.3,966.6 540.7,968.7 541.1,968.4 541.5,967.4 541.9,971.0 542.3,981.0 542.7,981.0 543.1,968.5 543.5,965.9 543.9,965.7 544.3,975.8 544.7,979.3 545.1,972.1 545.5,978.1 545.9,965.9 546.3,973.2 546.7,961.9 547.1,967.1 547.5,964.2 547.9,966.5 548.3,962.5 548.7,965.5 549.1,958.9 549.5,959.3 549.9,962.0 550.3,968.7 550.7,981.9 551.1,977.7 551.5,976.7 551.9,990.8 552.3,989.6 552.7,992.7 553.1,995.7 553.5,994.3 553.9,993.2 554.3,989.8 554.7,979.9 555.1,982.6 555.5,988.1 555.9,988.2 556.3,973.8 556.7,969.7 557.1,974.3 557.5,976.2 557.9,979.5 558.3,969.6 558.7,978.5 559.1,979.4 559.5,980.5 559.9,969.7 560.3,977.2 560.7,974.7 561.1,981.7 561.5,972.2 561.9,983.1 562.3,975.7 562.7,977.6 563.1,980.7 563.5,984.8 563.9,991.3 564.3,994.5 564.7,1007.3 565.1,1003.7 565.5,1007.8 565.9,998.5 566.3,1000.2 566.7,1005.6 567.1,996.2 567.5,1007.4 567.9,992.7 568.3,998.7 568.7,1001.1 569.1,988.7 569.5,987.6 569.9,987.5 570.3,990.7 570.7,995.3 571.1,974.3 571.5,986.3 571.9,987.7 572.3,961.1 572.7,958.6 573.1,953.8 573.5,968.1 573.9,935.5 574.3,938.2 574.7,935.7 575.1,919.8 575.5,902.8 575.9,910.0 576.3,889.1 576.7,895.9 577.1,912.1 577.5,916.0 577.9,919.6 578.3,927.5 578.7,944.8 579.1,924.6 579.5,948.4 579.9,947.5 580.3,947.4 580.7,967.6 581.1,959.8 581.5,942.1 581.9,971.2 582.3,973.0 582.7,954.4 583.1,962.8 583.5,960.4 583.9,968.1 584.3,976.9 584.7,968.0 585.1,961.1 585.5,963.0 585.9,981.3 586.3,981.2 586.7,973.9 587.1,984.7 587.5,966.7 587.9,985.8 588.3,988.9 588.7,985.6 589.1,980.5 589.5,986.9 589.9,986.3 590.3,983.9 590.7,984.4 591.1,988.5 591.5,986.0 591.9,973.1 592.3,985.8 592.7,981.9 593.1,972.7 593.5,976.3 593.9,971.2 594.3,965.6 594.7,961.6 595.1,957.7 595.5,957.1 595.9,963.0 596.3,971.1 596.7,960.7 597.1,963.7 597.5,957.5 597.9,971.1 598.3,959.3 598.7,961.5 599.1,967.0 599.5,968.2 599.9,967.9 600.3,960.2 600.7,965.8 601.1,964.4 601.5,967.1 601.9,977.3 602.3,984.3 602.7,975.2 603.1,972.9 603.5,993.2 603.9,992.2 604.3,1000.9 604.7,996.0 605.1,993.3 605.5,993.8 605.9,998.6 606.3,975.7 606.7,975.2 607.1,970.4 607.5,958.2 607.9,964.8 608.3,950.0 608.7,959.0 609.1,944.2 609.5,962.5 609.9,946.1 610.3,939.7 610.7,940.8 611.1,935.0 611.5,943.2 611.9,960.0 612.3,940.1 612.7,959.7 613.1,950.5 613.5,939.4 613.9,929.8 614.3,948.0 614.7,930.7 615.1,924.7 615.5,952.0 615.9,952.4 616.3,946.8 616.7,936.1 617.1,942.0 617.5,953.8 617.9,940.7 618.3,929.7 618.7,936.7 619.1,936.6 619.5,942.0 619.9,957.1 620.3,955.7 620.7,967.1 621.1,978.3 621.5,978.5 621.9,992.9 622.3,987.3 622.7,1001.2 623.1,997.0 623.5,996.8 623.9,991.1 624.3,988.3 624.7,977.0 625.1,985.1 625.5,972.7 625.9,968.7 626.3,969.2 626.7,975.4 627.1,961.2 627.5,968.0 627.9,966.3 628.3,961.3 628.7,974.8 629.1,976.7 629.5,976.7 629.9,977.0 630.3,967.6 630.7,982.6 631.1,969.6 631.5,969.8 631.9,980.2 632.3,964.7 632.7,961.0 633.1,959.7 633.5,966.3 633.9,961.1 634.3,969.5 634.7,956.9 635.1,959.9 635.5,969.7 635.9,974.8 636.3,976.3 636.7,984.6 637.1,989.8 637.5,986.1 637.9,992.5 638.3,993.0 638.7,986.9 639.1,996.8 639.5,997.0 639.9,983.9 640.3,990.3 640.7,984.6 641.1,982.9 641.5,981.5 641.9,971.1 642.3,983.4 642.7,964.4 643.1,979.5 643.5,971.2 643.9,969.6 644.3,974.0 644.7,973.7 645.1,975.3 645.5,982.7 645.9,970.8 646.3,973.2 646.7,976.9 647.1,982.7 647.5,982.0 647.9,979.9 648.3,990.4 648.7,996.0 649.1,996.1 649.5,991.1 649.9,999.1 650.3,997.3 650.7,998.7 651.1,984.9 651.5,998.1 651.9,987.6 652.3,996.3 652.7,979.6 653.1,974.1 653.5,978.9 653.9,967.2 654.3,972.4 654.7,968.6 655.1,970.8 655.5,964.3 655.9,970.9 656.3,962.4 656.7,972.7 657.1,964.6 657.5,967.8 657.9,974.6 658.3,962.2 658.7,966.9 659.1,963.5 659.5,970.8 659.9,977.9 660.3,964.9 660.7,974.7 661.1,965.2 661.5,979.9 661.9,981.5 662.3,968.0 662.7,966.2 663.1,978.8 663.5,982.4 663.9,982.7 664.3,979.6 664.7,976.9 665.1,974.7 665.5,986.2 665.9,988.3 666.3,993.9 666.7,995.0 667.1,994.3 667.5,994.9 667.9,995.9 668.3,995.5 668.7,985.5 669.1,985.5 669.5,993.9 669.9,988.4 670.3,984.7 670.7,982.5 671.1,980.0 671.5,978.8 671.9,992.5 672.3,975.2 672.7,982.5 673.1,990.5 673.5,972.3 673.9,968.8 674.3,968.5 674.7,968.0 675.1,966.9 675.5,971.2 675.9,976.5 676.3,966.4 676.7,974.8 677.1,963.1 677.5,951.8 677.9,939.6 678.3,962.0 678.7,943.2 679.1,947.5 679.5,936.6 679.9,946.7 680.3,903.3 680.7,894.2 681.1,910.1 681.5,909.3 681.9,951.2 682.3,957.5 682.7,924.2 683.1,953.2 683.5,952.4 683.9,939.4 684.3,939.3 684.7,937.0 685.1,908.8 685.5,899.3 685.9,893.9 686.3,895.8 686.7,926.7 687.1,896.0 687.5,918.5 687.9,896.1 688.3,899.3 688.7,909.5 689.1,911.4 689.5,931.3 689.9,932.7 690.3,920.4 690.7,909.6 691.1,917.8 691.5,914.2 691.9,888.9 692.3,906.1 692.7,902.3 693.1,902.0 693.5,947.9 693.9,941.8 694.3,936.5 694.7,909.8 695.1,907.0 695.5,900.5 695.9,907.7 696.3,918.5 696.7,935.4 697.1,941.8 697.5,935.8 697.9,927.5 698.3,925.1 698.7,929.1 699.1,928.8 699.5,930.8 699.9,901.7 700.3,933.7 700.7,916.3 701.1,896.1 701.5,930.3 701.9,894.2 702.3,921.6 702.7,891.9 703.1,928.0 703.5,922.4 703.9,898.9 704.3,911.7 704.7,939.3 705.1,956.5 705.5,979.5 705.9,967.3 706.3,980.8 706.7,954.1 707.1,944.3 707.5,953.4 707.9,969.4 708.3,954.7 708.7,954.4 709.1,941.4 709.5,956.3 709.9,942.4 710.3,944.2 710.7,953.9 711.1,958.0 711.5,961.7 711.9,972.4 712.3,968.9 712.7,979.4 713.1,972.2 713.5,979.9 713.9,974.0 714.3,984.1 714.7,974.3 715.1,972.5 715.5,966.7 715.9,966.0 716.3,951.7 716.7,959.5 717.1,959.2 717.5,965.9 717.9,971.5 718.3,992.9 718.7,998.8 719.1,987.2 719.5,982.3 719.9,977.1 720.3,975.6 720.7,975.3 721.1,965.2 721.5,972.7 721.9,959.7 722.3,963.5 722.7,943.5 723.1,942.4 723.5,955.8 723.9,948.9 724.3,940.4 724.7,947.7 725.1,941.3 725.5,940.9 725.9,953.9 726.3,943.1 726.7,968.1 727.1,983.9 727.5,992.7 727.9,985.1 728.3,971.0 728.7,952.6 729.1,948.9 729.5,925.9 729.9,911.5 730.3,900.1 730.7,905.6 731.1,924.1 731.5,929.4 731.9,919.6 732.3,940.4 732.7,944.8 733.1,959.0 733.5,970.5 733.9,984.7 734.3,986.2 734.7,978.8 735.1,986.2 735.5,990.2 735.9,970.3 736.3,978.8 736.7,984.4 737.1,974.3 737.5,981.7 737.9,956.5 738.3,959.6 738.7,971.0 739.1,961.1 739.5,958.2 739.9,951.3 740.3,963.5 740.7,957.1 741.1,937.7 741.5,951.5 741.9,966.5 742.3,962.1 742.7,959.0 743.1,924.4 743.5,917.9 743.9,935.1 744.3,949.5 744.7,928.8 745.1,889.8 745.5,902.6 745.9,884.2 746.3,920.6 746.7,887.6 747.1,894.2 747.5,880.0 747.9,917.9 748.3,891.6 748.7,894.9 749.1,879.2 749.5,866.6 749.9,867.7 750.3,863.3 750.7,874.3 751.1,867.5 751.5,867.7 751.9,889.3 752.3,894.8 752.7,875.1 753.1,891.4 753.5,909.9 753.9,886.2 754.3,901.7 754.7,922.1 755.1,888.1 755.5,894.4 755.9,908.3 756.3,920.7 756.7,937.1 757.1,927.2 757.5,942.8 757.9,948.3 758.3,922.0 758.7,948.3 759.1,948.1 759.5,941.9 759.9,941.2 760.3,914.1 760.7,941.2 761.1,940.4 761.5,921.8 761.9,894.5 762.3,901.5 762.7,859.0 763.1,853.6 763.5,886.2 763.9,932.5 764.3,908.6 764.7,910.8 765.1,918.3 765.5,943.7 765.9,951.9 766.3,942.7 766.7,956.7 767.1,951.4 767.5,974.8 767.9,983.9 768.3,974.8 768.7,981.5 769.1,965.9 769.5,977.6 769.9,993.6 770.3,971.4 770.7,991.2 771.1,989.6 771.5,987.2 771.9,987.7 772.3,995.1 772.7,1004.7 773.1,987.8 773.5,985.3 773.9,987.8 774.3,968.1 774.7,975.9 775.1,973.8 775.5,963.1 775.9,960.6 776.3,957.7 776.7,957.3 777.1,962.3 777.5,965.6 777.9,961.6 778.3,960.8 778.7,958.0 779.1,964.8 779.5,967.2 779.9,950.1 780.3,952.0 780.7,949.9 781.1,956.8 781.5,955.6 781.9,970.2 782.3,956.3 782.7,973.2 783.1,969.5 783.5,968.7 783.9,984.7 784.3,997.1 784.7,1000.3 785.1,1005.8 785.5,1003.6 785.9,1006.6 786.3,992.0 786.7,986.5 787.1,985.9 787.5,982.9 787.9,967.8 788.3,971.5 788.7,968.5 789.1,965.7 789.5,961.9 789.9,971.6 790.3,965.4 790.7,975.5 791.1,975.9 791.5,968.7 791.9,974.2 792.3,987.4 792.7,984.8 793.1,987.4 793.5,996.6 793.9,988.9 794.3,999.0 794.7,997.9 795.1,998.2 795.5,989.1 795.9,997.8 796.3,994.6 796.7,998.5 797.1,994.5 797.5,989.9 797.9,985.9 798.3,983.1 798.7,995.2 799.1,982.2 799.5,990.7 799.9,983.6 800.3,991.7 800.7,982.6 801.1,987.7 801.5,987.8 801.9,982.4 802.3,992.3 802.7,985.4 803.1,997.2 803.5,987.9 803.9,989.8 804.3,995.8 804.7,999.4 805.1,998.0 805.5,1000.7 805.9,999.3 806.3,997.0 806.7,999.9 807.1,999.4 807.5,993.7 807.9,983.8 808.3,991.5 808.7,993.1 809.1,983.2 809.5,982.3 809.9,986.3 810.3,985.0 810.7,975.1 811.1,981.6 811.5,969.5 811.9,976.4 812.3,980.9 812.7,974.6 813.1,971.9 813.5,981.8 813.9,982.7 814.3,985.6 814.7,974.3 815.1,978.6 815.5,974.5 815.9,992.3 816.3,988.9 816.7,990.9 817.1,995.4 817.5,981.0 817.9,983.8 818.3,990.5 818.7,987.7 819.1,991.8 819.5,995.3 819.9,994.7 820.3,1005.0 820.7,1016.5 821.1,1017.1 821.5,1014.9 821.9,1021.0 822.3,1021.0 822.7,1009.3 823.1,1016.6 823.5,1011.1 823.9,1011.6 824.3,1005.7 824.7,1003.8 825.1,998.3 825.5,988.4 825.9,992.5 826.3,982.2 826.7,977.4 827.1,964.7 827.5,970.2 827.9,961.8 828.3,953.0 828.7,938.2 829.1,937.8 829.5,951.1 829.9,946.3 830.3,954.6 830.7,948.3 831.1,967.6 831.5,957.2 831.9,967.9 832.3,957.8 832.7,962.6 833.1,950.8 833.5,963.7 833.9,955.5 834.3,957.0 834.7,964.7 835.1,960.7 835.5,962.4 835.9,959.8 836.3,947.5 836.7,942.8 837.1,941.9 837.5,957.4 837.9,955.7 838.3,937.7 838.7,936.2 839.1,948.8 839.5,932.9 839.9,935.9 840.3,949.5 840.7,950.2 841.1,945.9 841.5,941.1 841.9,955.2 842.3,970.8 842.7,963.0 843.1,972.4 843.5,971.0 843.9,960.1 844.3,971.7 844.7,973.9 845.1,971.1 845.5,960.3 845.9,976.0 846.3,974.1 846.7,975.1 847.1,964.6 847.5,970.4 847.9,983.7 848.3,987.0 848.7,987.2 849.1,978.1 849.5,991.0 849.9,986.0 850.3,985.9 850.7,982.1 851.1,978.0 851.5,989.0 851.9,975.3 852.3,977.0 852.7,965.4 853.1,970.2 853.5,984.0 853.9,958.4 854.3,976.0 854.7,957.3 855.1,970.7 855.5,962.7 855.9,968.5 856.3,966.3 856.7,952.2 857.1,952.6 857.5,964.8 857.9,932.4 858.3,955.5 858.7,936.6 859.1,921.4 859.5,932.6 859.9,927.2 860.3,919.3 860.7,913.3 861.1,919.5 861.5,924.7 861.9,917.0 862.3,919.5 862.7,944.1 863.1,945.2 863.5,948.7 863.9,941.9 864.3,960.2 864.7,984.0 865.1,978.0 865.5,995.6 865.9,993.7 866.3,982.6 866.7,974.2 867.1,974.9 867.5,987.1 867.9,973.1 868.3,969.0 868.7,977.8 869.1,947.8 869.5,967.7 869.9,947.2 870.3,951.4 870.7,955.6 871.1,958.0 871.5,940.3 871.9,953.3 872.3,946.3 872.7,957.0 873.1,954.3 873.5,952.6 873.9,941.7 874.3,944.1 874.7,928.2 875.1,936.8 875.5,932.7 875.9,942.9 876.3,940.8 876.7,948.8 877.1,947.1 877.5,956.8 877.9,954.7 878.3,958.5 878.7,978.4 879.1,962.2 879.5,959.6 879.9,961.0 880.3,972.2 880.7,980.1 881.1,970.4 881.5,979.5 881.9,969.8 882.3,976.8 882.7,966.6 883.1,970.5 883.5,976.8 883.9,972.7 884.3,968.4 884.7,972.1 885.1,975.3 885.5,977.2 885.9,969.4 886.3,960.0 886.7,978.6 887.1,968.5 887.5,953.8 887.9,943.1 888.3,947.4 888.7,938.0 889.1,959.5 889.5,937.8 889.9,956.8 890.3,942.0 890.7,930.1 891.1,936.7 891.5,913.1 891.9,932.6 892.3,909.8 892.7,908.3 893.1,917.4 893.5,912.3 893.9,925.6 894.3,935.7 894.7,909.2 895.1,952.8 895.5,953.4 895.9,929.0 896.3,951.9 896.7,954.0 897.1,932.5 897.5,942.0 897.9,927.1 898.3,921.9 898.7,916.5 899.1,919.4 899.5,917.2 899.9,922.4 900.3,919.6 900.7,920.5 901.1,910.3 901.5,920.6 901.9,953.9 902.3,943.0 902.7,941.7 903.1,958.0 903.5,972.1 903.9,979.3 904.3,990.1 904.7,979.0 905.1,991.2 905.5,977.3 905.9,976.5 906.3,976.9 906.7,993.0 907.1,990.3 907.5,993.2 907.9,992.7 908.3,1003.4 908.7,996.3 909.1,995.0 909.5,997.1 909.9,1005.1 910.3,1012.5 910.7,1016.6 911.1,1009.8 911.5,1016.7 911.9,1004.8 912.3,968.1 912.7,945.0 913.1,949.7 913.5,949.0 913.9,956.6 914.3,981.7 914.7,990.0 915.1,977.8 915.5,973.0 915.9,947.3 916.3,934.4 916.7,924.5 917.1,904.0 917.5,921.5 917.9,889.9 918.3,885.5 918.7,889.6 919.1,910.7 919.5,923.7 919.9,915.3 920.3,889.8 920.7,891.0 921.1,900.9 921.5,908.2 921.9,936.5 922.3,953.0 922.7,955.7 923.1,927.5 923.5,942.5 923.9,905.0 924.3,934.5 924.7,924.6 925.1,948.6 925.5,911.4 925.9,903.9 926.3,931.2 926.7,940.3 927.1,912.3 927.5,937.4 927.9,946.5 928.3,952.2 928.7,967.3 929.1,963.9 929.5,936.0 929.9,958.8 930.3,929.1 930.7,924.8 931.1,929.8 931.5,940.5 931.9,938.3 932.3,933.4 932.7,932.1 933.1,944.3 933.5,957.3 933.9,969.7 934.3,969.0 934.7,960.0 935.1,961.4 935.5,953.5 935.9,947.2 936.3,942.6 936.7,952.0 937.1,940.8 937.5,941.3 937.9,949.0 938.3,953.5 938.7,948.4 939.1,948.2 939.5,969.0 939.9,963.8 940.3,957.5 940.7,972.1 941.1,983.3 941.5,975.9 941.9,977.0 942.3,991.7 942.7,978.1 943.1,972.0 943.5,967.2 943.9,972.5 944.3,974.6 944.7,965.2 945.1,971.0 945.5,955.7 945.9,959.9 946.3,955.1 946.7,965.4 947.1,968.9 947.5,971.2 947.9,977.3 948.3,975.6 948.7,980.6 949.1,979.6 949.5,976.4 949.9,972.3 950.3,988.3 950.7,982.9 951.1,986.4 951.5,985.8 951.9,995.2 952.3,988.8 952.7,998.0 953.1,1007.5 953.5,1011.5 953.9,1006.3 954.3,1004.5 954.7,1003.4 955.1,1008.1 955.5,1012.7 955.9,1004.3 956.3,1016.7 956.7,1013.0 957.1,1008.2 957.5,1014.2 957.9,1007.3 958.3,1015.8 958.7,988.3 959.1,981.8 959.5,977.6 959.9,972.1 960.3,971.3 960.7,960.5 961.1,963.0 961.5,971.7 961.9,962.0 962.3,956.0 962.7,958.0 963.1,957.3 963.5,956.0 963.9,953.6 964.3,967.4 964.7,962.9 965.1,964.5 965.5,969.9 965.9,966.5 966.3,973.0 966.7,974.8 967.1,975.5 967.5,980.2 967.9,965.0 968.3,963.6 968.7,956.4 969.1,967.5 969.5,965.5 969.9,965.5 970.3,963.7 970.7,967.4 971.1,970.4 971.5,973.8 971.9,988.5 972.3,994.0 972.7,989.2 973.1,985.8 973.5,980.2 973.9,984.4 974.3,988.7 974.7,985.0 975.1,982.3 975.5,983.1 975.9,974.8 976.3,974.2 976.7,972.0 977.1,977.3 977.5,989.9 977.9,990.8 978.3,986.7 978.7,993.4 979.1,998.5 979.5,1006.1 979.9,997.3 980.3,1006.7 980.7,1003.4 981.1,1020.1 981.5,1006.0 981.9,998.7 982.3,994.2 982.7,995.5 983.1,990.9 983.5,985.4 983.9,974.4 984.3,976.6 984.7,971.6 985.1,969.7 985.5,977.6 985.9,982.0 986.3,972.6 986.7,981.0 987.1,971.7 987.5,979.0 987.9,981.0 988.3,976.6 988.7,983.7 989.1,982.1 989.5,988.4 989.9,993.7 990.3,996.1 990.7,989.4 991.1,992.9 991.5,987.6 991.9,987.0 992.3,994.3 992.7,981.5 993.1,994.5 993.5,987.7 993.9,980.3 994.3,983.4 994.7,981.5 995.1,966.4 995.5,977.2 995.9,976.3 996.3,977.6 996.7,967.9 997.1,975.5 997.5,967.9 997.9,975.3 998.3,978.4 998.7,984.1 999.1,982.0 999.5,982.0 999.9,992.0 1000.3,985.1 1000.7,994.1 1001.1,994.4 1001.5,993.5 1001.9,998.4 1002.3,988.7 1002.7,992.6 1003.1,990.6 1003.5,994.8 1003.9,988.4 1004.3,976.3 1004.7,985.3 1005.1,975.8 1005.5,971.6 1005.9,975.7 1006.3,981.2 1006.7,969.0 1007.1,971.5 1007.5,972.4 1007.9,977.6 1008.3,979.4 1008.7,976.5 1009.1,970.0 1009.5,971.8 1009.9,973.5 1010.3,985.7 1010.7,968.4 1011.1,979.3 1011.5,985.2 1011.9,979.1 1012.3,985.4 1012.7,984.7 1013.1,988.1 1013.5,987.3 1013.9,988.4 1014.3,988.0 1014.7,973.4 1015.1,988.2 1015.5,987.1 1015.9,973.0 1016.3,975.6 1016.7,983.2 1017.1,975.0 1017.5,970.8 1017.9,960.6 1018.3,973.4 1018.7,963.1 1019.1,968.9 1019.5,956.1 1019.9,964.8 1020.3,965.7 1020.7,969.6 1021.1,972.2 1021.5,965.5 1021.9,975.8 1022.3,968.9 1022.7,979.9 1023.1,982.3 1023.5,983.8 1023.9,984.7 1024.3,979.6 1024.7,990.9 1025.1,970.8 1025.5,968.6 1025.9,971.8 1026.3,970.5 1026.7,966.7 1027.1,970.2 1027.5,978.1 1027.9,975.8 1028.3,957.0 1028.7,965.4 1029.1,967.6 1029.5,969.8 1029.9,958.3 1030.3,965.3 1030.7,959.2 1031.1,967.6 1031.5,957.6 1031.9,970.6 1032.3,964.2 1032.7,956.3 1033.1,976.4 1033.5,954.2 1033.9,953.2 1034.3,972.0 1034.7,959.9 1035.1,976.3 1035.5,965.3 1035.9,963.1 1036.3,974.7 1036.7,977.4 1037.1,968.8 1037.5,954.8 1037.9,944.9 1038.3,940.5 1038.7,963.7 1039.1,952.4 1039.5,936.7 1039.9,938.5 1040.3,941.4 1040.7,941.1 1041.1,953.5 1041.5,937.3 1041.9,955.7 1042.3,951.9 1042.7,956.3 1043.1,963.3 1043.5,962.4 1043.9,973.7 1044.3,975.0 1044.7,982.4 1045.1,972.0 1045.5,992.0 1045.9,996.1 1046.3,991.9 1046.7,1003.4 1047.1,992.5 1047.5,997.6 1047.9,1002.0 1048.3,1002.7 1048.7,1003.1 1049.1,1000.1 1049.5,1006.6 1049.9,1000.3 1050.3,1002.4 1050.7,1006.5 1051.1,997.2 1051.5,996.7 1051.9,999.4 1052.3,985.2 1052.7,994.9 1053.1,988.2 1053.5,983.7 1053.9,964.4 1054.3,967.0 1054.7,956.4 1055.1,959.7 1055.5,955.5 1055.9,952.6 1056.3,972.0 1056.7,966.9 1057.1,969.0 1057.5,967.1 1057.9,976.5 1058.3,978.5 1058.7,982.5 1059.1,995.1 1059.5,981.1 1059.9,990.6 1060.3,982.1 1060.7,963.2 1061.1,978.7 1061.5,967.5 1061.9,965.2 1062.3,953.6 1062.7,962.2 1063.1,970.5 1063.5,968.0 1063.9,970.7 1064.3,967.4 1064.7,956.8 1065.1,960.3 1065.5,959.8 1065.9,947.4 1066.3,955.5 1066.7,953.3 1067.1,939.2 1067.5,942.2 1067.9,941.5 1068.3,955.0 1068.7,946.4 1069.1,942.3 1069.5,961.7 1069.9,960.2 1070.3,939.5 1070.7,953.9 1071.1,929.7 1071.5,949.8 1071.9,918.5 1072.3,945.9 1072.7,926.5 1073.1,905.3 1073.5,908.8 1073.9,931.3 1074.3,925.0 1074.7,932.9 1075.1,930.3 1075.5,880.3 1075.9,919.7 1076.3,917.0 1076.7,884.7 1077.1,859.8 1077.5,919.5 1077.9,874.2 1078.3,858.4 1078.7,916.0 1079.1,877.3 1079.5,853.6 1079.9,908.3 1080.3,887.1 1080.7,877.1 1081.1,836.4 1081.5,867.7 1081.9,907.0 1082.3,835.2 1082.7,822.0 1083.1,860.1 1083.5,842.4 1083.9,854.8 1084.3,885.6 1084.7,888.5 1085.1,895.1 1085.5,860.3 1085.9,864.1 1086.3,897.9 1086.7,894.3 1087.1,862.3 1087.5,876.3 1087.9,875.1 1088.3,842.5 1088.7,848.5 1089.1,900.6 1089.5,882.5 1089.9,883.6 1090.3,855.3 1090.7,868.5 1091.1,854.2 1091.5,866.9 1091.9,838.2 1092.3,899.5 1092.7,865.2 1093.1,863.9 1093.5,857.0 1093.9,882.4 1094.3,891.9 1094.7,883.1 1095.1,900.7 1095.5,872.5 1095.9,881.6 1096.3,879.5 1096.7,925.9 1097.1,913.3 1097.5,932.5 1097.9,929.6 1098.3,908.5 1098.7,896.1 1099.1,890.6 1099.5,887.6 1099.9,942.2 1100.3,935.7 1100.7,905.0 1101.1,930.9 1101.5,934.7 1101.9,898.1 1102.3,910.5 1102.7,909.1 1103.1,937.4 1103.5,914.6 1103.9,923.5 1104.3,921.6 1104.7,943.2 1105.1,918.3 1105.5,927.5 1105.9,948.7 1106.3,920.3 1106.7,909.9 1107.1,919.4 1107.5,930.0 1107.9,945.1 1108.3,921.1 1108.7,941.3 1109.1,919.9 1109.5,915.3 1109.9,943.1 1110.3,930.0 1110.7,906.4 1111.1,902.8 1111.5,918.0 1111.9,933.5 1112.3,929.0 1112.7,930.6 1113.1,899.9 1113.5,931.9 1113.9,928.9 1114.3,929.2 1114.7,942.7 1115.1,934.5 1115.5,940.5 1115.9,966.8 1116.3,951.3 1116.7,962.5 1117.1,979.2 1117.5,965.9 1117.9,970.3 1118.3,972.5 1118.7,987.4 1119.1,975.0 1119.5,976.9 1119.9,972.5 1120.3,984.4 1120.7,980.9 1121.1,955.7 1121.5,960.7 1121.9,947.9 1122.3,947.7 1122.7,940.4 1123.1,954.8 1123.5,956.6 1123.9,954.4 1124.3,958.8 1124.7,951.1 1125.1,952.8 1125.5,953.0 1125.9,970.6 1126.3,972.8 1126.7,969.7 1127.1,976.4 1127.5,982.5 1127.9,986.8 1128.3,991.3 1128.7,989.0 1129.1,993.8 1129.5,983.6 1129.9,984.1 1130.3,980.8 1130.7,991.9 1131.1,984.7 1131.5,989.9 1131.9,981.0 1132.3,984.0 1132.7,975.3 1133.1,987.4 1133.5,986.2 1133.9,986.2 1134.3,985.2 1134.7,988.9 1135.1,990.8 1135.5,977.0 1135.9,981.9 1136.3,990.1 1136.7,978.3 1137.1,992.1 1137.5,988.5 1137.9,982.0 1138.3,982.8 1138.7,983.2 1139.1,984.4 1139.5,985.8 1139.9,983.2 1140.3,971.0 1140.7,976.6 1141.1,985.7 1141.5,986.6 1141.9,978.3 1142.3,972.0 1142.7,974.9 1143.1,967.2 1143.5,981.9 1143.9,963.8 1144.3,964.4 1144.7,964.7 1145.1,981.6 1145.5,966.3 1145.9,981.2 1146.3,981.3 1146.7,976.6 1147.1,963.8 1147.5,979.3 1147.9,969.1 1148.3,965.2 1148.7,974.5 1149.1,969.7 1149.5,971.0 1149.9,963.6 1150.3,965.9 1150.7,973.4 1151.1,969.3 1151.5,977.1 1151.9,969.8 1152.3,964.8 1152.7,970.3 1153.1,971.5 1153.5,956.7 1153.9,958.0 1154.3,958.1 1154.7,974.2 1155.1,966.5 1155.5,962.6 1155.9,961.8 1156.3,971.6 1156.7,975.2 1157.1,957.4 1157.5,955.1 1157.9,972.9 1158.3,969.0 1158.7,969.6 1159.1,971.8 1159.5,957.5 1159.9,967.2 1160.3,968.2 1160.7,962.9 1161.1,970.6 1161.5,960.1 1161.9,969.3 1162.3,956.6 1162.7,960.0 1163.1,971.2 1163.5,978.6 1163.9,978.7 1164.3,966.8 1164.7,978.3 1165.1,975.2 1165.5,981.5 1165.9,963.8 1166.3,969.2 1166.7,969.3 1167.1,982.5 1167.5,969.8 1167.9,982.4 1168.3,964.7 1168.7,963.6 1169.1,968.9 1169.5,963.2 1169.9,978.0 1170.3,979.1 1170.7,966.3 1171.1,971.8 1171.5,965.5 1171.9,967.9 1172.3,982.7 1172.7,973.1 1173.1,973.5 1173.5,987.2 1173.9,979.1 1174.3,976.5 1174.7,982.5 1175.1,990.1 1175.5,976.5 1175.9,979.2 1176.3,981.9 1176.7,981.0 1177.1,980.6 1177.5,985.8 1177.9,981.0 1178.3,982.7 1178.7,986.2 1179.1,967.4 1179.5,981.8 1179.9,980.5 1180.3,976.0 1180.7,976.3 1181.1,964.3 1181.5,977.8 1181.9,968.3 1182.3,984.7 1182.7,977.7 1183.1,973.7 1183.5,972.7 1183.9,977.5 1184.3,983.8 1184.7,986.4 1185.1,982.3 1185.5,989.9 1185.9,984.3 1186.3,984.1 1186.7,982.7 1187.1,973.2 1187.5,970.8 1187.9,985.1 1188.3,983.0 1188.7,982.6 1189.1,984.7 1189.5,974.4 1189.9,986.2 1190.3,971.6 1190.7,972.4 1191.1,988.3 1191.5,989.9 1191.9,980.1 1192.3,983.0 1192.7,988.8 1193.1,976.3 1193.5,977.5 1193.9,993.7 1194.3,981.3 1194.7,978.1 1195.1,980.0 1195.5,979.5 1195.9,992.1 1196.3,992.3 1196.7,976.1 1197.1,989.7 1197.5,975.6 1197.9,990.6 1198.3,986.6 1198.7,976.9 1199.1,987.9 1199.5,984.8 1199.9,988.9 1200.3,982.5 1200.7,988.4 1201.1,990.6 1201.5,989.8 1201.9,986.6 1202.3,990.2 1202.7,977.8 1203.1,983.1 1203.5,975.9 1203.9,982.1 1204.3,975.2 1204.7,985.0 1205.1,981.3 1205.5,971.2 1205.9,981.1 1206.3,981.0 1206.7,985.4 1207.1,986.5 1207.5,974.8 1207.9,977.3 1208.3,978.3 1208.7,967.7 1209.1,975.9 1209.5,979.6 1209.9,982.8 1210.3,979.9 1210.7,983.7 1211.1,975.2 1211.5,975.1 1211.9,976.2 1212.3,976.2 1212.7,970.1 1213.1,962.1 1213.5,970.0 1213.9,960.0 1214.3,968.3 1214.7,974.7 1215.1,965.0 1215.5,965.3 1215.9,974.1 1216.3,976.3 1216.7,982.8 1217.1,980.1 1217.5,982.5 1217.9,987.1 1218.3,979.0 1218.7,981.4 1219.1,986.7 1219.5,988.1 1219.9,983.4 1220.3,979.3 1220.7,967.0 1221.1,985.0 1221.5,979.3 1221.9,976.5 1222.3,968.3 1222.7,965.2 1223.1,979.2 1223.5,971.5 1223.9,959.4 1224.3,953.4 1224.7,960.2 1225.1,957.9 1225.5,931.7 1225.9,925.8 1226.3,949.2 1226.7,921.2 1227.1,921.1 1227.5,924.5 1227.9,928.2 1228.3,937.2 1228.7,919.1 1229.1,899.3 1229.5,941.0 1229.9,893.9 1230.3,902.6 1230.7,942.5 1231.1,925.0 1231.5,879.7 1231.9,900.9 1232.3,892.6 1232.7,871.1 1233.1,897.7 1233.5,882.8 1233.9,866.8 1234.3,844.1 1234.7,902.4 1235.1,886.5 1235.5,896.8 1235.9,881.6 1236.3,873.0 1236.7,892.1 1237.1,922.3 1237.5,927.0 1237.9,936.8 1238.3,888.5 1238.7,914.2 1239.1,902.6 1239.5,930.3 1239.9,910.5 1240.3,885.4 1240.7,916.7 1241.1,918.5 1241.5,909.2 1241.9,934.3 1242.3,884.8 1242.7,912.9 1243.1,910.8 1243.5,911.6 1243.9,913.6 1244.3,889.8 1244.7,872.3 1245.1,893.0 1245.5,879.1 1245.9,889.8 1246.3,925.7 1246.7,912.3 1247.1,908.1 1247.5,904.6 1247.9,951.9 1248.3,923.8 1248.7,963.1 1249.1,940.3 1249.5,930.8 1249.9,931.2 1250.3,972.7 1250.7,953.5 1251.1,969.9 1251.5,992.7 1251.9,971.6 1252.3,933.2 1252.7,900.5 1253.1,847.4 1253.5,893.4 1253.9,850.7 1254.3,848.3 1254.7,835.2 1255.1,875.3 1255.5,897.9 1255.9,893.1 1256.3,872.5 1256.7,848.5 1257.1,914.3 1257.5,891.2 1257.9,845.8 1258.3,781.2 1258.7,772.6 1259.1,742.8 1259.5,772.0 1259.9,805.7 1260.3,866.3 1260.7,865.1 1261.1,843.9 1261.5,854.9 1261.9,853.0 1262.3,879.8 1262.7,856.1 1263.1,935.7 1263.5,883.5 1263.9,889.8 1264.3,913.8 1264.7,893.2 1265.1,825.0 1265.5,846.9 1265.9,817.1 1266.3,827.2 1266.7,863.3 1267.1,887.2 1267.5,850.7 1267.9,868.5 1268.3,889.3 1268.7,832.9 1269.1,838.6 1269.5,840.7 1269.9,842.2 1270.3,797.6 1270.7,853.2 1271.1,819.6 1271.5,861.2 1271.9,852.1 1272.3,885.8 1272.7,898.7 1273.1,823.5 1273.5,902.5 1273.9,874.7 1274.3,852.6 1274.7,794.6 1275.1,803.0 1275.5,795.8 1275.9,797.3 1276.3,781.5 1276.7,753.6 1277.1,749.6 1277.5,746.2 1277.9,787.8 1278.3,773.0 1278.7,848.6 1279.1,862.1 1279.5,804.6 1279.9,863.2 1280.3,811.8 1280.7,803.3 1281.1,816.9 1281.5,780.0 1281.9,771.3 1282.3,823.3 1282.7,762.7 1283.1,767.8 1283.5,754.1 1283.9,804.3 1284.3,743.0 1284.7,738.3 1285.1,746.9 1285.5,733.1 1285.9,758.6 1286.3,772.6 1286.7,756.1 1287.1,733.6 1287.5,795.2 1287.9,775.6 1288.3,758.5 1288.7,817.8 1289.1,774.3 1289.5,752.0 1289.9,808.0 1290.3,760.5 1290.7,814.5 1291.1,846.6 1291.5,805.6 1291.9,850.4 1292.3,846.1 1292.7,793.7 1293.1,761.1 1293.5,790.0 1293.9,819.5 1294.3,821.3 1294.7,768.6 1295.1,791.3 1295.5,809.2 1295.9,858.7 1296.3,803.7 1296.7,878.6 1297.1,888.4 1297.5,858.3 1297.9,886.2 1298.3,888.4 1298.7,893.6 1299.1,890.4 1299.5,901.2 1299.9,905.5 1300.3,919.5 1300.7,914.6 1301.1,926.6 1301.5,910.3 1301.9,936.0 1302.3,940.3 1302.7,924.4 1303.1,931.1 1303.5,944.9 1303.9,960.8 1304.3,942.6 1304.7,935.3 1305.1,959.8 1305.5,960.1 1305.9,926.2 1306.3,958.7 1306.7,929.5 1307.1,927.2 1307.5,938.0 1307.9,916.5 1308.3,919.2 1308.7,922.6 1309.1,938.7 1309.5,925.8 1309.9,928.5 1310.3,949.3 1310.7,942.6 1311.1,921.5 1311.5,930.7 1311.9,955.7 1312.3,950.8 1312.7,948.3 1313.1,933.3 1313.5,939.1 1313.9,955.5 1314.3,951.5 1314.7,943.8 1315.1,967.1 1315.5,970.5 1315.9,969.2 1316.3,977.1 1316.7,952.2 1317.1,954.5 1317.5,972.0 1317.9,969.6 1318.3,978.1 1318.7,967.0 1319.1,973.9 1319.5,964.2 1319.9,980.2 1320.3,967.7 1320.7,963.2 1321.1,974.7 1321.5,981.0 1321.9,968.2 1322.3,971.4 1322.7,979.4 1323.1,978.2 1323.5,982.4 1323.9,968.1 1324.3,976.5 1324.7,973.0 1325.1,972.7 1325.5,969.2 1325.9,970.5 1326.3,972.7 1326.7,986.5 1327.1,975.7 1327.5,987.8 1327.9,978.0 1328.3,988.3 1328.7,986.1 1329.1,984.3 1329.5,971.7 1329.9,981.9 1330.3,982.3 1330.7,975.6 1331.1,979.3 1331.5,983.2 1331.9,972.0 1332.3,962.8 1332.7,977.8 1333.1,972.6 1333.5,975.2 1333.9,977.5 1334.3,963.1 1334.7,974.3 1335.1,976.3 1335.5,971.3 1335.9,976.8 1336.3,972.4 1336.7,977.3 1337.1,981.8 1337.5,970.2 1337.9,972.1 1338.3,968.0 1338.7,976.7 1339.1,974.2 1339.5,969.7 1339.9,977.8 1340.3,974.1 1340.7,980.8 1341.1,964.0 1341.5,979.2 1341.9,985.8 1342.3,973.0 1342.7,980.4 1343.1,981.3 1343.5,987.6 1343.9,974.3 1344.3,977.0 1344.7,972.6 1345.1,975.2 1345.5,983.1 1345.9,974.5 1346.3,984.8 1346.7,982.6 1347.1,982.7 1347.5,978.7 1347.9,980.3 1348.3,983.8 1348.7,977.4" fill="none" stroke="#231f20" stroke-width="1.6" stroke-linejoin="round" marker-start="url(#mSc)" marker-mid="url(#mSc)" marker-end="url(#mSc)"/>
<path d="M1286.2 711V748M1259.2 772V800" stroke="#231f20" stroke-width="1.3" fill="none"/>
<polyline points="264.3,484.4 270.3,444.3 276.5,430.6 282.6,392.0 289.0,485.9 295.1,477.9 298.3,480.5 299.8,481.6 299.1,484.8 298.3,489.1 300.4,567.5 301.7,582.4 301.6,585.4 303.9,588.9 302.6,601.1 304.5,603.6 306.9,608.5 310.1,594.5 311.2,594.9 314.7,592.7 317.5,592.4 319.4,593.6 320.4,591.6 321.8,587.1 325.0,598.3 327.9,601.0 328.7,602.0 331.5,592.7 333.1,596.4 335.3,600.1 337.1,609.5 340.9,599.2 342.7,600.4 343.7,603.9 345.7,607.0 347.4,611.3 350.2,598.3 353.1,599.9 353.9,603.9 354.9,588.9 355.8,586.2 355.8,581.5 357.3,563.7 358.6,553.5 361.4,570.3 362.1,575.0 364.2,577.7 365.1,557.2 367.6,535.7 369.8,549.7 371.7,565.6 375.4,540.4 377.3,562.8 381.0,552.5 381.9,579.6 383.4,583.0 382.9,588.9 387.2,574.9 390.3,584.3 392.2,600.1 395.1,595.6 396.9,593.6 398.7,605.7 401.1,607.4 403.4,609.5 405.0,609.9 408.1,611.3 409.9,598.3 412.7,588.9 414.6,565.6 416.3,562.8 416.5,560.9 418.3,549.7 419.6,504.6 421.1,452.7 422.6,426.9 424.5,414.4 426.4,439.6 427.7,484.4 429.5,502.1 430.5,569.3 431.6,573.1 434.6,575.9 435.7,550.7 437.0,540.4 439.4,515.2 441.1,532.6 441.7,555.3 446.3,546.0 448.1,551.0 450.1,554.4 450.8,549.7 452.9,546.0 455.7,532.0 457.5,546.0 460.3,547.9 462.2,523.6 464.8,522.7 465.9,521.7 468.7,524.5 470.0,510.5 471.3,514.0 472.5,518.9 473.4,498.4 474.9,441.5 477.1,462.0 479.9,437.7 481.8,406.0 483.7,426.5 485.5,456.4 486.8,482.9 488.0,563.7 487.8,560.7 490.2,555.3 491.1,572.1 491.0,576.8 493.0,579.6 494.9,555.3 495.5,553.7 496.7,549.7 498.6,538.5 499.7,535.9 501.4,531.1 503.3,542.3 504.3,543.5 505.1,546.0 506.6,532.0 507.9,514.3 509.8,512.9 510.4,510.5 511.1,485.3 512.3,487.6 512.6,490.0 514.5,463.9 516.3,514.3 517.8,548.8 519.1,580.5 522.9,592.7 520.7,595.4 520.1,597.3 520.9,600.6 523.8,602.9 524.8,599.3 525.0,596.4 528.7,608.5 528.6,611.9 526.9,616.9 532.5,584.3 534.3,596.4 537.3,595.8 540.9,593.6 539.0,615.1 543.7,602.0 545.2,605.8 547.4,608.5 550.2,619.7 552.8,618.5 554.9,615.1 559.5,605.7 562.7,610.0 563.3,613.2 565.9,614.2 567.0,616.9 568.7,615.0 569.2,611.3 570.0,615.2 571.3,618.8 571.7,587.1 573.0,586.4 574.5,583.3 575.0,506.8 575.7,508.4 577.3,510.5 579.1,468.5 580.6,466.7 581.9,493.7 583.8,530.1 585.7,529.2 586.6,556.3 586.2,553.7 588.5,551.6 589.4,588.9 591.1,591.9 592.2,592.7 592.6,607.6 595.9,592.7 598.9,591.3 599.7,590.8 601.4,594.7 600.6,600.1 602.8,595.5 603.4,592.7 605.3,609.5 608.1,612.3 609.2,607.9 610.9,605.7 612.3,603.3 611.8,599.2 613.7,555.3 616.1,558.1 616.8,505.9 617.6,507.8 620.2,509.6 620.5,506.8 622.1,504.0 623.6,536.7 624.9,571.2 625.8,606.7 629.5,607.6 630.6,609.4 631.4,613.2 634.2,608.9 635.1,605.7 636.4,607.4 637.9,611.3 640.7,614.1 641.3,611.0 644.5,609.5 646.3,596.4 647.3,600.8 649.1,602.9 651.9,592.7 654.3,589.8 654.7,587.1 656.6,577.7 659.8,567.5 661.3,570.2 663.1,572.1 664.1,613.2 666.4,615.6 666.9,618.8 667.8,631.9 670.4,629.7 671.5,628.1 672.5,611.3 674.6,614.3 676.2,616.0 677.1,601.1 678.1,598.3 679.0,594.5 680.5,561.9 681.5,556.8 681.4,554.4 681.3,549.3 683.7,546.0 684.3,542.4 686.5,540.4 685.9,530.7 689.3,504.0 689.5,505.1 692.1,507.7 693.6,492.2 694.9,497.3 695.8,500.3 699.5,500.3 700.5,580.5 701.5,583.5 703.3,587.1 704.2,597.3 704.9,601.5 706.1,604.8 708.2,610.1 708.9,613.2 709.5,617.9 710.7,621.6 713.5,611.3 714.5,610.3 716.3,607.6 717.3,594.5 719.1,572.1 719.2,570.3 720.6,566.5 721.9,550.7 721.0,540.4 722.9,512.4 726.6,501.2 728.1,436.2 729.4,517.1 730.3,564.7 732.2,582.4 733.1,572.1 734.1,555.3 734.8,551.3 735.6,546.0 736.9,532.0 739.3,519.9 740.6,507.7 742.6,503.1 744.3,499.3 741.5,482.9 746.2,491.9 742.5,456.8 745.3,452.6 748.1,450.8 750.9,467.2 752.7,484.4 753.7,516.1 754.6,554.4 755.5,566.5 758.3,552.5 758.3,548.4 760.6,544.1 762.1,560.9 763.9,559.9 765.8,557.2 765.8,581.5 766.4,577.9 769.5,574.0 773.3,583.3 777.9,571.2 777.0,585.2 778.8,589.7 780.7,593.6 781.7,603.9 783.5,613.2 785.4,623.5 787.4,625.9 788.2,628.1 789.8,630.4 791.0,632.8 793.2,628.9 794.7,626.3 795.0,628.1 797.9,629.5 800.6,630.0 802.1,628.5 805.3,624.4 808.1,643.1 810.9,616.0 813.4,614.9 814.6,611.3 816.5,630.0 819.3,601.1 820.6,599.5 823.0,598.3 825.8,611.3 827.7,594.5 829.5,592.7 829.9,561.9 830.5,564.0 832.3,568.4 832.5,570.1 835.1,573.1 836.7,576.4 836.4,581.5 838.3,569.3 840.7,579.6 842.6,583.1 843.5,588.0 845.4,597.3 845.4,598.9 847.6,602.0 849.0,605.3 849.5,608.5 850.2,612.6 850.6,616.9 851.6,613.6 853.8,610.4 855.8,611.5 855.7,614.1 857.2,593.6 858.5,561.9 859.8,480.7 861.4,483.8 861.8,488.1 862.6,550.7 864.1,602.0 866.9,612.3 868.7,598.3 868.4,593.6 869.7,589.9 870.6,561.9 871.5,540.4 873.4,531.1 874.9,510.2 876.8,508.3 877.5,530.7 879.0,573.1 879.9,601.1 881.2,611.3 881.9,608.7 884.6,603.9 885.9,589.9 886.8,566.5 888.3,547.9 889.8,526.4 891.1,492.8 892.6,492.9 894.9,494.7 897.3,473.2 898.6,484.4 899.5,563.7 900.8,602.0 900.8,603.7 903.3,607.6 904.8,617.9 905.1,613.5 907.0,609.5 909.2,619.7 910.2,580.9 911.1,563.7 913.0,551.6 914.7,550.1 916.0,546.0 916.3,525.5 918.6,514.8 920.4,531.1 921.9,546.6 922.9,556.8 924.4,593.6 925.3,626.3 928.4,629.3 929.4,633.7 932.2,624.4 934.8,626.4 936.9,626.3 937.2,623.9 939.7,619.7 942.5,610.4 944.1,614.4 946.2,616.9 949.0,603.9 950.4,603.3 952.7,602.0 955.2,618.8 957.4,621.6 960.2,606.7 963.0,609.5 964.9,593.2 966.7,603.9 969.5,619.7 971.4,614.5 973.3,611.3 975.8,615.9 977.0,618.8 977.9,614.3 978.9,610.4 981.7,623.5 985.4,614.1 989.4,616.6 991.0,619.7 995.7,628.1 999.0,629.8 1000.3,631.9 1002.3,632.9 1005.0,634.7 1005.7,629.9 1008.7,626.3 1009.9,621.9 1012.5,619.7 1016.2,610.4 1017.7,607.0 1019.0,603.9 1021.8,594.5 1022.2,596.0 1025.0,599.2 1026.5,612.3 1029.9,610.8 1031.1,611.3 1031.7,615.8 1033.0,617.9 1035.8,604.8 1037.7,583.3 1038.7,579.6 1041.8,576.2 1043.3,605.7 1047.0,615.1 1049.8,600.1 1052.4,602.6 1053.5,607.6 1053.8,606.9 1056.3,603.9 1058.7,601.8 1060.1,601.1 1061.0,583.3 1062.3,579.4 1063.8,576.8 1065.0,578.7 1068.7,600.1 1071.5,576.8 1072.5,514.3 1076.6,499.3 1078.4,510.5 1079.6,550.7 1081.8,553.5 1082.7,583.3 1085.5,573.1 1086.5,592.7 1090.3,594.3 1092.1,593.6 1089.3,604.8 1090.0,609.1 1093.0,613.2 1094.5,610.2 1097.7,607.6 1096.7,618.8 1100.6,621.7 1103.3,623.5 1105.1,614.1 1106.7,617.4 1109.8,621.6 1111.5,622.2 1113.5,623.5 1116.3,610.4 1118.7,606.9 1120.1,602.0 1121.5,600.9 1123.8,600.1 1124.1,604.0 1126.6,608.5 1129.6,606.7 1130.3,604.8 1133.1,622.5 1135.9,609.5 1138.4,606.5 1140.6,602.9 1144.3,619.7 1146.6,629.1 1149.0,616.9 1151.8,607.6 1152.9,604.2 1153.7,599.2 1154.9,595.5 1157.4,592.7 1160.3,593.6 1161.1,594.5 1163.5,597.8 1163.6,602.9 1165.8,613.2 1168.9,615.0 1170.5,616.9 1173.3,614.1 1176.1,626.3 1179.2,627.2 1179.9,632.4 1180.7,635.6 1181.6,638.0 1184.5,640.3 1178.5,653.3 1180.8,651.5 1184.5,650.5 1187.2,654.5 1188.2,658.9 1191.7,655.8 1193.8,655.2 1197.9,655.5 1199.4,653.3 1202.2,650.7 1204.1,649.6 1204.9,644.1 1205.0,640.3 1208.4,630.9 1209.6,626.5 1211.5,624.4 1212.5,614.1 1215.8,604.8 1217.1,621.6 1218.3,624.0 1221.8,628.1 1222.7,572.1 1224.0,557.2 1224.9,554.8 1227.4,550.7 1226.5,547.8 1227.0,543.2 1230.2,533.9 1231.1,510.9 1231.7,510.5 1234.9,512.4 1235.1,515.9 1237.7,517.1 1239.9,517.7 1240.5,520.8 1242.5,524.3 1242.3,529.2 1243.3,552.5 1244.5,550.4 1247.0,547.9 1248.9,530.1 1249.4,517.4 1251.6,520.4 1255.4,520.8 1254.5,539.5 1253.9,562.8 1256.3,497.5 1257.9,500.5 1260.1,503.1 1260.6,448.9 1262.9,449.9 1264.7,471.3 1265.7,501.2 1268.5,499.3 1268.5,462.0 1270.5,460.5 1272.2,460.1 1274.1,469.5 1275.9,451.7 1278.7,478.8 1279.7,458.3 1280.6,432.1 1284.3,458.3 1285.9,461.4 1286.2,462.0 1287.7,420.0 1290.9,435.9 1289.9,460.1 1292.7,472.3 1293.9,474.9 1294.6,479.7 1296.1,484.4 1295.9,488.1 1298.0,498.4 1296.8,510.5 1299.8,546.9 1300.9,551.5 1302.1,555.3 1302.4,558.6 1303.9,562.8 1305.4,564.0 1306.7,567.5 1307.7,567.5 1309.2,588.9 1311.0,591.4 1312.4,595.5 1311.5,609.5 1312.7,608.2 1315.2,604.8 1314.3,617.9 1319.9,607.6 1321.7,626.3 1324.3,626.1 1326.4,627.2 1328.8,625.7 1330.1,621.6 1331.1,598.3 1333.5,596.2 1333.9,592.7 1335.3,591.9 1337.6,590.8 1339.5,601.1 1341.1,604.2 1342.3,609.5 1345.1,618.8 1347.4,619.8 1348.8,620.7 1350.7,618.5 1352.5,615.1 1353.5,602.9 1353.3,599.9 1355.3,598.3 1356.3,581.5 1359.1,567.5 1362.7,566.5 1363.7,566.5 1364.5,562.6 1366.5,560.9 1368.4,572.1 1366.5,575.6 1365.6,578.7 1367.0,581.4 1370.8,585.2" fill="none" stroke="#231f20" stroke-width="2.2" stroke-linejoin="round" marker-start="url(#mBig)" marker-mid="url(#mBig)" marker-end="url(#mBig)"/>
<polyline points="283.0,1080.1 287.3,1117.1 291.4,1143.6 295.1,1189.9 299.2,1213.2 303.5,1275.6 307.3,1301.9 311.9,1297.2 315.7,1284.5 319.4,1252.2 323.5,1273.7 327.8,1269.2 331.9,1271.1 335.8,1264.0 339.9,1260.8 343.7,1237.9 347.8,1253.7 352.1,1246.3 356.2,1240.7 359.9,1199.6 363.8,1221.1 367.9,1194.0 372.0,1208.6 376.3,1243.1 380.1,1254.1 383.8,1286.4 387.9,1308.8 392.2,1295.2 396.3,1294.8 400.2,1275.6 404.3,1289.2 408.1,1265.5 412.2,1245.3 416.1,1231.3 420.6,1230.0 424.5,1184.3 428.6,1201.5 432.3,1250.9 436.4,1267.7 440.4,1230.4 444.5,1238.4 448.6,1226.3 452.5,1215.5 456.6,1198.3 460.7,1179.6 464.6,1190.3 468.7,1199.6 472.5,1195.9 476.8,1198.7 480.9,1205.8 484.6,1193.4 488.9,1182.2 493.0,1204.8 497.1,1216.4 501.0,1195.9 505.1,1189.0 509.2,1164.7 513.2,1143.6 517.3,1124.4 521.6,1146.8 525.0,1184.7 529.1,1203.0 533.4,1208.9 537.5,1222.6 541.8,1225.7 545.5,1266.8 549.8,1293.5 553.9,1272.4 557.7,1250.6 561.8,1264.9 566.1,1262.1 569.8,1247.6 573.9,1256.0 577.8,1236.0 581.9,1208.6 586.0,1224.2 590.0,1245.9 594.1,1287.3 598.2,1260.3 602.1,1225.7 606.2,1240.7 610.3,1250.6 614.2,1222.6 618.3,1224.4 622.4,1213.6 626.4,1247.2 630.5,1258.4 634.6,1284.0 638.5,1254.7 642.6,1262.1 646.7,1269.6 650.4,1241.2 654.4,1211.4 658.8,1214.5 662.8,1251.9 666.9,1239.4 670.6,1254.3 674.9,1244.4 679.0,1246.8 682.7,1208.0 686.5,1175.3 690.8,1173.8 694.9,1130.9 699.0,1146.8 702.9,1197.4 707.0,1243.1 711.1,1230.8 715.0,1254.1 719.1,1261.8 723.2,1246.3 727.2,1230.8 731.3,1206.7 735.4,1210.8 739.3,1198.3 743.4,1167.9 747.1,1145.8 751.4,1122.7 755.5,1139.5 759.3,1189.9 763.6,1191.6 767.3,1203.7 771.4,1235.1 775.5,1233.2 779.4,1241.2 783.5,1242.5 787.6,1254.3 791.6,1254.1 795.9,1262.1 800.0,1276.1 804.0,1283.6 808.1,1286.4 812.2,1288.3 816.5,1288.3 820.2,1271.1 824.3,1257.1 828.2,1279.5 832.0,1252.2 836.1,1200.0 840.4,1235.1 844.1,1265.5 848.2,1277.6 852.3,1269.6 856.2,1261.8 860.0,1226.7 864.4,1238.2 868.4,1275.2 872.5,1252.4 876.2,1217.7 880.3,1203.9 884.6,1220.1 888.3,1216.4 892.4,1214.5 896.4,1214.5 900.5,1214.2 904.6,1235.1 908.9,1218.6 912.6,1188.4 916.7,1167.3 920.6,1116.5 925.1,1142.7 929.0,1138.9 933.1,1197.2 937.2,1233.8 941.2,1262.5 945.3,1264.0 949.0,1298.5 953.1,1284.0 957.0,1272.0 961.1,1271.5 965.2,1299.5 969.2,1261.2 973.6,1280.2 977.4,1328.8 981.3,1303.6 985.4,1311.2 989.5,1299.1 993.4,1314.8 997.5,1299.8 1001.6,1308.2 1005.6,1298.5 1009.7,1294.8 1013.4,1303.8 1017.5,1299.5 1021.8,1295.2 1025.9,1279.9 1029.8,1287.9 1033.9,1296.7 1038.0,1284.0 1042.0,1254.7 1046.1,1265.9 1050.2,1265.9 1053.9,1290.7 1057.8,1266.4 1061.9,1258.8 1065.9,1260.8 1070.2,1261.8 1074.0,1240.1 1078.1,1205.6 1082.2,1164.5 1086.1,1160.4 1090.2,1160.0 1094.3,1113.4 1098.6,1141.7 1102.7,1182.8 1106.4,1196.8 1110.7,1193.1 1114.5,1182.2 1118.6,1209.5 1122.5,1209.5 1126.6,1209.5 1130.7,1214.5 1134.6,1235.4 1138.7,1251.5 1142.8,1259.0 1146.8,1284.2 1150.9,1306.9 1154.6,1289.2 1158.9,1280.8 1163.0,1268.1 1167.1,1259.9 1171.0,1283.2 1175.1,1266.4 1179.2,1288.3 1183.2,1289.2 1187.3,1289.6 1191.4,1292.0 1195.3,1287.3 1199.4,1276.5 1203.5,1281.7 1207.2,1251.5 1211.2,1251.5 1215.3,1265.5 1219.4,1253.4 1223.3,1245.3 1227.4,1222.9 1231.5,1216.4 1235.4,1207.1 1239.5,1189.9 1243.6,1198.7 1247.6,1180.9 1251.7,1148.3 1255.8,1120.3 1259.7,1115.0 1263.8,1109.6 1267.9,1133.9 1271.8,1140.2 1275.9,1154.4 1280.0,1121.2 1284.0,1115.2 1288.1,1124.4 1292.2,1095.6 1296.1,1127.2 1300.2,1112.4 1304.3,1126.8 1308.2,1148.6 1312.3,1145.8 1316.4,1143.2 1320.4,1167.9 1324.5,1188.4 1328.3,1212.7 1332.4,1200.5 1336.7,1235.1 1340.4,1266.4 1344.5,1271.5 1348.8,1266.8 1352.9,1260.6 1356.8,1225.7 1360.9,1216.0 1365.2,1228.2 1369.0,1206.1 1373.1,1212.7" fill="none" stroke="#231f20" stroke-width="2.2" stroke-linejoin="round" marker-start="url(#mBig)" marker-mid="url(#mBig)" marker-end="url(#mBig)"/>
<polyline points="260.6,1479.6 263.0,1476.9 265.3,1474.9 267.1,1485.2 269.2,1484.0 271.8,1483.3 273.9,1486.9 273.7,1489.9 276.0,1493.7 277.4,1498.3 280.2,1496.4 281.7,1511.3 283.1,1514.3 283.6,1519.2 285.8,1554.3 287.7,1569.2 289.5,1592.5 291.8,1615.5 293.6,1643.5 295.7,1657.9 297.6,1672.8 298.5,1671.8 301.7,1669.1 301.9,1666.5 304.5,1661.6 306.7,1659.5 307.3,1656.0 307.6,1652.5 310.1,1650.4 312.9,1651.3 314.0,1634.5 315.7,1638.6 315.7,1642.9 319.4,1642.0 321.8,1629.9 324.2,1627.6 325.9,1627.1 327.0,1625.7 329.7,1624.3 331.4,1622.5 331.9,1620.5 332.2,1617.2 334.3,1612.1 335.3,1609.2 338.1,1606.5 339.9,1622.4 342.7,1621.5 344.8,1618.2 346.5,1615.9 348.1,1614.9 350.2,1612.1 352.1,1598.1 353.8,1600.6 355.8,1602.8 357.7,1612.1 360.5,1611.2 363.3,1598.1 366.3,1596.2 367.0,1595.3 368.9,1610.3 372.6,1596.3 374.9,1598.7 375.4,1601.9 375.9,1606.0 377.3,1608.4 380.1,1609.3 378.1,1613.5 378.2,1615.9 381.8,1617.3 383.8,1616.8 381.9,1627.1 383.2,1626.9 386.6,1628.0 387.7,1624.6 387.5,1621.5 390.7,1601.9 393.1,1616.8 392.9,1621.0 395.0,1624.3 398.7,1608.4 400.9,1611.9 401.5,1613.1 402.5,1597.2 405.3,1586.0 409.0,1586.9 410.9,1565.5 411.1,1560.5 413.1,1556.7 416.5,1571.1 419.6,1568.7 421.1,1568.3 423.0,1552.0 425.8,1542.1 427.6,1543.0 430.5,1544.0 433.3,1557.1 435.1,1569.2 437.0,1582.3 438.2,1578.2 439.8,1573.9 442.6,1570.9 443.5,1567.3 445.8,1564.3 447.3,1560.8 450.1,1550.5 449.8,1547.6 451.0,1544.9 454.7,1536.2 457.3,1541.5 457.5,1544.9 459.1,1548.7 459.4,1552.4 462.2,1540.3 465.9,1549.6 468.7,1551.8 469.7,1553.3 471.3,1550.1 473.4,1546.8 475.3,1560.8 475.9,1564.2 478.1,1567.3 479.0,1571.7 480.9,1574.8 483.5,1571.8 484.6,1566.4 488.3,1565.5 489.8,1554.8 491.7,1542.7 493.6,1530.9 495.8,1517.9 498.0,1514.5 498.6,1513.2 499.9,1502.6 502.3,1487.1 504.3,1485.8 505.1,1483.0 507.4,1478.5 507.9,1474.0 509.0,1469.9 510.2,1465.6 511.7,1483.3 513.5,1469.3 516.3,1472.1 518.2,1494.9 520.1,1530.9 522.3,1551.5 523.8,1527.2 525.0,1527.2 526.5,1542.1 528.4,1584.1 530.2,1606.5 532.1,1637.9 533.4,1655.1 534.9,1652.9 538.1,1648.5 539.9,1658.8 544.6,1668.5 543.7,1655.1 548.3,1643.9 551.8,1647.0 553.0,1651.3 554.6,1646.4 553.9,1642.9 558.6,1651.3 560.1,1639.2 561.3,1642.1 564.6,1643.9 567.0,1632.7 569.6,1630.1 570.7,1628.9 573.2,1630.6 573.5,1632.7 574.5,1617.4 576.9,1647.2 577.3,1643.7 579.1,1641.1 579.6,1638.5 581.9,1634.5 583.8,1634.1 586.6,1632.7 588.8,1634.6 591.3,1638.3 593.6,1638.5 595.6,1636.4 595.9,1614.0 596.6,1611.4 598.7,1606.5 599.2,1610.9 601.5,1614.9 603.3,1618.5 606.6,1619.6 607.9,1616.8 609.0,1612.1 610.4,1607.8 610.9,1603.7 613.1,1592.5 613.7,1595.8 615.5,1597.2 616.9,1601.6 616.5,1604.7 618.6,1607.3 619.3,1612.1 620.5,1613.7 623.0,1614.9 625.8,1604.7 628.6,1614.0 631.4,1601.9 631.3,1605.8 633.3,1609.3 635.5,1626.7 637.9,1606.5 640.9,1609.4 641.7,1613.1 643.1,1608.2 643.5,1604.7 645.4,1592.5 647.3,1576.3 649.1,1536.5 651.9,1546.8 654.5,1551.0 655.7,1553.3 657.9,1542.1 659.4,1538.0 659.4,1534.1 660.4,1537.6 662.2,1543.1 663.1,1516.9 665.4,1515.1 665.9,1511.3 668.4,1512.3 669.7,1522.9 672.1,1519.7 673.4,1538.4 674.9,1541.8 676.2,1544.0 677.4,1541.8 679.9,1538.4 680.5,1535.7 682.2,1531.9 681.7,1527.4 683.7,1523.5 684.2,1518.4 685.9,1515.4 687.5,1519.1 690.2,1520.7 690.7,1521.6 692.1,1524.4 694.9,1514.1 697.7,1511.3 699.3,1509.7 700.1,1506.7 702.0,1532.8 704.2,1555.8 704.8,1559.0 706.1,1560.2 707.9,1586.9 710.2,1602.8 711.7,1606.6 712.2,1610.3 714.6,1608.2 715.0,1604.7 716.3,1592.5 718.2,1593.5 720.1,1583.2 724.2,1564.5 725.1,1584.1 726.2,1595.3 727.8,1590.5 728.8,1586.9 729.9,1584.1 730.9,1580.8 732.6,1559.5 734.4,1544.9 735.9,1531.3 738.1,1529.4 738.4,1525.3 740.6,1504.8 743.4,1502.9 746.8,1502.0 744.8,1505.8 744.9,1509.5 748.0,1511.0 749.0,1512.8 750.9,1528.1 753.1,1538.8 754.6,1567.9 756.8,1580.8 758.3,1603.7 760.3,1598.9 761.1,1595.3 763.4,1597.8 763.9,1601.9 766.7,1616.8 767.1,1619.9 768.6,1624.3 769.0,1627.9 771.0,1630.8 773.3,1617.7 775.5,1620.2 776.1,1624.3 777.4,1601.9 777.6,1604.9 779.2,1608.4 781.7,1621.5 782.6,1618.1 784.5,1614.0 785.9,1616.5 789.1,1618.7 793.8,1608.4 795.0,1608.4 796.9,1611.2 798.7,1615.9 802.5,1597.2 803.4,1616.8 806.2,1618.7 810.9,1610.3 812.6,1606.7 814.6,1603.7 814.5,1605.2 816.5,1607.5 819.3,1594.4 821.5,1610.6 823.0,1595.3 825.8,1586.0 827.7,1576.7 829.2,1581.8 830.1,1585.1 831.4,1559.9 833.3,1548.7 836.2,1547.4 837.0,1544.9 839.8,1543.1 840.5,1546.0 841.7,1550.5 843.2,1563.6 844.7,1566.6 845.4,1569.2 847.7,1570.5 848.2,1572.9 850.6,1575.7 851.0,1591.6 852.8,1587.8 853.8,1586.0 855.7,1598.1 859.4,1587.9 860.3,1591.0 862.2,1594.4 864.4,1580.4 866.1,1583.3 866.3,1586.9 867.8,1564.5 871.5,1565.5 874.3,1562.7 876.0,1567.6 877.1,1570.1 879.9,1567.3 882.2,1564.9 882.4,1562.7 883.7,1545.9 886.5,1547.7 886.2,1543.8 887.4,1539.3 890.2,1530.0 892.1,1539.3 894.9,1529.1 897.0,1533.5 897.7,1537.5 898.2,1521.6 899.9,1524.6 900.5,1529.1 901.8,1550.5 904.2,1537.5 906.1,1517.9 906.7,1521.2 908.3,1526.3 909.8,1513.2 912.6,1511.3 912.5,1508.4 914.5,1505.7 916.3,1476.8 919.1,1487.1 921.9,1477.7 924.9,1476.5 926.6,1475.9 928.5,1486.1 930.3,1487.1 932.8,1496.4 935.0,1495.5 936.9,1509.5 938.7,1535.2 940.6,1570.7 942.8,1586.9 945.1,1583.5 945.3,1580.8 947.1,1607.5 949.0,1627.4 950.3,1653.2 951.7,1652.6 953.7,1650.4 955.7,1647.2 957.0,1643.9 957.5,1645.2 959.3,1648.5 960.6,1636.4 963.0,1619.6 963.3,1616.5 965.2,1614.9 966.7,1628.9 967.7,1631.3 969.0,1634.5 971.4,1631.7 973.3,1613.1 975.2,1608.8 977.0,1605.6 978.9,1626.1 980.7,1613.1 983.5,1615.9 984.7,1621.6 985.0,1625.2 987.4,1621.2 988.2,1616.8 989.5,1618.4 991.9,1618.7 995.7,1619.6 997.5,1600.9 999.8,1612.1 1001.3,1596.3 1003.9,1599.5 1005.0,1604.7 1007.8,1601.9 1011.2,1591.6 1013.8,1607.5 1016.2,1594.4 1018.0,1598.2 1018.1,1600.0 1019.9,1585.1 1021.6,1583.8 1024.6,1584.1 1027.5,1582.7 1029.3,1581.3 1032.1,1579.5 1033.9,1567.3 1034.3,1571.3 1036.7,1574.8 1039.5,1577.6 1041.4,1565.5 1044.1,1561.8 1045.1,1557.1 1045.2,1552.7 1047.4,1550.5 1049.8,1559.9 1052.2,1562.7 1055.4,1547.7 1056.8,1551.4 1058.2,1554.3 1060.1,1535.6 1062.3,1532.8 1063.8,1504.8 1065.4,1509.5 1065.0,1513.2 1066.8,1511.3 1067.8,1507.6 1070.2,1488.9 1071.5,1476.2 1073.2,1472.9 1075.3,1471.2 1076.7,1468.3 1079.9,1466.2 1082.2,1470.7 1082.7,1474.9 1086.5,1475.9 1087.2,1474.5 1090.2,1471.2 1092.1,1485.2 1094.2,1486.0 1094.9,1488.9 1096.5,1492.4 1096.7,1497.3 1100.5,1498.6 1102.3,1508.5 1102.4,1512.3 1104.6,1516.6 1106.4,1534.7 1109.1,1536.0 1110.7,1538.4 1110.1,1542.5 1109.8,1544.9 1110.8,1546.7 1113.5,1547.7 1113.8,1550.7 1115.0,1555.8 1117.7,1555.4 1119.1,1554.3 1116.3,1564.5 1120.6,1594.8 1122.6,1594.7 1124.7,1594.8 1122.5,1616.4 1126.6,1640.1 1128.5,1660.3 1129.3,1664.6 1130.7,1668.1 1130.5,1670.9 1132.6,1675.6 1133.7,1676.5 1136.9,1679.3 1138.9,1675.9 1140.6,1672.8 1142.4,1675.7 1143.4,1678.4 1144.3,1659.7 1146.6,1647.6 1149.4,1646.4 1150.9,1644.2 1149.9,1657.9 1150.2,1660.6 1152.7,1665.3 1155.0,1665.2 1156.5,1663.5 1158.3,1651.3 1161.1,1660.7 1163.9,1650.4 1165.1,1617.4 1167.3,1645.7 1170.1,1643.4 1171.4,1642.9 1172.3,1625.2 1175.5,1642.0 1177.0,1623.3 1178.6,1624.8 1179.8,1628.0 1181.3,1606.5 1183.5,1629.9 1184.9,1627.0 1187.3,1622.4 1189.4,1624.1 1191.0,1624.3 1190.3,1628.5 1189.1,1630.8 1191.9,1629.8 1195.7,1628.9 1199.4,1610.3 1201.6,1623.3 1204.1,1611.2 1206.5,1607.6 1206.9,1602.8 1209.7,1617.7 1210.6,1598.1 1210.9,1593.1 1213.4,1589.4 1214.5,1593.1 1216.2,1596.3 1217.6,1601.3 1219.9,1604.7 1222.1,1600.7 1222.7,1597.2 1223.5,1594.2 1225.5,1592.5 1226.3,1589.7 1228.3,1586.9 1230.2,1575.7 1232.2,1579.0 1233.9,1580.4 1235.8,1564.5 1237.0,1562.4 1238.2,1559.9 1239.5,1540.3 1240.7,1540.5 1243.3,1538.4 1244.4,1535.2 1245.7,1533.7 1246.3,1531.0 1247.9,1527.2 1248.1,1524.2 1249.4,1518.8 1250.7,1516.2 1251.7,1512.3 1253.0,1509.3 1253.9,1505.4 1256.3,1522.5 1258.2,1532.8 1260.1,1544.0 1263.8,1544.9 1266.2,1527.8 1268.5,1539.3 1269.6,1542.9 1271.3,1544.9 1272.9,1541.9 1273.1,1537.5 1275.3,1537.1 1276.9,1535.2 1278.5,1538.3 1278.7,1542.7 1278.6,1548.1 1280.6,1551.5 1281.7,1548.6 1283.4,1547.7 1285.7,1552.3 1286.2,1555.2 1283.8,1564.5 1288.1,1580.0 1291.2,1569.2 1293.2,1571.0 1294.6,1574.8 1296.5,1585.1 1298.5,1587.4 1298.7,1589.7 1300.2,1572.0 1303.9,1572.9 1304.9,1561.7 1305.3,1558.6 1307.7,1557.1 1309.2,1570.1 1311.4,1559.9 1312.4,1557.0 1315.1,1552.4 1317.9,1551.6 1318.9,1548.7 1319.4,1546.5 1320.7,1544.0 1323.5,1556.1 1326.3,1558.9 1328.5,1556.7 1330.1,1555.2 1331.2,1553.7 1334.7,1554.3 1333.3,1558.3 1333.8,1562.7 1335.5,1562.5 1337.5,1564.5 1339.5,1574.8 1341.0,1591.6 1343.2,1594.4 1344.1,1622.4 1347.9,1608.4 1348.8,1621.5 1350.1,1620.2 1353.5,1619.6 1358.1,1611.2 1361.1,1609.8 1363.4,1608.4 1365.6,1618.7 1368.1,1620.7 1369.3,1622.4 1370.7,1618.7 1374.0,1616.8" fill="none" stroke="#231f20" stroke-width="1.8" stroke-linejoin="round" marker-start="url(#mE)" marker-mid="url(#mE)" marker-end="url(#mE)"/>
<path d="M261.2 3.0H1370.7V316.3H261.2ZM261.2 316.3V338.1M281.4 316.3V327.1M301.5 316.3V327.1M321.7 316.3V327.1M341.9 316.3V327.1M362.1 316.3V338.1M382.2 316.3V327.1M402.4 316.3V327.1M422.6 316.3V327.1M442.8 316.3V327.1M462.9 316.3V338.1M483.1 316.3V327.1M503.3 316.3V327.1M523.4 316.3V327.1M543.6 316.3V327.1M563.8 316.3V338.1M584.0 316.3V327.1M604.1 316.3V327.1M624.3 316.3V327.1M644.5 316.3V327.1M664.7 316.3V338.1M684.8 316.3V327.1M705.0 316.3V327.1M725.2 316.3V327.1M745.3 316.3V327.1M765.5 316.3V338.1M785.7 316.3V327.1M805.9 316.3V327.1M826.0 316.3V327.1M846.2 316.3V327.1M866.4 316.3V338.1M886.6 316.3V327.1M906.7 316.3V327.1M926.9 316.3V327.1M947.1 316.3V327.1M967.2 316.3V338.1M987.4 316.3V327.1M1007.6 316.3V327.1M1027.8 316.3V327.1M1047.9 316.3V327.1M1068.1 316.3V338.1M1088.3 316.3V327.1M1108.5 316.3V327.1M1128.6 316.3V327.1M1148.8 316.3V327.1M1169.0 316.3V338.1M1189.1 316.3V327.1M1209.3 316.3V327.1M1229.5 316.3V327.1M1249.7 316.3V327.1M1269.8 316.3V338.1M1290.0 316.3V327.1M1310.2 316.3V327.1M1330.4 316.3V327.1M1350.5 316.3V327.1M1370.7 316.3V338.1M261.2 361.4H1370.6V674.4H261.2ZM261.2 674.4V696.2M281.4 674.4V685.2M301.5 674.4V685.2M321.7 674.4V685.2M341.9 674.4V685.2M362.1 674.4V696.2M382.2 674.4V685.2M402.4 674.4V685.2M422.6 674.4V685.2M442.7 674.4V685.2M462.9 674.4V696.2M483.1 674.4V685.2M503.3 674.4V685.2M523.4 674.4V685.2M543.6 674.4V685.2M563.8 674.4V696.2M583.9 674.4V685.2M604.1 674.4V685.2M624.3 674.4V685.2M644.4 674.4V685.2M664.6 674.4V696.2M684.8 674.4V685.2M705.0 674.4V685.2M725.1 674.4V685.2M745.3 674.4V685.2M765.5 674.4V696.2M785.6 674.4V685.2M805.8 674.4V685.2M826.0 674.4V685.2M846.2 674.4V685.2M866.3 674.4V696.2M886.5 674.4V685.2M906.7 674.4V685.2M926.8 674.4V685.2M947.0 674.4V685.2M967.2 674.4V696.2M987.4 674.4V685.2M1007.5 674.4V685.2M1027.7 674.4V685.2M1047.9 674.4V685.2M1068.0 674.4V696.2M1088.2 674.4V685.2M1108.4 674.4V685.2M1128.5 674.4V685.2M1148.7 674.4V685.2M1168.9 674.4V696.2M1189.1 674.4V685.2M1209.2 674.4V685.2M1229.4 674.4V685.2M1249.6 674.4V685.2M1269.7 674.4V696.2M1289.9 674.4V685.2M1310.1 674.4V685.2M1330.3 674.4V685.2M1350.4 674.4V685.2M1370.6 674.4V696.2M261.2 710.0H1370.7V1023.6H261.2ZM261.2 1023.6V1045.4M281.4 1023.6V1034.4M301.5 1023.6V1034.4M321.7 1023.6V1034.4M341.9 1023.6V1034.4M362.1 1023.6V1045.4M382.2 1023.6V1034.4M402.4 1023.6V1034.4M422.6 1023.6V1034.4M442.8 1023.6V1034.4M462.9 1023.6V1045.4M483.1 1023.6V1034.4M503.3 1023.6V1034.4M523.4 1023.6V1034.4M543.6 1023.6V1034.4M563.8 1023.6V1045.4M584.0 1023.6V1034.4M604.1 1023.6V1034.4M624.3 1023.6V1034.4M644.5 1023.6V1034.4M664.7 1023.6V1045.4M684.8 1023.6V1034.4M705.0 1023.6V1034.4M725.2 1023.6V1034.4M745.3 1023.6V1034.4M765.5 1023.6V1045.4M785.7 1023.6V1034.4M805.9 1023.6V1034.4M826.0 1023.6V1034.4M846.2 1023.6V1034.4M866.4 1023.6V1045.4M886.6 1023.6V1034.4M906.7 1023.6V1034.4M926.9 1023.6V1034.4M947.1 1023.6V1034.4M967.2 1023.6V1045.4M987.4 1023.6V1034.4M1007.6 1023.6V1034.4M1027.8 1023.6V1034.4M1047.9 1023.6V1034.4M1068.1 1023.6V1045.4M1088.3 1023.6V1034.4M1108.5 1023.6V1034.4M1128.6 1023.6V1034.4M1148.8 1023.6V1034.4M1169.0 1023.6V1045.4M1189.1 1023.6V1034.4M1209.3 1023.6V1034.4M1229.5 1023.6V1034.4M1249.7 1023.6V1034.4M1269.8 1023.6V1045.4M1290.0 1023.6V1034.4M1310.2 1023.6V1034.4M1330.4 1023.6V1034.4M1350.5 1023.6V1034.4M1370.7 1023.6V1045.4M263.0 1051.5H1372.8V1364.6H263.0ZM263.0 1364.6V1386.4M283.2 1364.6V1375.4M303.4 1364.6V1375.4M323.5 1364.6V1375.4M343.7 1364.6V1375.4M363.9 1364.6V1386.4M384.1 1364.6V1375.4M404.2 1364.6V1375.4M424.4 1364.6V1375.4M444.6 1364.6V1375.4M464.8 1364.6V1386.4M485.0 1364.6V1375.4M505.1 1364.6V1375.4M525.3 1364.6V1375.4M545.5 1364.6V1375.4M565.7 1364.6V1386.4M585.9 1364.6V1375.4M606.0 1364.6V1375.4M626.2 1364.6V1375.4M646.4 1364.6V1375.4M666.6 1364.6V1386.4M686.7 1364.6V1375.4M706.9 1364.6V1375.4M727.1 1364.6V1375.4M747.3 1364.6V1375.4M767.5 1364.6V1386.4M787.6 1364.6V1375.4M807.8 1364.6V1375.4M828.0 1364.6V1375.4M848.2 1364.6V1375.4M868.3 1364.6V1386.4M888.5 1364.6V1375.4M908.7 1364.6V1375.4M928.9 1364.6V1375.4M949.1 1364.6V1375.4M969.2 1364.6V1386.4M989.4 1364.6V1375.4M1009.6 1364.6V1375.4M1029.8 1364.6V1375.4M1049.9 1364.6V1375.4M1070.1 1364.6V1386.4M1090.3 1364.6V1375.4M1110.5 1364.6V1375.4M1130.7 1364.6V1375.4M1150.8 1364.6V1375.4M1171.0 1364.6V1386.4M1191.2 1364.6V1375.4M1211.4 1364.6V1375.4M1231.6 1364.6V1375.4M1251.7 1364.6V1375.4M1271.9 1364.6V1386.4M1292.1 1364.6V1375.4M1312.3 1364.6V1375.4M1332.4 1364.6V1375.4M1352.6 1364.6V1375.4M1372.8 1364.6V1386.4M261.4 1400.6H1373.6V1714.2H261.4ZM261.4 1714.2V1736.0M281.6 1714.2V1725.0M301.8 1714.2V1725.0M322.1 1714.2V1725.0M342.3 1714.2V1725.0M362.5 1714.2V1736.0M382.7 1714.2V1725.0M403.0 1714.2V1725.0M423.2 1714.2V1725.0M443.4 1714.2V1725.0M463.6 1714.2V1736.0M483.8 1714.2V1725.0M504.1 1714.2V1725.0M524.3 1714.2V1725.0M544.5 1714.2V1725.0M564.7 1714.2V1736.0M584.9 1714.2V1725.0M605.2 1714.2V1725.0M625.4 1714.2V1725.0M645.6 1714.2V1725.0M665.8 1714.2V1736.0M686.1 1714.2V1725.0M706.3 1714.2V1725.0M726.5 1714.2V1725.0M746.7 1714.2V1725.0M766.9 1714.2V1736.0M787.2 1714.2V1725.0M807.4 1714.2V1725.0M827.6 1714.2V1725.0M847.8 1714.2V1725.0M868.1 1714.2V1736.0M888.3 1714.2V1725.0M908.5 1714.2V1725.0M928.7 1714.2V1725.0M948.9 1714.2V1725.0M969.2 1714.2V1736.0M989.4 1714.2V1725.0M1009.6 1714.2V1725.0M1029.8 1714.2V1725.0M1050.1 1714.2V1725.0M1070.3 1714.2V1736.0M1090.5 1714.2V1725.0M1110.7 1714.2V1725.0M1130.9 1714.2V1725.0M1151.2 1714.2V1725.0M1171.4 1714.2V1736.0M1191.6 1714.2V1725.0M1211.8 1714.2V1725.0M1232.0 1714.2V1725.0M1252.3 1714.2V1725.0M1272.5 1714.2V1736.0M1292.7 1714.2V1725.0M1312.9 1714.2V1725.0M1333.2 1714.2V1725.0M1353.4 1714.2V1725.0M1373.6 1714.2V1736.0M239.4 41.4H261.2M250.4 3.4H261.2M239.4 167.7H261.2M250.4 129.7H261.2M250.4 107.4H261.2M250.4 91.7H261.2M250.4 79.4H261.2M250.4 69.4H261.2M250.4 61.0H261.2M250.4 53.6H261.2M250.4 47.2H261.2M239.4 294.0H261.2M250.4 256.0H261.2M250.4 233.7H261.2M250.4 218.0H261.2M250.4 205.7H261.2M250.4 195.7H261.2M250.4 187.3H261.2M250.4 179.9H261.2M250.4 173.5H261.2M250.4 313.6H261.2M250.4 306.2H261.2M250.4 299.8H261.2M1370.7 38.6H1392.5M1370.7 99.1H1381.5M1370.7 159.6H1392.5M1370.7 220.1H1381.5M1370.7 280.6H1392.5M250.4 674.4H261.2M250.4 657.0H261.2M250.4 639.6H261.2M239.4 622.2H261.2M250.4 604.9H261.2M250.4 587.5H261.2M250.4 570.1H261.2M250.4 552.7H261.2M239.4 535.3H261.2M250.4 517.9H261.2M250.4 500.5H261.2M250.4 483.1H261.2M250.4 465.7H261.2M239.4 448.3H261.2M250.4 431.0H261.2M250.4 413.6H261.2M250.4 396.2H261.2M250.4 378.8H261.2M239.4 361.4H261.2M1370.6 398.0H1392.4M1370.6 458.1H1381.4M1370.6 518.3H1392.4M1370.6 578.4H1381.4M1370.6 638.6H1392.4M250.4 1015.3H261.2M250.4 998.7H261.2M250.4 982.2H261.2M239.4 965.6H261.2M250.4 949.1H261.2M250.4 932.5H261.2M250.4 916.0H261.2M250.4 899.4H261.2M239.4 882.8H261.2M250.4 866.3H261.2M250.4 849.7H261.2M250.4 833.2H261.2M250.4 816.6H261.2M239.4 800.1H261.2M250.4 783.5H261.2M250.4 767.0H261.2M250.4 750.4H261.2M250.4 733.9H261.2M239.4 717.3H261.2M1370.7 751.5H1392.5M1370.7 819.5H1381.5M1370.7 887.5H1392.5M1370.7 955.5H1381.5M1370.7 1023.5H1392.5M241.2 1364.6H263.0M1372.8 1364.6H1394.6M252.2 1336.1H263.0M1372.8 1336.1H1383.6M252.2 1307.7H263.0M1372.8 1307.7H1383.6M252.2 1279.2H263.0M1372.8 1279.2H1383.6M252.2 1250.8H263.0M1372.8 1250.8H1383.6M241.2 1222.3H263.0M1372.8 1222.3H1394.6M252.2 1193.9H263.0M1372.8 1193.9H1383.6M252.2 1165.4H263.0M1372.8 1165.4H1383.6M252.2 1137.0H263.0M1372.8 1137.0H1383.6M252.2 1108.5H263.0M1372.8 1108.5H1383.6M241.2 1080.1H263.0M1372.8 1080.1H1394.6M252.2 1051.6H263.0M1372.8 1051.6H1383.6M239.6 1400.6H261.4M250.6 1411.4H261.4M250.6 1422.2H261.4M250.6 1433.0H261.4M250.6 1443.8H261.4M239.6 1454.6H261.4M250.6 1465.4H261.4M250.6 1476.2H261.4M250.6 1487.0H261.4M250.6 1497.8H261.4M239.6 1508.6H261.4M250.6 1519.4H261.4M250.6 1530.2H261.4M250.6 1541.0H261.4M250.6 1551.8H261.4M239.6 1562.6H261.4M250.6 1573.4H261.4M250.6 1584.2H261.4M250.6 1595.0H261.4M250.6 1605.8H261.4M239.6 1616.6H261.4M250.6 1627.4H261.4M250.6 1638.2H261.4M250.6 1649.0H261.4M250.6 1659.8H261.4M239.6 1670.6H261.4M250.6 1681.4H261.4M250.6 1692.2H261.4M250.6 1703.0H261.4M250.6 1713.8H261.4" fill="none" stroke="#231f20" stroke-width="2.15" stroke-linecap="butt" stroke-linejoin="miter"/>
<path d="M111.4 887.2V161.0" stroke="#000" stroke-width="2.9" fill="none"/>
<path d="M111.4 146.0L121.4 170.3L111.4 165.5L101.4 170.3Z" fill="#000"/>
<path d="M111.4 1312.7V1115.0" stroke="#000" stroke-width="2.9" fill="none"/>
<path d="M111.4 1100.0L121.4 1124.3L111.4 1119.5L101.4 1124.3Z" fill="#000"/>
<text x="232.0" y="52.8" font-size="32.8" text-anchor="end" fill="#231f20" font-weight="normal" stroke="#231f20" stroke-width="0.5" >100</text>
<text x="232.0" y="179.0" font-size="32.8" text-anchor="end" fill="#231f20" font-weight="normal" stroke="#231f20" stroke-width="0.5" >10</text>
<text x="232.0" y="306.0" font-size="32.8" text-anchor="end" fill="#231f20" font-weight="normal" stroke="#231f20" stroke-width="0.5" >1</text>
<text x="232.0" y="372.79999999999995" font-size="32.8" text-anchor="end" fill="#231f20" font-weight="normal" stroke="#231f20" stroke-width="0.5" >20</text>
<text x="232.0" y="459.7" font-size="32.8" text-anchor="end" fill="#231f20" font-weight="normal" stroke="#231f20" stroke-width="0.5" >15</text>
<text x="232.0" y="546.6999999999999" font-size="32.8" text-anchor="end" fill="#231f20" font-weight="normal" stroke="#231f20" stroke-width="0.5" >10</text>
<text x="232.0" y="633.6" font-size="32.8" text-anchor="end" fill="#231f20" font-weight="normal" stroke="#231f20" stroke-width="0.5" >5</text>
<text x="232.0" y="728.6999999999999" font-size="32.8" text-anchor="end" fill="#231f20" font-weight="normal" stroke="#231f20" stroke-width="0.5" >0.20</text>
<text x="232.0" y="811.5" font-size="32.8" text-anchor="end" fill="#231f20" font-weight="normal" stroke="#231f20" stroke-width="0.5" >0.15</text>
<text x="232.0" y="894.1999999999999" font-size="32.8" text-anchor="end" fill="#231f20" font-weight="normal" stroke="#231f20" stroke-width="0.5" >0.10</text>
<text x="232.0" y="977.0" font-size="32.8" text-anchor="end" fill="#231f20" font-weight="normal" stroke="#231f20" stroke-width="0.5" >0.05</text>
<text x="232.0" y="1091.5" font-size="32.8" text-anchor="end" fill="#231f20" font-weight="normal" stroke="#231f20" stroke-width="0.5" >1.0</text>
<text x="232.0" y="1233.8000000000002" font-size="32.8" text-anchor="end" fill="#231f20" font-weight="normal" stroke="#231f20" stroke-width="0.5" >0.5</text>
<text x="232.0" y="1376.0" font-size="32.8" text-anchor="end" fill="#231f20" font-weight="normal" stroke="#231f20" stroke-width="0.5" >0</text>
<text x="232.0" y="1412.0" font-size="32.8" text-anchor="end" fill="#231f20" font-weight="normal" stroke="#231f20" stroke-width="0.5" >2.5</text>
<text x="232.0" y="1466.0" font-size="32.8" text-anchor="end" fill="#231f20" font-weight="normal" stroke="#231f20" stroke-width="0.5" >3.0</text>
<text x="232.0" y="1520.0" font-size="32.8" text-anchor="end" fill="#231f20" font-weight="normal" stroke="#231f20" stroke-width="0.5" >3.5</text>
<text x="232.0" y="1574.0" font-size="32.8" text-anchor="end" fill="#231f20" font-weight="normal" stroke="#231f20" stroke-width="0.5" >4.0</text>
<text x="232.0" y="1628.0" font-size="32.8" text-anchor="end" fill="#231f20" font-weight="normal" stroke="#231f20" stroke-width="0.5" >4.5</text>
<text x="232.0" y="1682.0" font-size="32.8" text-anchor="end" fill="#231f20" font-weight="normal" stroke="#231f20" stroke-width="0.5" >5.0</text>
<text x="1400.0" y="50.0" font-size="32.8" text-anchor="start" fill="#231f20" font-weight="normal" stroke="#231f20" stroke-width="0.5" >1</text>
<text x="1400.0" y="171.0" font-size="32.8" text-anchor="start" fill="#231f20" font-weight="normal" stroke="#231f20" stroke-width="0.5" >0</text>
<text x="1400.0" y="292.0" font-size="32.8" text-anchor="start" fill="#231f20" font-weight="normal" stroke="#231f20" stroke-width="0.5" >−1</text>
<text x="1400.0" y="409.4" font-size="32.8" text-anchor="start" fill="#231f20" font-weight="normal" stroke="#231f20" stroke-width="0.5" >−1</text>
<text x="1400.0" y="529.6999999999999" font-size="32.8" text-anchor="start" fill="#231f20" font-weight="normal" stroke="#231f20" stroke-width="0.5" >0</text>
<text x="1400.0" y="650.0" font-size="32.8" text-anchor="start" fill="#231f20" font-weight="normal" stroke="#231f20" stroke-width="0.5" >1</text>
<text x="1400.0" y="762.9" font-size="32.8" text-anchor="start" fill="#231f20" font-weight="normal" stroke="#231f20" stroke-width="0.5" >−1</text>
<text x="1400.0" y="898.9" font-size="32.8" text-anchor="start" fill="#231f20" font-weight="normal" stroke="#231f20" stroke-width="0.5" >0</text>
<text x="1400.0" y="1034.9" font-size="32.8" text-anchor="start" fill="#231f20" font-weight="normal" stroke="#231f20" stroke-width="0.5" >1</text>
<text x="1400.0" y="1091.5" font-size="32.8" text-anchor="start" fill="#231f20" font-weight="normal" stroke="#231f20" stroke-width="0.5" >500</text>
<text x="1400.0" y="1233.8000000000002" font-size="32.8" text-anchor="start" fill="#231f20" font-weight="normal" stroke="#231f20" stroke-width="0.5" >450</text>
<text x="1400.0" y="1376.0" font-size="32.8" text-anchor="start" fill="#231f20" font-weight="normal" stroke="#231f20" stroke-width="0.5" >400</text>
<text x="261.4" y="1764.3" font-size="32.8" text-anchor="middle" fill="#231f20" font-weight="normal" stroke="#231f20" stroke-width="0.5" >0</text>
<text x="362.5" y="1764.3" font-size="32.8" text-anchor="middle" fill="#231f20" font-weight="normal" stroke="#231f20" stroke-width="0.5" >50</text>
<text x="463.6" y="1764.3" font-size="32.8" text-anchor="middle" fill="#231f20" font-weight="normal" stroke="#231f20" stroke-width="0.5" >100</text>
<text x="564.7" y="1764.3" font-size="32.8" text-anchor="middle" fill="#231f20" font-weight="normal" stroke="#231f20" stroke-width="0.5" >150</text>
<text x="665.8" y="1764.3" font-size="32.8" text-anchor="middle" fill="#231f20" font-weight="normal" stroke="#231f20" stroke-width="0.5" >200</text>
<text x="766.9" y="1764.3" font-size="32.8" text-anchor="middle" fill="#231f20" font-weight="normal" stroke="#231f20" stroke-width="0.5" >250</text>
<text x="868.1" y="1764.3" font-size="32.8" text-anchor="middle" fill="#231f20" font-weight="normal" stroke="#231f20" stroke-width="0.5" >300</text>
<text x="969.2" y="1764.3" font-size="32.8" text-anchor="middle" fill="#231f20" font-weight="normal" stroke="#231f20" stroke-width="0.5" >350</text>
<text x="1070.3" y="1764.3" font-size="32.8" text-anchor="middle" fill="#231f20" font-weight="normal" stroke="#231f20" stroke-width="0.5" >400</text>
<text x="1171.4" y="1764.3" font-size="32.8" text-anchor="middle" fill="#231f20" font-weight="normal" stroke="#231f20" stroke-width="0.5" >450</text>
<text x="1272.5" y="1764.3" font-size="32.8" text-anchor="middle" fill="#231f20" font-weight="normal" stroke="#231f20" stroke-width="0.5" >500</text>
<text x="1373.6" y="1764.3" font-size="32.8" text-anchor="middle" fill="#231f20" font-weight="normal" stroke="#231f20" stroke-width="0.5" >550</text>
<text x="816" y="1816" font-size="32.3" text-anchor="middle" fill="#231f20" font-weight="normal" stroke="#231f20" stroke-width="0.5" >Age (ka)</text>
<text x="275.4" y="1444" font-size="32.5" text-anchor="middle" fill="#000" font-weight="bold"  >1</text>
<text x="353" y="1444" font-size="32.5" text-anchor="middle" fill="#000" font-weight="bold"  >3</text>
<text x="476.2" y="1444" font-size="32.5" text-anchor="middle" fill="#000" font-weight="bold"  >5</text>
<text x="715" y="1444" font-size="32.5" text-anchor="middle" fill="#000" font-weight="bold"  >7</text>
<text x="894.9" y="1444" font-size="32.5" text-anchor="middle" fill="#000" font-weight="bold"  >9</text>
<text x="1087.4" y="1444" font-size="32.5" text-anchor="middle" fill="#000" font-weight="bold"  >11</text>
<text x="1292.7" y="1441.5" font-size="32.5" text-anchor="middle" fill="#000" font-weight="bold"  >13</text>
<text x="-1.5" y="165" font-size="51" text-anchor="start" fill="#000" font-weight="bold"  >a</text>
<text x="-1.5" y="528.8" font-size="51" text-anchor="start" fill="#000" font-weight="bold"  >b</text>
<text x="-1.5" y="884" font-size="51" text-anchor="start" fill="#000" font-weight="bold"  >c</text>
<text x="-1.5" y="1214.3" font-size="51" text-anchor="start" fill="#000" font-weight="bold"  >d</text>
<text x="-1.5" y="1555.6" font-size="51" text-anchor="start" fill="#000" font-weight="bold"  >e</text>
<text transform="translate(91.2 507.8) rotate(-90)" font-size="37.0" text-anchor="middle" fill="#231f20" stroke="#231f20" stroke-width="0.5" textLength="367.5" lengthAdjust="spacingAndGlyphs">High export production</text>
<text transform="translate(91.2 1203.1) rotate(-90)" font-size="37.0" text-anchor="middle" fill="#231f20" stroke="#231f20" stroke-width="0.5" textLength="270.2" lengthAdjust="spacingAndGlyphs">Strong upwelling</text>
<text transform="translate(161.4 159.9) rotate(-90)" font-size="33.4" text-anchor="middle" fill="#231f20" stroke="#231f20" stroke-width="0.5" textLength="78.3" lengthAdjust="spacingAndGlyphs">Ca/Ti</text>
<text transform="translate(161.4 517.8) rotate(-90)" font-size="33.4" text-anchor="middle" fill="#231f20" stroke="#231f20" stroke-width="0.5" textLength="127.1" lengthAdjust="spacingAndGlyphs">Opal (%)</text>
<text transform="translate(161.4 866.4) rotate(-90)" font-size="33.4" text-anchor="middle" fill="#231f20" stroke="#231f20" stroke-width="0.5" textLength="73.5" lengthAdjust="spacingAndGlyphs">Ba/Ti</text>
<text transform="translate(163.0 1207.5) rotate(-90)" font-size="33.4" text-anchor="middle" fill="#231f20" stroke="#231f20" stroke-width="0.5" textLength="228" lengthAdjust="spacingAndGlyphs">Upwelling index</text>
<text transform="translate(162 1625.2) rotate(-90)" font-size="33.4" fill="#231f20" stroke="#231f20" stroke-width="0.5">δ<tspan font-size="25" dy="-15.5">18</tspan><tspan dy="15.5">O (‰)</tspan></text>
<text transform="translate(1473.3 169.7) rotate(90)" font-size="33.4" text-anchor="middle" fill="#3c8dbc" stroke="#3c8dbc" stroke-width="0.5" textLength="246" lengthAdjust="spacingAndGlyphs">Obliquity (Norm.)</text>
<text transform="translate(1473.8 512.6) rotate(90)" font-size="33.4" text-anchor="middle" fill="#ee2e24" stroke="#ee2e24" stroke-width="0.5" textLength="280.5" lengthAdjust="spacingAndGlyphs">Precession (Norm.)</text>
<text transform="translate(1473.8 874.1) rotate(90)" font-size="33.4" text-anchor="middle" fill="#ee2e24" stroke="#ee2e24" stroke-width="0.5" textLength="280.5" lengthAdjust="spacingAndGlyphs">Precession (Norm.)</text>
<text transform="translate(1472.8 1084.6) rotate(90)" font-size="33.4" fill="#ee2e24" stroke="#ee2e24" stroke-width="0.5" textLength="258.5" lengthAdjust="spacingAndGlyphs">Insolation (W/m<tspan font-size="24" dy="-12.5">2</tspan><tspan dy="12.5">)</tspan></text>
</svg>
</body></html>
